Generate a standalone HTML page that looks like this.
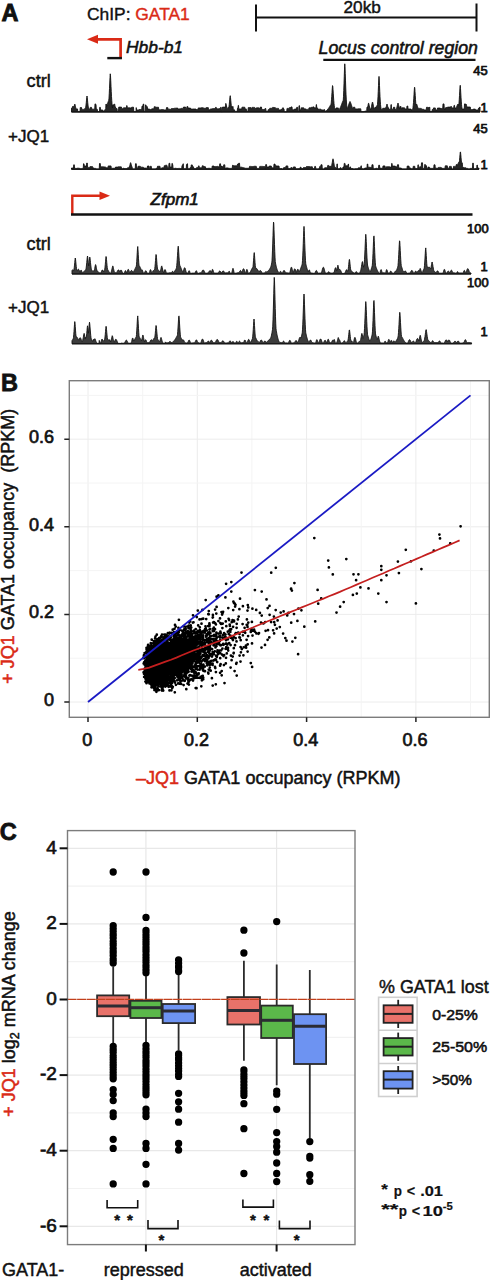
<!DOCTYPE html>
<html><head><meta charset="utf-8"><style>
html,body{margin:0;padding:0;background:#fff;}
svg{display:block;font-family:"Liberation Sans",sans-serif;}
</style></head><body>
<svg width="490" height="1280" viewBox="0 0 490 1280" style='font-family:"Liberation Sans",sans-serif'>
<text x="1.6" y="21.4" font-size="23.5" font-weight="bold" font-style="normal" text-anchor="start" fill="#111" stroke="#111" stroke-width="0.9" >A</text>
<text x="87" y="19.6" font-size="17.4" fill="#111" stroke="#111" stroke-width="0.4">ChIP: <tspan fill="#da2a16" stroke="#da2a16">GATA1</tspan></text>
<path d="M256 17.6H476.5M256 4.5V31.5M476.5 3.5V31.5" stroke="#111" stroke-width="2" fill="none"/>
<text x="362.2" y="13.2" font-size="17.2" font-weight="normal" font-style="normal" text-anchor="middle" fill="#111" stroke="#111" stroke-width="0.45" >20kb</text>
<path d="M95 39.3H120.6V59" stroke="#da2a16" stroke-width="2.7" fill="none"/>
<path d="M87.0 39.3L98.0 34.8L98.0 43.8Z" fill="#da2a16"/>
<path d="M107.3 58.1H121.9" stroke="#111" stroke-width="2.4" fill="none"/>
<text x="126" y="53.4" font-size="17.4" font-weight="normal" font-style="italic" text-anchor="start" fill="#111" stroke="#111" stroke-width="0.55" >Hbb-b1</text>
<text x="318.6" y="53.8" font-size="17.7" font-weight="normal" font-style="italic" text-anchor="start" fill="#111" stroke="#111" stroke-width="0.55" >Locus control region</text>
<path d="M323.3 59.8H475.5" stroke="#111" stroke-width="2.2"/>
<path d="M72.3 214V195.7H101" stroke="#da2a16" stroke-width="2.4" fill="none"/>
<path d="M110 195.7L99.5 191.4L99.5 200Z" fill="#da2a16"/>
<path d="M71 214.5H472.5" stroke="#111" stroke-width="2.4"/>
<text x="150.6" y="205.0" font-size="17" font-weight="normal" font-style="italic" text-anchor="start" fill="#111" stroke="#111" stroke-width="0.65" >Zfpm1</text>
<text x="26.6" y="87.4" font-size="18.2" font-weight="normal" font-style="normal" text-anchor="start" fill="#111" stroke="#111" stroke-width="0.45" >ctrl</text>
<text x="8" y="141.7" font-size="17.0" font-weight="normal" font-style="normal" text-anchor="start" fill="#111" stroke="#111" stroke-width="0.45" >+JQ1</text>
<text x="26.6" y="249.6" font-size="18.2" font-weight="normal" font-style="normal" text-anchor="start" fill="#111" stroke="#111" stroke-width="0.45" >ctrl</text>
<text x="8" y="312.7" font-size="17.0" font-weight="normal" font-style="normal" text-anchor="start" fill="#111" stroke="#111" stroke-width="0.45" >+JQ1</text>
<text x="487.6" y="75" font-size="12.9" font-weight="normal" font-style="normal" text-anchor="end" fill="#111" stroke="#111" stroke-width="0.75" >45</text>
<text x="487.6" y="111.8" font-size="12.9" font-weight="normal" font-style="normal" text-anchor="end" fill="#111" stroke="#111" stroke-width="0.75" >1</text>
<text x="487.6" y="132.5" font-size="12.9" font-weight="normal" font-style="normal" text-anchor="end" fill="#111" stroke="#111" stroke-width="0.75" >45</text>
<text x="487.6" y="169.4" font-size="12.9" font-weight="normal" font-style="normal" text-anchor="end" fill="#111" stroke="#111" stroke-width="0.75" >1</text>
<text x="488.6" y="233.2" font-size="12.9" font-weight="normal" font-style="normal" text-anchor="end" fill="#111" stroke="#111" stroke-width="0.75" >100</text>
<text x="487.6" y="270.8" font-size="12.9" font-weight="normal" font-style="normal" text-anchor="end" fill="#111" stroke="#111" stroke-width="0.75" >1</text>
<text x="488.6" y="287" font-size="12.9" font-weight="normal" font-style="normal" text-anchor="end" fill="#111" stroke="#111" stroke-width="0.75" >100</text>
<text x="487.6" y="336.3" font-size="12.9" font-weight="normal" font-style="normal" text-anchor="end" fill="#111" stroke="#111" stroke-width="0.75" >1</text>
<path d="M71.5,112 L71.50,108.2 L71.75,108.2 L72.00,108.2 L72.25,108.2 L72.50,106.5 L72.75,106.5 L73.00,106.5 L73.25,106.5 L73.50,106.5 L73.75,106.5 L74.00,106.5 L74.25,106.0 L74.50,104.9 L74.75,104.1 L75.00,104.5 L75.25,105.5 L75.50,106.7 L75.75,107.8 L76.00,108.8 L76.25,108.9 L76.50,108.9 L76.75,108.9 L77.00,108.9 L77.25,108.9 L77.50,108.9 L77.75,111.6 L78.00,111.6 L78.25,111.6 L78.50,111.6 L78.75,111.6 L79.00,111.6 L79.25,111.6 L79.50,111.6 L79.75,111.6 L80.00,111.6 L80.25,107.5 L80.50,107.5 L80.75,107.5 L81.00,107.5 L81.25,107.5 L81.50,107.5 L81.75,109.4 L82.00,109.4 L82.25,109.4 L82.50,109.4 L82.75,109.4 L83.00,109.4 L83.25,109.4 L83.50,109.4 L83.75,109.4 L84.00,109.4 L84.25,109.4 L84.50,109.4 L84.75,108.5 L85.00,108.5 L85.25,108.5 L85.50,108.5 L85.75,107.1 L86.00,105.1 L86.25,102.8 L86.50,100.1 L86.75,97.6 L87.00,96.0 L87.25,97.6 L87.50,100.1 L87.75,102.8 L88.00,105.1 L88.25,107.1 L88.50,108.1 L88.75,108.3 L89.00,108.6 L89.25,109.0 L89.50,109.3 L89.75,109.3 L90.00,109.3 L90.25,107.4 L90.50,107.4 L90.75,107.4 L91.00,107.4 L91.25,107.4 L91.50,107.4 L91.75,109.2 L92.00,109.2 L92.25,109.2 L92.50,109.2 L92.75,109.2 L93.00,109.2 L93.25,109.2 L93.50,109.2 L93.75,109.2 L94.00,109.2 L94.25,109.2 L94.50,109.2 L94.75,109.2 L95.00,103.9 L95.25,103.9 L95.50,103.9 L95.75,104.6 L96.00,104.6 L96.25,109.3 L96.50,109.3 L96.75,109.3 L97.00,109.3 L97.25,109.3 L97.50,111.5 L97.75,111.5 L98.00,111.5 L98.25,111.5 L98.50,111.5 L98.75,111.5 L99.00,111.5 L99.25,111.5 L99.50,111.5 L99.75,107.3 L100.00,107.3 L100.25,107.3 L100.50,109.9 L100.75,109.9 L101.00,109.9 L101.25,109.9 L101.50,109.9 L101.75,109.9 L102.00,109.9 L102.25,109.9 L102.50,109.9 L102.75,111.0 L103.00,111.0 L103.25,111.0 L103.50,111.0 L103.75,111.0 L104.00,110.8 L104.25,110.6 L104.50,110.3 L104.75,110.0 L105.00,109.7 L105.25,109.3 L105.50,108.9 L105.75,108.4 L106.00,104.0 L106.25,104.0 L106.50,106.7 L106.75,106.0 L107.00,105.3 L107.25,104.5 L107.50,103.8 L107.75,103.0 L108.00,102.2 L108.25,101.5 L108.50,100.8 L108.75,100.3 L109.00,98.2 L109.25,93.7 L109.50,88.5 L109.75,83.0 L110.00,77.6 L110.25,73.8 L110.50,75.8 L110.75,80.7 L111.00,86.3 L111.25,91.7 L111.50,96.5 L111.75,100.5 L112.00,103.7 L112.25,106.1 L112.50,108.0 L112.75,104.9 L113.00,104.9 L113.25,104.9 L113.50,104.9 L113.75,104.9 L114.00,104.2 L114.25,104.2 L114.50,104.2 L114.75,104.2 L115.00,106.9 L115.25,106.9 L115.50,106.9 L115.75,108.5 L116.00,108.5 L116.25,108.5 L116.50,108.5 L116.75,108.5 L117.00,108.5 L117.25,111.5 L117.50,111.5 L117.75,111.5 L118.00,111.5 L118.25,111.5 L118.50,111.5 L118.75,107.1 L119.00,107.1 L119.25,107.1 L119.50,107.1 L119.75,107.1 L120.00,107.1 L120.25,107.1 L120.50,107.1 L120.75,107.1 L121.00,107.1 L121.25,107.1 L121.50,107.1 L121.75,108.7 L122.00,108.7 L122.25,108.7 L122.50,108.7 L122.75,108.7 L123.00,108.7 L123.25,108.7 L123.50,107.8 L123.75,107.8 L124.00,107.8 L124.25,107.8 L124.50,107.8 L124.75,107.8 L125.00,107.8 L125.25,107.8 L125.50,107.8 L125.75,107.8 L126.00,107.8 L126.25,107.8 L126.50,107.8 L126.75,105.6 L127.00,105.6 L127.25,107.8 L127.50,107.8 L127.75,107.8 L128.00,107.8 L128.25,107.8 L128.50,107.8 L128.75,107.8 L129.00,107.8 L129.25,107.8 L129.50,107.8 L129.75,107.8 L130.00,107.8 L130.25,107.8 L130.50,108.0 L130.75,108.0 L131.00,108.0 L131.25,108.0 L131.50,108.0 L131.75,107.2 L132.00,107.2 L132.25,107.2 L132.50,107.2 L132.75,107.2 L133.00,107.2 L133.25,107.2 L133.50,107.2 L133.75,111.6 L134.00,111.6 L134.25,111.6 L134.50,111.6 L134.75,111.6 L135.00,111.6 L135.25,111.6 L135.50,111.6 L135.75,111.6 L136.00,111.6 L136.25,107.6 L136.50,109.9 L136.75,109.9 L137.00,109.9 L137.25,109.9 L137.50,109.9 L137.75,109.9 L138.00,109.9 L138.25,109.9 L138.50,109.9 L138.75,109.9 L139.00,109.5 L139.25,109.5 L139.50,109.5 L139.75,109.5 L140.00,109.5 L140.25,109.5 L140.50,109.5 L140.75,109.5 L141.00,109.5 L141.25,109.5 L141.50,109.5 L141.75,109.5 L142.00,106.1 L142.25,106.1 L142.50,106.1 L142.75,106.1 L143.00,106.1 L143.25,104.0 L143.50,104.0 L143.75,104.0 L144.00,111.4 L144.25,111.4 L144.50,111.4 L144.75,111.4 L145.00,111.4 L145.25,111.4 L145.50,104.9 L145.75,104.9 L146.00,104.9 L146.25,106.6 L146.50,106.6 L146.75,106.6 L147.00,106.6 L147.25,106.6 L147.50,109.0 L147.75,109.0 L148.00,109.0 L148.25,109.0 L148.50,109.0 L148.75,109.0 L149.00,109.0 L149.25,109.0 L149.50,109.0 L149.75,109.6 L150.00,109.6 L150.25,109.6 L150.50,109.6 L150.75,109.6 L151.00,109.6 L151.25,109.6 L151.50,109.6 L151.75,108.8 L152.00,108.8 L152.25,108.8 L152.50,108.8 L152.75,108.8 L153.00,108.8 L153.25,108.8 L153.50,108.8 L153.75,108.8 L154.00,108.8 L154.25,106.7 L154.50,106.7 L154.75,106.7 L155.00,106.7 L155.25,106.7 L155.50,107.3 L155.75,107.3 L156.00,107.3 L156.25,107.3 L156.50,107.3 L156.75,107.3 L157.00,107.3 L157.25,107.3 L157.50,107.3 L157.75,107.3 L158.00,107.3 L158.25,107.3 L158.50,107.3 L158.75,109.8 L159.00,109.8 L159.25,109.8 L159.50,109.8 L159.75,109.8 L160.00,109.8 L160.25,109.8 L160.50,109.8 L160.75,109.8 L161.00,109.6 L161.25,109.6 L161.50,109.6 L161.75,109.6 L162.00,109.6 L162.25,109.6 L162.50,109.6 L162.75,109.6 L163.00,109.6 L163.25,109.6 L163.50,109.6 L163.75,109.9 L164.00,109.9 L164.25,109.9 L164.50,109.9 L164.75,109.9 L165.00,109.9 L165.25,109.9 L165.50,109.9 L165.75,109.9 L166.00,109.9 L166.25,109.9 L166.50,107.6 L166.75,107.6 L167.00,107.6 L167.25,107.6 L167.50,107.6 L167.75,107.6 L168.00,109.2 L168.25,109.2 L168.50,109.2 L168.75,109.2 L169.00,109.2 L169.25,109.2 L169.50,109.2 L169.75,109.2 L170.00,109.2 L170.25,109.2 L170.50,109.2 L170.75,109.6 L171.00,109.6 L171.25,109.6 L171.50,108.5 L171.75,108.5 L172.00,108.5 L172.25,108.5 L172.50,108.5 L172.75,108.5 L173.00,108.5 L173.25,108.5 L173.50,108.5 L173.75,108.5 L174.00,108.5 L174.25,108.2 L174.50,108.2 L174.75,108.2 L175.00,108.2 L175.25,108.2 L175.50,108.2 L175.75,108.2 L176.00,108.2 L176.25,108.2 L176.50,108.1 L176.75,108.1 L177.00,108.1 L177.25,108.1 L177.50,108.1 L177.75,108.1 L178.00,109.1 L178.25,109.1 L178.50,109.1 L178.75,109.1 L179.00,109.1 L179.25,109.1 L179.50,108.8 L179.75,108.8 L180.00,108.8 L180.25,108.8 L180.50,108.8 L180.75,108.8 L181.00,108.4 L181.25,108.4 L181.50,108.4 L181.75,108.4 L182.00,108.4 L182.25,108.4 L182.50,108.4 L182.75,108.4 L183.00,108.4 L183.25,108.4 L183.50,107.1 L183.75,107.1 L184.00,107.1 L184.25,107.1 L184.50,107.1 L184.75,107.1 L185.00,107.1 L185.25,107.1 L185.50,107.1 L185.75,108.4 L186.00,108.4 L186.25,108.4 L186.50,108.4 L186.75,108.4 L187.00,106.5 L187.25,106.5 L187.50,106.5 L187.75,106.5 L188.00,108.1 L188.25,108.1 L188.50,108.1 L188.75,108.1 L189.00,108.1 L189.25,108.1 L189.50,108.1 L189.75,108.1 L190.00,108.1 L190.25,108.1 L190.50,108.1 L190.75,109.1 L191.00,109.1 L191.25,109.1 L191.50,109.1 L191.75,109.1 L192.00,109.1 L192.25,109.1 L192.50,109.1 L192.75,109.1 L193.00,109.1 L193.25,109.0 L193.50,109.0 L193.75,109.0 L194.00,109.0 L194.25,109.0 L194.50,109.0 L194.75,109.0 L195.00,109.0 L195.25,109.0 L195.50,109.0 L195.75,109.0 L196.00,109.0 L196.25,109.5 L196.50,109.5 L196.75,109.5 L197.00,109.5 L197.25,109.5 L197.50,109.5 L197.75,109.5 L198.00,109.5 L198.25,107.9 L198.50,107.9 L198.75,107.9 L199.00,107.9 L199.25,107.9 L199.50,107.9 L199.75,107.9 L200.00,107.9 L200.25,107.9 L200.50,107.9 L200.75,107.9 L201.00,107.7 L201.25,107.7 L201.50,107.7 L201.75,107.7 L202.00,107.7 L202.25,107.7 L202.50,107.7 L202.75,107.7 L203.00,107.7 L203.25,107.7 L203.50,108.3 L203.75,108.3 L204.00,108.3 L204.25,108.3 L204.50,108.3 L204.75,108.3 L205.00,108.3 L205.25,108.3 L205.50,108.3 L205.75,108.3 L206.00,108.3 L206.25,107.6 L206.50,107.6 L206.75,107.6 L207.00,107.6 L207.25,107.6 L207.50,107.6 L207.75,107.6 L208.00,107.6 L208.25,107.6 L208.50,109.7 L208.75,109.7 L209.00,109.7 L209.25,109.7 L209.50,109.7 L209.75,109.7 L210.00,109.7 L210.25,109.7 L210.50,108.9 L210.75,108.9 L211.00,108.9 L211.25,108.9 L211.50,108.9 L211.75,108.9 L212.00,108.9 L212.25,108.9 L212.50,108.6 L212.75,108.6 L213.00,108.6 L213.25,108.6 L213.50,108.6 L213.75,108.6 L214.00,108.6 L214.25,108.6 L214.50,108.6 L214.75,108.6 L215.00,108.6 L215.25,108.6 L215.50,107.4 L215.75,107.4 L216.00,107.4 L216.25,107.4 L216.50,108.8 L216.75,108.8 L217.00,108.8 L217.25,108.8 L217.50,108.8 L217.75,108.8 L218.00,108.8 L218.25,108.8 L218.50,108.8 L218.75,108.8 L219.00,108.8 L219.25,108.8 L219.50,108.5 L219.75,108.5 L220.00,108.5 L220.25,108.5 L220.50,107.4 L220.75,107.4 L221.00,107.4 L221.25,107.4 L221.50,111.7 L221.75,111.7 L222.00,111.7 L222.25,111.7 L222.50,107.1 L222.75,107.1 L223.00,107.1 L223.25,107.1 L223.50,107.1 L223.75,107.1 L224.00,107.1 L224.25,107.1 L224.50,107.1 L224.75,107.1 L225.00,107.1 L225.25,107.1 L225.50,107.1 L225.75,103.5 L226.00,103.5 L226.25,105.5 L226.50,105.5 L226.75,108.4 L227.00,108.4 L227.25,108.4 L227.50,108.4 L227.75,108.4 L228.00,107.4 L228.25,107.4 L228.50,107.4 L228.75,107.4 L229.00,106.6 L229.25,104.4 L229.50,101.9 L229.75,99.2 L230.00,96.7 L230.25,95.7 L230.50,97.6 L230.75,100.3 L231.00,103.0 L231.25,105.3 L231.50,107.1 L231.75,107.1 L232.00,107.1 L232.25,107.1 L232.50,107.1 L232.75,106.4 L233.00,106.4 L233.25,109.8 L233.50,109.8 L233.75,109.8 L234.00,109.8 L234.25,109.8 L234.50,109.8 L234.75,111.4 L235.00,111.4 L235.25,111.4 L235.50,111.4 L235.75,111.4 L236.00,111.4 L236.25,111.4 L236.50,111.4 L236.75,111.4 L237.00,111.4 L237.25,111.4 L237.50,108.2 L237.75,108.2 L238.00,108.2 L238.25,105.4 L238.50,105.4 L238.75,108.9 L239.00,108.9 L239.25,108.9 L239.50,108.9 L239.75,108.9 L240.00,108.9 L240.25,108.9 L240.50,108.9 L240.75,108.9 L241.00,108.9 L241.25,108.9 L241.50,108.9 L241.75,108.9 L242.00,107.2 L242.25,107.2 L242.50,107.2 L242.75,107.2 L243.00,107.2 L243.25,107.2 L243.50,107.2 L243.75,107.2 L244.00,107.2 L244.25,107.2 L244.50,107.2 L244.75,107.2 L245.00,108.9 L245.25,108.9 L245.50,108.9 L245.75,108.9 L246.00,108.9 L246.25,108.9 L246.50,111.3 L246.75,111.3 L247.00,111.3 L247.25,111.3 L247.50,111.3 L247.75,111.3 L248.00,111.3 L248.25,107.6 L248.50,107.6 L248.75,107.6 L249.00,107.6 L249.25,107.6 L249.50,107.6 L249.75,107.6 L250.00,107.6 L250.25,107.6 L250.50,107.6 L250.75,107.6 L251.00,107.6 L251.25,108.7 L251.50,108.7 L251.75,108.7 L252.00,107.4 L252.25,107.4 L252.50,107.4 L252.75,107.4 L253.00,107.4 L253.25,107.4 L253.50,107.4 L253.75,107.4 L254.00,107.4 L254.25,107.4 L254.50,107.4 L254.75,108.2 L255.00,108.2 L255.25,108.2 L255.50,108.2 L255.75,109.5 L256.00,109.5 L256.25,109.5 L256.50,107.8 L256.75,107.8 L257.00,107.8 L257.25,107.8 L257.50,107.8 L257.75,107.8 L258.00,107.8 L258.25,107.8 L258.50,107.8 L258.75,107.8 L259.00,108.5 L259.25,108.5 L259.50,108.5 L259.75,108.5 L260.00,108.5 L260.25,107.1 L260.50,107.1 L260.75,107.1 L261.00,107.1 L261.25,107.1 L261.50,107.1 L261.75,109.5 L262.00,109.5 L262.25,109.5 L262.50,109.5 L262.75,109.5 L263.00,109.5 L263.25,109.5 L263.50,109.5 L263.75,109.5 L264.00,109.5 L264.25,109.5 L264.50,109.5 L264.75,109.5 L265.00,108.5 L265.25,108.5 L265.50,108.5 L265.75,108.5 L266.00,111.3 L266.25,111.3 L266.50,111.3 L266.75,111.3 L267.00,111.3 L267.25,111.3 L267.50,111.3 L267.75,111.3 L268.00,111.3 L268.25,109.6 L268.50,109.6 L268.75,109.6 L269.00,109.6 L269.25,109.6 L269.50,109.6 L269.75,108.3 L270.00,108.3 L270.25,108.3 L270.50,108.3 L270.75,108.3 L271.00,108.3 L271.25,108.3 L271.50,108.3 L271.75,108.3 L272.00,108.3 L272.25,108.3 L272.50,108.3 L272.75,107.3 L273.00,107.3 L273.25,107.3 L273.50,107.6 L273.75,107.6 L274.00,107.6 L274.25,107.6 L274.50,107.6 L274.75,107.6 L275.00,107.6 L275.25,107.6 L275.50,108.4 L275.75,108.4 L276.00,108.4 L276.25,108.4 L276.50,108.4 L276.75,108.4 L277.00,108.4 L277.25,108.4 L277.50,108.4 L277.75,108.4 L278.00,108.4 L278.25,108.4 L278.50,108.4 L278.75,109.9 L279.00,109.9 L279.25,109.9 L279.50,109.9 L279.75,109.9 L280.00,109.9 L280.25,109.9 L280.50,109.9 L280.75,109.9 L281.00,109.3 L281.25,109.3 L281.50,109.3 L281.75,109.3 L282.00,109.3 L282.25,109.3 L282.50,109.3 L282.75,107.8 L283.00,107.8 L283.25,107.8 L283.50,108.9 L283.75,108.9 L284.00,108.9 L284.25,111.7 L284.50,111.7 L284.75,111.7 L285.00,111.7 L285.25,111.7 L285.50,111.7 L285.75,111.7 L286.00,111.7 L286.25,111.7 L286.50,111.7 L286.75,111.7 L287.00,108.4 L287.25,108.4 L287.50,108.4 L287.75,108.4 L288.00,108.4 L288.25,108.4 L288.50,108.4 L288.75,108.4 L289.00,108.4 L289.25,108.4 L289.50,107.6 L289.75,107.6 L290.00,107.6 L290.25,107.6 L290.50,107.6 L290.75,107.6 L291.00,106.9 L291.25,106.9 L291.50,106.9 L291.75,106.9 L292.00,106.9 L292.25,109.8 L292.50,109.8 L292.75,109.8 L293.00,109.8 L293.25,109.8 L293.50,109.8 L293.75,109.8 L294.00,109.8 L294.25,109.8 L294.50,109.0 L294.75,109.0 L295.00,109.0 L295.25,109.0 L295.50,109.0 L295.75,109.0 L296.00,109.0 L296.25,109.0 L296.50,109.0 L296.75,107.3 L297.00,107.3 L297.25,107.3 L297.50,107.3 L297.75,111.3 L298.00,111.3 L298.25,111.3 L298.50,111.3 L298.75,111.3 L299.00,105.7 L299.25,105.7 L299.50,105.7 L299.75,109.8 L300.00,109.8 L300.25,109.8 L300.50,109.8 L300.75,109.8 L301.00,109.8 L301.25,107.8 L301.50,107.8 L301.75,107.8 L302.00,107.8 L302.25,107.8 L302.50,107.8 L302.75,107.8 L303.00,107.8 L303.25,107.8 L303.50,107.8 L303.75,107.8 L304.00,108.9 L304.25,108.9 L304.50,108.9 L304.75,108.9 L305.00,108.9 L305.25,108.9 L305.50,108.9 L305.75,108.9 L306.00,108.9 L306.25,109.4 L306.50,109.4 L306.75,109.4 L307.00,109.4 L307.25,109.4 L307.50,109.4 L307.75,109.4 L308.00,109.4 L308.25,109.4 L308.50,109.4 L308.75,109.4 L309.00,107.8 L309.25,107.8 L309.50,107.8 L309.75,107.8 L310.00,107.8 L310.25,107.8 L310.50,107.8 L310.75,107.8 L311.00,107.8 L311.25,107.8 L311.50,107.2 L311.75,107.2 L312.00,107.2 L312.25,107.2 L312.50,107.2 L312.75,107.2 L313.00,106.9 L313.25,106.9 L313.50,106.9 L313.75,106.9 L314.00,106.9 L314.25,107.9 L314.50,107.9 L314.75,107.9 L315.00,107.9 L315.25,107.9 L315.50,107.7 L315.75,107.7 L316.00,107.7 L316.25,104.6 L316.50,104.6 L316.75,107.8 L317.00,107.8 L317.25,107.8 L317.50,109.1 L317.75,109.1 L318.00,109.1 L318.25,109.1 L318.50,109.1 L318.75,109.2 L319.00,109.2 L319.25,109.2 L319.50,109.2 L319.75,109.2 L320.00,109.2 L320.25,109.2 L320.50,109.2 L320.75,109.2 L321.00,109.2 L321.25,109.9 L321.50,109.9 L321.75,109.9 L322.00,109.9 L322.25,109.9 L322.50,109.9 L322.75,109.9 L323.00,109.9 L323.25,109.9 L323.50,109.9 L323.75,109.9 L324.00,109.6 L324.25,109.6 L324.50,109.6 L324.75,111.4 L325.00,111.3 L325.25,111.2 L325.50,111.1 L325.75,111.0 L326.00,110.9 L326.25,110.7 L326.50,110.5 L326.75,110.3 L327.00,110.1 L327.25,109.9 L327.50,109.6 L327.75,109.1 L328.00,109.0 L328.25,108.7 L328.50,108.4 L328.75,108.0 L329.00,107.6 L329.25,107.2 L329.50,106.8 L329.75,106.4 L330.00,105.9 L330.25,105.5 L330.50,105.1 L330.75,104.7 L331.00,104.4 L331.25,102.9 L331.50,99.8 L331.75,96.3 L332.00,92.4 L332.25,88.6 L332.50,85.6 L332.75,86.1 L333.00,89.3 L333.25,93.2 L333.50,97.0 L333.75,100.5 L334.00,103.4 L334.25,105.8 L334.50,107.6 L334.75,108.7 L335.00,109.0 L335.25,109.1 L335.50,109.1 L335.75,109.1 L336.00,107.9 L336.25,107.9 L336.50,107.9 L336.75,107.9 L337.00,107.9 L337.25,107.9 L337.50,107.9 L337.75,107.9 L338.00,107.9 L338.25,107.9 L338.50,109.5 L338.75,109.5 L339.00,109.5 L339.25,109.4 L339.50,109.0 L339.75,108.6 L340.00,108.2 L340.25,107.7 L340.50,107.2 L340.75,106.6 L341.00,106.0 L341.25,105.3 L341.50,104.7 L341.75,104.0 L342.00,103.3 L342.25,102.6 L342.50,101.9 L342.75,101.3 L343.00,100.7 L343.25,100.3 L343.50,96.3 L343.75,90.6 L344.00,83.8 L344.25,76.4 L344.50,69.1 L344.75,63.8 L345.00,66.6 L345.25,73.4 L345.50,80.9 L345.75,88.0 L346.00,94.1 L346.25,99.1 L346.50,103.0 L346.75,105.9 L347.00,107.9 L347.25,108.3 L347.50,108.0 L347.75,107.4 L348.00,106.7 L348.25,106.0 L348.50,105.3 L348.75,104.5 L349.00,103.8 L349.25,103.0 L349.50,102.4 L349.75,101.8 L350.00,101.5 L350.25,101.8 L350.50,102.4 L350.75,103.0 L351.00,103.8 L351.25,104.5 L351.50,105.3 L351.75,106.0 L352.00,106.7 L352.25,107.4 L352.50,108.0 L352.75,108.6 L353.00,108.6 L353.25,108.6 L353.50,107.2 L353.75,107.2 L354.00,107.2 L354.25,107.2 L354.50,107.2 L354.75,107.2 L355.00,108.9 L355.25,108.9 L355.50,108.9 L355.75,108.9 L356.00,108.9 L356.25,108.9 L356.50,108.9 L356.75,108.9 L357.00,108.9 L357.25,108.9 L357.50,108.9 L357.75,108.9 L358.00,108.8 L358.25,108.8 L358.50,108.8 L358.75,108.8 L359.00,108.8 L359.25,108.8 L359.50,108.8 L359.75,108.8 L360.00,108.8 L360.25,108.8 L360.50,108.8 L360.75,108.8 L361.00,111.6 L361.25,111.6 L361.50,111.6 L361.75,111.6 L362.00,111.6 L362.25,111.6 L362.50,111.6 L362.75,111.6 L363.00,111.6 L363.25,111.6 L363.50,111.6 L363.75,111.6 L364.00,111.6 L364.25,111.3 L364.50,111.3 L364.75,111.3 L365.00,111.1 L365.25,111.1 L365.50,111.1 L365.75,111.1 L366.00,111.1 L366.25,111.1 L366.50,110.9 L366.75,110.4 L367.00,107.1 L367.25,107.1 L367.50,107.1 L367.75,106.8 L368.00,105.5 L368.25,104.2 L368.50,103.2 L368.75,103.4 L369.00,104.4 L369.25,105.7 L369.50,107.0 L369.75,108.2 L370.00,109.0 L370.25,109.0 L370.50,109.0 L370.75,109.0 L371.00,108.5 L371.25,107.5 L371.50,106.4 L371.75,105.1 L372.00,103.9 L372.25,102.7 L372.50,102.0 L372.75,102.7 L373.00,103.9 L373.25,105.1 L373.50,106.4 L373.75,107.5 L374.00,108.5 L374.25,108.5 L374.50,108.5 L374.75,108.5 L375.00,107.3 L375.25,107.3 L375.50,107.3 L375.75,107.3 L376.00,107.3 L376.25,107.0 L376.50,106.5 L376.75,106.0 L377.00,105.5 L377.25,105.0 L377.50,104.4 L377.75,101.1 L378.00,96.7 L378.25,91.4 L378.50,85.6 L378.75,80.0 L379.00,76.4 L379.25,80.0 L379.50,85.6 L379.75,91.4 L380.00,96.7 L380.25,101.1 L380.50,104.4 L380.75,107.0 L381.00,108.2 L381.25,109.5 L381.50,109.5 L381.75,109.5 L382.00,109.5 L382.25,109.5 L382.50,109.5 L382.75,108.3 L383.00,108.3 L383.25,108.3 L383.50,108.3 L383.75,108.3 L384.00,108.3 L384.25,108.3 L384.50,108.3 L384.75,108.3 L385.00,108.3 L385.25,108.3 L385.50,107.8 L385.75,107.8 L386.00,107.8 L386.25,106.9 L386.50,105.7 L386.75,104.7 L387.00,104.0 L387.25,104.7 L387.50,105.7 L387.75,106.9 L388.00,107.8 L388.25,107.8 L388.50,107.8 L388.75,109.3 L389.00,109.3 L389.25,109.3 L389.50,109.3 L389.75,109.3 L390.00,109.3 L390.25,109.3 L390.50,109.3 L390.75,109.3 L391.00,104.6 L391.25,104.6 L391.50,109.2 L391.75,109.2 L392.00,109.2 L392.25,109.2 L392.50,109.2 L392.75,109.2 L393.00,109.2 L393.25,109.2 L393.50,107.3 L393.75,107.3 L394.00,107.3 L394.25,107.3 L394.50,107.3 L394.75,107.3 L395.00,109.5 L395.25,109.5 L395.50,109.5 L395.75,109.5 L396.00,109.5 L396.25,109.5 L396.50,108.9 L396.75,108.0 L397.00,107.0 L397.25,105.8 L397.50,104.7 L397.75,103.6 L398.00,103.0 L398.25,103.6 L398.50,104.7 L398.75,105.8 L399.00,107.0 L399.25,108.0 L399.50,108.9 L399.75,108.9 L400.00,106.5 L400.25,106.5 L400.50,106.5 L400.75,106.5 L401.00,106.5 L401.25,108.9 L401.50,108.9 L401.75,108.9 L402.00,107.8 L402.25,107.8 L402.50,107.8 L402.75,107.8 L403.00,107.8 L403.25,107.8 L403.50,107.8 L403.75,107.8 L404.00,107.8 L404.25,107.8 L404.50,107.8 L404.75,108.9 L405.00,108.9 L405.25,108.9 L405.50,108.9 L405.75,108.9 L406.00,108.9 L406.25,108.9 L406.50,108.9 L406.75,108.9 L407.00,106.0 L407.25,106.0 L407.50,106.0 L407.75,106.0 L408.00,109.0 L408.25,109.0 L408.50,109.0 L408.75,109.0 L409.00,109.0 L409.25,109.0 L409.50,109.0 L409.75,109.0 L410.00,109.0 L410.25,109.0 L410.50,109.0 L410.75,109.0 L411.00,109.0 L411.25,110.0 L411.50,110.0 L411.75,110.0 L412.00,110.0 L412.25,109.8 L412.50,109.4 L412.75,108.9 L413.00,107.4 L413.25,105.2 L413.50,102.4 L413.75,98.8 L414.00,94.8 L414.25,90.6 L414.50,87.2 L414.75,87.7 L415.00,91.4 L415.25,95.6 L415.50,99.6 L415.75,103.0 L416.00,105.0 L416.25,104.4 L416.50,104.0 L416.75,104.4 L417.00,105.0 L417.25,105.7 L417.50,106.5 L417.75,107.3 L418.00,108.0 L418.25,108.4 L418.50,108.4 L418.75,108.4 L419.00,108.4 L419.25,108.4 L419.50,108.4 L419.75,108.4 L420.00,108.4 L420.25,108.4 L420.50,108.4 L420.75,108.4 L421.00,108.4 L421.25,108.4 L421.50,109.3 L421.75,109.3 L422.00,109.3 L422.25,109.3 L422.50,109.3 L422.75,109.3 L423.00,109.3 L423.25,109.3 L423.50,109.3 L423.75,109.3 L424.00,109.9 L424.25,109.9 L424.50,109.9 L424.75,109.9 L425.00,109.9 L425.25,109.9 L425.50,109.9 L425.75,109.9 L426.00,109.9 L426.25,109.9 L426.50,107.3 L426.75,107.3 L427.00,107.3 L427.25,107.3 L427.50,107.3 L427.75,107.3 L428.00,107.6 L428.25,107.6 L428.50,107.6 L428.75,107.6 L429.00,107.6 L429.25,107.6 L429.50,107.1 L429.75,107.1 L430.00,111.6 L430.25,111.6 L430.50,111.6 L430.75,111.6 L431.00,111.6 L431.25,111.6 L431.50,111.6 L431.75,111.6 L432.00,111.6 L432.25,109.5 L432.50,109.5 L432.75,109.5 L433.00,109.5 L433.25,109.5 L433.50,107.9 L433.75,107.9 L434.00,107.9 L434.25,107.9 L434.50,107.9 L434.75,107.9 L435.00,107.9 L435.25,107.9 L435.50,109.9 L435.75,109.9 L436.00,109.9 L436.25,109.9 L436.50,109.9 L436.75,109.9 L437.00,109.9 L437.25,109.9 L437.50,108.0 L437.75,108.0 L438.00,108.0 L438.25,108.0 L438.50,108.0 L438.75,108.0 L439.00,108.0 L439.25,108.0 L439.50,108.0 L439.75,108.0 L440.00,108.0 L440.25,108.0 L440.50,108.5 L440.75,108.5 L441.00,108.5 L441.25,108.5 L441.50,108.5 L441.75,108.5 L442.00,108.5 L442.25,108.5 L442.50,108.5 L442.75,108.5 L443.00,103.9 L443.25,103.9 L443.50,103.9 L443.75,103.9 L444.00,103.9 L444.25,109.0 L444.50,109.0 L444.75,109.0 L445.00,109.0 L445.25,109.0 L445.50,109.0 L445.75,107.5 L446.00,107.5 L446.25,107.5 L446.50,107.5 L446.75,107.5 L447.00,107.5 L447.25,107.5 L447.50,107.1 L447.75,107.1 L448.00,107.1 L448.25,107.1 L448.50,107.1 L448.75,107.1 L449.00,107.1 L449.25,107.1 L449.50,107.1 L449.75,107.1 L450.00,107.1 L450.25,107.1 L450.50,107.1 L450.75,106.6 L451.00,106.6 L451.25,106.6 L451.50,106.6 L451.75,107.9 L452.00,107.9 L452.25,107.9 L452.50,107.9 L452.75,107.9 L453.00,107.9 L453.25,107.9 L453.50,107.9 L453.75,107.9 L454.00,105.4 L454.25,105.4 L454.50,105.4 L454.75,108.1 L455.00,108.1 L455.25,108.1 L455.50,108.1 L455.75,108.1 L456.00,108.1 L456.25,107.7 L456.50,107.1 L456.75,106.5 L457.00,105.9 L457.25,105.3 L457.50,104.7 L457.75,104.3 L458.00,104.0 L458.25,104.3 L458.50,104.7 L458.75,105.3 L459.00,103.1 L459.25,99.6 L459.50,95.5 L459.75,91.1 L460.00,87.0 L460.25,85.3 L460.50,88.5 L460.75,92.9 L461.00,97.2 L461.25,101.1 L461.50,104.3 L461.75,106.7 L462.00,108.5 L462.25,109.0 L462.50,109.0 L462.75,109.0 L463.00,109.0 L463.25,109.0 L463.50,109.0 L463.75,109.0 L464.00,109.0 L464.25,109.0 L464.50,103.9 L464.75,103.9 L465.00,103.9 L465.25,103.9 L465.50,103.9 L465.75,104.5 L466.00,104.0 L466.25,104.5 L466.50,105.3 L466.75,106.2 L467.00,107.1 L467.25,107.1 L467.50,107.1 L467.75,107.1 L468.00,107.0 L468.25,107.0 L468.50,107.0 L468.75,107.0 L469.00,107.0 L469.25,107.0 L469.50,107.0 L469.75,107.0 L470.00,107.0 L470.25,107.0 L470.50,109.6 L470.75,109.6 L471.00,109.6 L471.25,109.6 L471.50,109.6 L471.75,109.6 L472.00,109.6 L472.25,109.6 L472.50,109.6 L472.75,109.6 L473.00,109.6 L473.25,109.1 L473.50,109.1 L473.75,109.1 L474.00,109.1 L474.25,109.1 L474.50,109.1 L474.75,109.1 L475.00,109.1 L475.25,109.1 L475.50,109.9 L475.75,109.9 L476.00,109.9 L476.25,109.9 L476.50,109.9 L476.75,109.9 L477.00,109.9 L477.25,109.9 L477.50,109.9 L477.75,109.9 L478.00,109.9 L478.25,109.9 L478.50,108.2 L478.75,108.2 L479.00,108.2 L479.25,108.2 L479.50,108.2 L479.75,107.1 L480.00,107.1 L480,112Z" fill="#262626" stroke="#111" stroke-width="0.9" stroke-linejoin="miter"/>
<path d="M71.5 112H480" stroke="#111" stroke-width="1.0"/>
<path d="M71.5,169.3 L71.50,168.0 L71.75,168.0 L72.00,168.0 L72.25,168.0 L72.50,168.0 L72.75,168.0 L73.00,168.0 L73.25,168.0 L73.50,168.0 L73.75,164.8 L74.00,164.8 L74.25,164.8 L74.50,168.2 L74.75,168.2 L75.00,168.2 L75.25,168.2 L75.50,168.2 L75.75,168.5 L76.00,168.5 L76.25,168.5 L76.50,168.5 L76.75,168.2 L77.00,168.2 L77.25,168.2 L77.50,168.2 L77.75,168.2 L78.00,168.2 L78.25,168.2 L78.50,168.2 L78.75,168.2 L79.00,168.2 L79.25,168.2 L79.50,168.2 L79.75,168.7 L80.00,168.7 L80.25,168.7 L80.50,168.7 L80.75,168.7 L81.00,168.7 L81.25,168.7 L81.50,168.7 L81.75,168.7 L82.00,168.7 L82.25,168.4 L82.50,168.4 L82.75,168.4 L83.00,168.4 L83.25,168.4 L83.50,163.8 L83.75,163.8 L84.00,163.8 L84.25,166.0 L84.50,166.0 L84.75,166.0 L85.00,166.0 L85.25,166.0 L85.50,166.0 L85.75,166.0 L86.00,166.0 L86.25,166.0 L86.50,166.0 L86.75,163.0 L87.00,163.0 L87.25,163.0 L87.50,167.4 L87.75,167.4 L88.00,167.4 L88.25,167.4 L88.50,167.4 L88.75,167.4 L89.00,167.4 L89.25,167.4 L89.50,167.4 L89.75,167.4 L90.00,166.6 L90.25,166.6 L90.50,166.6 L90.75,166.6 L91.00,166.6 L91.25,166.6 L91.50,166.6 L91.75,166.6 L92.00,166.6 L92.25,166.6 L92.50,166.6 L92.75,167.9 L93.00,167.9 L93.25,167.9 L93.50,167.9 L93.75,167.9 L94.00,168.4 L94.25,168.4 L94.50,168.4 L94.75,168.4 L95.00,168.4 L95.25,168.4 L95.50,168.4 L95.75,168.4 L96.00,168.9 L96.25,168.9 L96.50,168.9 L96.75,168.9 L97.00,168.9 L97.25,168.9 L97.50,168.9 L97.75,168.9 L98.00,168.9 L98.25,168.9 L98.50,168.9 L98.75,168.9 L99.00,168.9 L99.25,168.8 L99.50,163.5 L99.75,163.5 L100.00,163.5 L100.25,163.5 L100.50,166.8 L100.75,166.8 L101.00,166.8 L101.25,166.8 L101.50,166.8 L101.75,166.8 L102.00,166.8 L102.25,166.8 L102.50,166.8 L102.75,166.8 L103.00,166.8 L103.25,166.8 L103.50,166.8 L103.75,166.9 L104.00,166.9 L104.25,166.9 L104.50,166.9 L104.75,166.9 L105.00,166.9 L105.25,166.9 L105.50,166.9 L105.75,167.7 L106.00,167.7 L106.25,167.7 L106.50,167.7 L106.75,167.7 L107.00,167.7 L107.25,167.7 L107.50,167.7 L107.75,167.7 L108.00,167.7 L108.25,165.9 L108.50,165.9 L108.75,165.9 L109.00,165.9 L109.25,165.9 L109.50,165.9 L109.75,165.9 L110.00,165.9 L110.25,165.9 L110.50,165.9 L110.75,165.9 L111.00,165.9 L111.25,168.4 L111.50,168.4 L111.75,168.4 L112.00,168.4 L112.25,168.4 L112.50,168.3 L112.75,168.3 L113.00,168.3 L113.25,168.3 L113.50,168.3 L113.75,168.3 L114.00,168.3 L114.25,168.3 L114.50,168.3 L114.75,168.3 L115.00,168.3 L115.25,168.3 L115.50,167.1 L115.75,167.1 L116.00,167.1 L116.25,167.1 L116.50,167.1 L116.75,167.1 L117.00,167.1 L117.25,167.1 L117.50,167.1 L117.75,167.1 L118.00,167.1 L118.25,166.8 L118.50,166.8 L118.75,166.8 L119.00,166.8 L119.25,166.8 L119.50,166.8 L119.75,166.8 L120.00,166.8 L120.25,166.8 L120.50,166.8 L120.75,166.8 L121.00,166.8 L121.25,166.8 L121.50,168.8 L121.75,168.8 L122.00,168.8 L122.25,168.8 L122.50,168.8 L122.75,168.8 L123.00,168.8 L123.25,168.2 L123.50,168.2 L123.75,168.2 L124.00,168.2 L124.25,168.5 L124.50,168.5 L124.75,168.5 L125.00,168.5 L125.25,168.5 L125.50,168.5 L125.75,168.5 L126.00,168.5 L126.25,168.5 L126.50,168.5 L126.75,168.5 L127.00,168.5 L127.25,168.5 L127.50,167.8 L127.75,167.8 L128.00,167.8 L128.25,167.8 L128.50,167.8 L128.75,167.8 L129.00,167.8 L129.25,166.6 L129.50,166.6 L129.75,165.8 L130.00,164.7 L130.25,163.6 L130.50,162.7 L130.75,162.8 L131.00,163.8 L131.25,164.9 L131.50,166.0 L131.75,166.6 L132.00,166.6 L132.25,168.2 L132.50,168.6 L132.75,168.8 L133.00,168.9 L133.25,168.9 L133.50,168.9 L133.75,168.9 L134.00,168.9 L134.25,168.9 L134.50,168.9 L134.75,168.9 L135.00,168.9 L135.25,168.9 L135.50,163.7 L135.75,163.7 L136.00,163.7 L136.25,163.7 L136.50,168.3 L136.75,168.3 L137.00,168.3 L137.25,168.3 L137.50,168.3 L137.75,168.3 L138.00,166.3 L138.25,166.3 L138.50,166.3 L138.75,166.3 L139.00,166.3 L139.25,166.3 L139.50,166.3 L139.75,166.3 L140.00,166.3 L140.25,166.3 L140.50,167.2 L140.75,167.2 L141.00,167.2 L141.25,167.2 L141.50,167.2 L141.75,167.2 L142.00,167.2 L142.25,167.2 L142.50,167.2 L142.75,167.2 L143.00,167.2 L143.25,167.2 L143.50,168.1 L143.75,168.1 L144.00,168.1 L144.25,168.1 L144.50,168.1 L144.75,168.1 L145.00,168.1 L145.25,168.1 L145.50,168.1 L145.75,168.1 L146.00,168.1 L146.25,168.2 L146.50,168.2 L146.75,168.2 L147.00,168.2 L147.25,168.2 L147.50,166.0 L147.75,166.0 L148.00,166.0 L148.25,166.0 L148.50,166.0 L148.75,166.0 L149.00,166.0 L149.25,168.4 L149.50,168.4 L149.75,168.4 L150.00,168.4 L150.25,166.3 L150.50,166.3 L150.75,166.3 L151.00,166.3 L151.25,166.3 L151.50,168.9 L151.75,168.9 L152.00,168.9 L152.25,168.9 L152.50,168.9 L152.75,168.9 L153.00,168.9 L153.25,168.9 L153.50,168.9 L153.75,168.9 L154.00,168.9 L154.25,168.9 L154.50,168.9 L154.75,168.9 L155.00,168.9 L155.25,168.9 L155.50,168.9 L155.75,168.9 L156.00,168.9 L156.25,168.3 L156.50,168.3 L156.75,168.3 L157.00,168.3 L157.25,168.3 L157.50,166.3 L157.75,166.3 L158.00,166.3 L158.25,166.3 L158.50,166.3 L158.75,166.3 L159.00,166.3 L159.25,166.3 L159.50,166.3 L159.75,166.3 L160.00,166.3 L160.25,168.7 L160.50,168.7 L160.75,168.7 L161.00,168.7 L161.25,168.7 L161.50,168.7 L161.75,167.8 L162.00,167.8 L162.25,167.8 L162.50,167.8 L162.75,167.8 L163.00,167.8 L163.25,167.8 L163.50,167.8 L163.75,167.8 L164.00,167.8 L164.25,165.7 L164.50,165.7 L164.75,165.7 L165.00,165.7 L165.25,165.7 L165.50,165.2 L165.75,165.2 L166.00,165.2 L166.25,165.2 L166.50,165.2 L166.75,165.4 L167.00,165.4 L167.25,167.4 L167.50,167.4 L167.75,167.4 L168.00,167.4 L168.25,167.4 L168.50,167.4 L168.75,167.4 L169.00,163.3 L169.25,163.3 L169.50,163.3 L169.75,163.3 L170.00,167.1 L170.25,167.1 L170.50,167.1 L170.75,167.1 L171.00,167.1 L171.25,167.1 L171.50,167.1 L171.75,167.1 L172.00,163.4 L172.25,163.4 L172.50,164.6 L172.75,164.6 L173.00,168.4 L173.25,168.4 L173.50,168.4 L173.75,168.4 L174.00,168.4 L174.25,168.4 L174.50,168.4 L174.75,168.4 L175.00,168.3 L175.25,168.3 L175.50,168.3 L175.75,168.3 L176.00,168.3 L176.25,168.4 L176.50,168.4 L176.75,168.4 L177.00,168.4 L177.25,168.4 L177.50,168.5 L177.75,168.5 L178.00,168.5 L178.25,168.5 L178.50,168.4 L178.75,168.4 L179.00,168.4 L179.25,168.4 L179.50,168.4 L179.75,168.4 L180.00,168.4 L180.25,168.6 L180.50,168.6 L180.75,168.6 L181.00,168.6 L181.25,168.6 L181.50,168.6 L181.75,168.6 L182.00,165.5 L182.25,165.5 L182.50,165.5 L182.75,165.5 L183.00,163.8 L183.25,163.8 L183.50,168.7 L183.75,168.7 L184.00,168.7 L184.25,168.7 L184.50,168.7 L184.75,168.7 L185.00,168.7 L185.25,168.7 L185.50,168.7 L185.75,168.7 L186.00,168.7 L186.25,168.7 L186.50,164.6 L186.75,164.6 L187.00,163.8 L187.25,163.8 L187.50,163.8 L187.75,168.8 L188.00,168.8 L188.25,168.8 L188.50,168.8 L188.75,168.8 L189.00,168.8 L189.25,168.8 L189.50,168.8 L189.75,168.8 L190.00,168.8 L190.25,167.5 L190.50,167.5 L190.75,167.5 L191.00,167.5 L191.25,164.9 L191.50,164.9 L191.75,164.9 L192.00,164.9 L192.25,164.9 L192.50,166.8 L192.75,166.8 L193.00,166.8 L193.25,166.8 L193.50,166.8 L193.75,168.6 L194.00,168.6 L194.25,168.6 L194.50,168.6 L194.75,168.6 L195.00,168.6 L195.25,168.6 L195.50,168.6 L195.75,168.6 L196.00,168.6 L196.25,168.6 L196.50,168.6 L196.75,167.4 L197.00,167.4 L197.25,167.4 L197.50,167.4 L197.75,167.4 L198.00,167.4 L198.25,167.4 L198.50,167.4 L198.75,165.8 L199.00,165.8 L199.25,167.8 L199.50,167.8 L199.75,167.8 L200.00,167.8 L200.25,167.8 L200.50,167.8 L200.75,167.8 L201.00,167.8 L201.25,167.8 L201.50,167.8 L201.75,167.8 L202.00,167.8 L202.25,165.8 L202.50,165.8 L202.75,165.8 L203.00,165.8 L203.25,165.8 L203.50,166.6 L203.75,166.6 L204.00,166.6 L204.25,166.6 L204.50,166.6 L204.75,166.6 L205.00,166.6 L205.25,166.6 L205.50,168.0 L205.75,168.0 L206.00,168.0 L206.25,168.0 L206.50,168.9 L206.75,168.9 L207.00,168.9 L207.25,168.9 L207.50,168.3 L207.75,168.3 L208.00,168.3 L208.25,168.3 L208.50,168.3 L208.75,168.3 L209.00,168.3 L209.25,168.3 L209.50,168.3 L209.75,168.3 L210.00,168.3 L210.25,168.4 L210.50,168.4 L210.75,168.4 L211.00,168.4 L211.25,168.4 L211.50,168.4 L211.75,168.4 L212.00,168.4 L212.25,166.0 L212.50,166.0 L212.75,166.0 L213.00,166.0 L213.25,166.0 L213.50,166.0 L213.75,166.0 L214.00,166.0 L214.25,166.6 L214.50,166.6 L214.75,166.6 L215.00,166.6 L215.25,166.6 L215.50,166.6 L215.75,166.6 L216.00,166.6 L216.25,166.6 L216.50,166.6 L216.75,166.6 L217.00,166.6 L217.25,166.3 L217.50,166.3 L217.75,166.3 L218.00,166.7 L218.25,166.7 L218.50,166.7 L218.75,166.7 L219.00,166.7 L219.25,166.7 L219.50,166.7 L219.75,163.8 L220.00,163.8 L220.25,163.8 L220.50,163.8 L220.75,168.8 L221.00,168.8 L221.25,168.8 L221.50,166.0 L221.75,166.0 L222.00,166.0 L222.25,166.8 L222.50,166.8 L222.75,166.8 L223.00,166.8 L223.25,166.8 L223.50,166.8 L223.75,164.8 L224.00,164.8 L224.25,164.8 L224.50,164.8 L224.75,164.8 L225.00,168.7 L225.25,168.7 L225.50,168.7 L225.75,167.9 L226.00,167.9 L226.25,167.9 L226.50,167.9 L226.75,167.9 L227.00,167.9 L227.25,167.9 L227.50,167.9 L227.75,167.9 L228.00,167.9 L228.25,167.9 L228.50,168.3 L228.75,168.3 L229.00,168.3 L229.25,168.3 L229.50,168.4 L229.75,168.4 L230.00,168.4 L230.25,168.4 L230.50,168.4 L230.75,168.4 L231.00,168.4 L231.25,168.4 L231.50,168.4 L231.75,168.4 L232.00,168.4 L232.25,168.4 L232.50,165.3 L232.75,165.3 L233.00,165.3 L233.25,165.6 L233.50,165.6 L233.75,165.6 L234.00,165.6 L234.25,165.8 L234.50,165.8 L234.75,165.8 L235.00,165.8 L235.25,165.8 L235.50,165.8 L235.75,165.8 L236.00,165.8 L236.25,165.8 L236.50,165.8 L236.75,165.8 L237.00,165.8 L237.25,165.8 L237.50,164.1 L237.75,164.1 L238.00,164.1 L238.25,164.1 L238.50,164.1 L238.75,163.2 L239.00,163.2 L239.25,163.2 L239.50,163.2 L239.75,167.2 L240.00,167.2 L240.25,167.2 L240.50,167.2 L240.75,167.2 L241.00,167.2 L241.25,167.2 L241.50,167.2 L241.75,167.2 L242.00,167.2 L242.25,167.2 L242.50,167.7 L242.75,167.7 L243.00,167.7 L243.25,167.7 L243.50,167.7 L243.75,167.7 L244.00,167.7 L244.25,167.7 L244.50,168.3 L244.75,168.3 L245.00,168.3 L245.25,168.3 L245.50,168.3 L245.75,168.3 L246.00,168.3 L246.25,168.3 L246.50,168.3 L246.75,168.3 L247.00,168.3 L247.25,168.3 L247.50,168.3 L247.75,168.3 L248.00,168.3 L248.25,168.3 L248.50,168.3 L248.75,168.3 L249.00,168.3 L249.25,168.3 L249.50,166.4 L249.75,166.4 L250.00,166.4 L250.25,166.4 L250.50,166.4 L250.75,166.4 L251.00,166.4 L251.25,166.4 L251.50,166.6 L251.75,166.6 L252.00,166.6 L252.25,166.6 L252.50,166.6 L252.75,166.6 L253.00,166.6 L253.25,166.6 L253.50,166.6 L253.75,166.3 L254.00,166.3 L254.25,166.3 L254.50,166.3 L254.75,166.3 L255.00,166.3 L255.25,166.3 L255.50,166.3 L255.75,166.3 L256.00,166.3 L256.25,166.3 L256.50,168.4 L256.75,168.4 L257.00,168.4 L257.25,168.4 L257.50,168.4 L257.75,168.4 L258.00,168.4 L258.25,168.4 L258.50,168.4 L258.75,168.4 L259.00,168.4 L259.25,168.4 L259.50,168.4 L259.75,166.4 L260.00,166.4 L260.25,166.4 L260.50,166.4 L260.75,166.4 L261.00,166.4 L261.25,166.4 L261.50,166.4 L261.75,166.4 L262.00,166.4 L262.25,166.4 L262.50,166.4 L262.75,166.5 L263.00,166.5 L263.25,166.5 L263.50,166.5 L263.75,166.5 L264.00,166.5 L264.25,166.5 L264.50,166.5 L264.75,166.5 L265.00,168.8 L265.25,168.8 L265.50,168.8 L265.75,164.6 L266.00,164.6 L266.25,164.6 L266.50,164.6 L266.75,167.0 L267.00,167.0 L267.25,167.0 L267.50,167.0 L267.75,167.0 L268.00,167.0 L268.25,167.0 L268.50,167.0 L268.75,167.0 L269.00,167.0 L269.25,166.0 L269.50,166.0 L269.75,166.0 L270.00,166.0 L270.25,166.0 L270.50,166.0 L270.75,166.0 L271.00,166.0 L271.25,166.0 L271.50,167.8 L271.75,167.8 L272.00,167.8 L272.25,167.8 L272.50,167.8 L272.75,167.8 L273.00,167.8 L273.25,167.8 L273.50,167.8 L273.75,167.8 L274.00,164.1 L274.25,164.1 L274.50,164.1 L274.75,164.1 L275.00,164.1 L275.25,165.4 L275.50,165.4 L275.75,165.4 L276.00,166.0 L276.25,166.0 L276.50,166.0 L276.75,166.0 L277.00,166.0 L277.25,166.0 L277.50,166.0 L277.75,166.0 L278.00,166.0 L278.25,166.0 L278.50,166.0 L278.75,166.0 L279.00,166.0 L279.25,168.6 L279.50,168.6 L279.75,168.6 L280.00,168.6 L280.25,168.6 L280.50,168.6 L280.75,168.6 L281.00,168.6 L281.25,168.6 L281.50,168.6 L281.75,168.6 L282.00,168.6 L282.25,169.0 L282.50,169.0 L282.75,169.0 L283.00,169.0 L283.25,169.0 L283.50,169.0 L283.75,167.5 L284.00,167.5 L284.25,167.5 L284.50,167.5 L284.75,167.5 L285.00,167.5 L285.25,167.5 L285.50,167.5 L285.75,167.5 L286.00,165.9 L286.25,165.9 L286.50,165.9 L286.75,165.9 L287.00,165.9 L287.25,165.9 L287.50,165.9 L287.75,165.9 L288.00,168.6 L288.25,168.6 L288.50,168.6 L288.75,168.6 L289.00,168.6 L289.25,168.6 L289.50,168.6 L289.75,168.6 L290.00,168.6 L290.25,168.3 L290.50,168.3 L290.75,168.3 L291.00,167.5 L291.25,167.5 L291.50,167.5 L291.75,167.5 L292.00,168.2 L292.25,168.2 L292.50,168.2 L292.75,168.2 L293.00,168.2 L293.25,168.2 L293.50,166.9 L293.75,166.9 L294.00,166.9 L294.25,166.9 L294.50,166.9 L294.75,166.9 L295.00,166.9 L295.25,166.9 L295.50,168.7 L295.75,168.7 L296.00,168.7 L296.25,168.7 L296.50,168.7 L296.75,168.7 L297.00,168.7 L297.25,168.7 L297.50,168.7 L297.75,168.7 L298.00,168.7 L298.25,168.7 L298.50,168.6 L298.75,168.6 L299.00,168.6 L299.25,168.6 L299.50,168.6 L299.75,168.6 L300.00,168.6 L300.25,167.2 L300.50,167.2 L300.75,167.2 L301.00,167.2 L301.25,168.5 L301.50,168.5 L301.75,168.5 L302.00,168.5 L302.25,168.5 L302.50,168.5 L302.75,168.5 L303.00,168.5 L303.25,168.5 L303.50,167.5 L303.75,167.5 L304.00,167.5 L304.25,167.5 L304.50,167.5 L304.75,167.5 L305.00,167.5 L305.25,167.5 L305.50,167.5 L305.75,167.5 L306.00,167.5 L306.25,167.5 L306.50,166.5 L306.75,166.5 L307.00,166.5 L307.25,166.5 L307.50,166.5 L307.75,166.5 L308.00,166.5 L308.25,166.5 L308.50,166.5 L308.75,166.5 L309.00,166.5 L309.25,166.5 L309.50,166.5 L309.75,168.4 L310.00,168.4 L310.25,168.4 L310.50,166.7 L310.75,166.7 L311.00,166.7 L311.25,166.7 L311.50,166.7 L311.75,166.7 L312.00,166.7 L312.25,166.7 L312.50,168.5 L312.75,168.5 L313.00,168.5 L313.25,168.5 L313.50,168.5 L313.75,168.7 L314.00,168.7 L314.25,168.7 L314.50,168.7 L314.75,166.4 L315.00,166.4 L315.25,166.4 L315.50,166.4 L315.75,168.1 L316.00,168.9 L316.25,168.9 L316.50,168.9 L316.75,168.9 L317.00,168.9 L317.25,168.9 L317.50,168.9 L317.75,168.9 L318.00,168.9 L318.25,168.9 L318.50,168.9 L318.75,168.9 L319.00,168.9 L319.25,167.8 L319.50,167.8 L319.75,166.4 L320.00,166.4 L320.25,166.4 L320.50,166.4 L320.75,166.4 L321.00,164.7 L321.25,164.7 L321.50,164.7 L321.75,164.7 L322.00,164.7 L322.25,168.9 L322.50,168.9 L322.75,168.9 L323.00,168.9 L323.25,168.9 L323.50,168.9 L323.75,168.9 L324.00,168.9 L324.25,168.9 L324.50,168.9 L324.75,167.7 L325.00,167.7 L325.25,167.7 L325.50,167.7 L325.75,167.7 L326.00,167.7 L326.25,167.7 L326.50,167.7 L326.75,167.7 L327.00,167.7 L327.25,167.7 L327.50,167.7 L327.75,165.4 L328.00,165.4 L328.25,165.4 L328.50,165.4 L328.75,166.3 L329.00,166.3 L329.25,166.3 L329.50,166.3 L329.75,166.3 L330.00,166.3 L330.25,166.3 L330.50,166.3 L330.75,166.3 L331.00,167.0 L331.25,167.0 L331.50,166.3 L331.75,165.3 L332.00,164.0 L332.25,162.6 L332.50,161.1 L332.75,159.7 L333.00,158.8 L333.25,159.7 L333.50,161.1 L333.75,162.6 L334.00,164.0 L334.25,165.3 L334.50,166.3 L334.75,166.7 L335.00,166.9 L335.25,167.2 L335.50,167.5 L335.75,167.7 L336.00,168.0 L336.25,168.2 L336.50,168.5 L336.75,168.7 L337.00,163.9 L337.25,163.9 L337.50,168.8 L337.75,168.8 L338.00,168.8 L338.25,168.8 L338.50,168.8 L338.75,168.8 L339.00,168.8 L339.25,168.8 L339.50,168.8 L339.75,168.8 L340.00,168.8 L340.25,167.7 L340.50,167.7 L340.75,167.7 L341.00,167.7 L341.25,168.9 L341.50,168.9 L341.75,168.9 L342.00,168.9 L342.25,168.9 L342.50,168.9 L342.75,168.9 L343.00,167.0 L343.25,167.0 L343.50,167.0 L343.75,167.0 L344.00,167.0 L344.25,163.4 L344.50,163.4 L344.75,163.4 L345.00,163.4 L345.25,165.7 L345.50,165.7 L345.75,165.7 L346.00,165.7 L346.25,165.7 L346.50,165.7 L346.75,165.7 L347.00,165.7 L347.25,165.7 L347.50,165.7 L347.75,165.7 L348.00,165.7 L348.25,164.0 L348.50,164.0 L348.75,168.1 L349.00,168.1 L349.25,168.1 L349.50,168.1 L349.75,168.1 L350.00,166.9 L350.25,166.9 L350.50,166.9 L350.75,168.5 L351.00,168.5 L351.25,168.5 L351.50,168.5 L351.75,168.5 L352.00,168.5 L352.25,168.5 L352.50,168.5 L352.75,168.5 L353.00,168.9 L353.25,168.9 L353.50,168.9 L353.75,168.9 L354.00,168.9 L354.25,168.9 L354.50,168.9 L354.75,168.9 L355.00,168.7 L355.25,168.7 L355.50,168.7 L355.75,168.7 L356.00,168.7 L356.25,168.7 L356.50,168.7 L356.75,168.7 L357.00,168.7 L357.25,168.7 L357.50,168.7 L357.75,168.7 L358.00,168.7 L358.25,167.8 L358.50,167.8 L358.75,167.8 L359.00,167.8 L359.25,167.8 L359.50,167.8 L359.75,167.8 L360.00,167.8 L360.25,167.8 L360.50,167.8 L360.75,167.8 L361.00,165.8 L361.25,165.8 L361.50,168.7 L361.75,168.7 L362.00,168.7 L362.25,168.7 L362.50,168.7 L362.75,168.7 L363.00,168.7 L363.25,168.7 L363.50,168.9 L363.75,168.9 L364.00,168.9 L364.25,168.9 L364.50,168.9 L364.75,168.0 L365.00,168.0 L365.25,168.0 L365.50,168.0 L365.75,168.0 L366.00,168.0 L366.25,168.0 L366.50,168.0 L366.75,168.0 L367.00,168.0 L367.25,164.0 L367.50,164.0 L367.75,164.0 L368.00,167.3 L368.25,167.3 L368.50,167.3 L368.75,167.3 L369.00,167.3 L369.25,167.3 L369.50,167.3 L369.75,167.3 L370.00,167.3 L370.25,167.3 L370.50,167.3 L370.75,167.6 L371.00,167.6 L371.25,167.6 L371.50,167.6 L371.75,167.6 L372.00,164.7 L372.25,164.7 L372.50,164.7 L372.75,164.7 L373.00,164.7 L373.25,168.8 L373.50,168.8 L373.75,168.8 L374.00,168.8 L374.25,168.8 L374.50,168.8 L374.75,168.8 L375.00,168.8 L375.25,168.8 L375.50,168.8 L375.75,168.3 L376.00,168.3 L376.25,168.3 L376.50,168.3 L376.75,168.3 L377.00,168.3 L377.25,168.4 L377.50,168.4 L377.75,168.4 L378.00,168.7 L378.25,168.7 L378.50,168.7 L378.75,165.2 L379.00,165.2 L379.25,165.2 L379.50,165.2 L379.75,167.9 L380.00,167.9 L380.25,167.9 L380.50,168.3 L380.75,168.3 L381.00,168.3 L381.25,168.3 L381.50,168.3 L381.75,168.3 L382.00,168.3 L382.25,168.3 L382.50,168.3 L382.75,168.3 L383.00,165.9 L383.25,165.9 L383.50,165.9 L383.75,165.9 L384.00,165.9 L384.25,165.9 L384.50,165.9 L384.75,165.9 L385.00,165.9 L385.25,168.0 L385.50,168.0 L385.75,168.0 L386.00,168.0 L386.25,168.0 L386.50,166.7 L386.75,166.7 L387.00,166.7 L387.25,166.7 L387.50,166.7 L387.75,166.7 L388.00,166.7 L388.25,166.7 L388.50,166.7 L388.75,166.7 L389.00,166.7 L389.25,166.7 L389.50,166.7 L389.75,167.1 L390.00,167.1 L390.25,167.1 L390.50,167.1 L390.75,167.1 L391.00,167.1 L391.25,167.1 L391.50,167.1 L391.75,163.4 L392.00,163.4 L392.25,166.1 L392.50,166.1 L392.75,166.1 L393.00,166.1 L393.25,166.1 L393.50,166.1 L393.75,166.1 L394.00,166.1 L394.25,166.1 L394.50,166.1 L394.75,166.1 L395.00,166.1 L395.25,166.1 L395.50,166.8 L395.75,166.8 L396.00,166.8 L396.25,166.8 L396.50,166.8 L396.75,166.8 L397.00,166.8 L397.25,166.8 L397.50,164.7 L397.75,164.7 L398.00,164.7 L398.25,164.7 L398.50,164.7 L398.75,168.0 L399.00,168.0 L399.25,168.0 L399.50,168.0 L399.75,168.0 L400.00,168.0 L400.25,168.0 L400.50,168.0 L400.75,168.0 L401.00,168.0 L401.25,168.0 L401.50,168.9 L401.75,168.9 L402.00,168.9 L402.25,168.9 L402.50,168.9 L402.75,168.9 L403.00,168.9 L403.25,168.9 L403.50,168.9 L403.75,168.9 L404.00,168.9 L404.25,168.9 L404.50,168.9 L404.75,168.9 L405.00,168.9 L405.25,168.9 L405.50,168.9 L405.75,168.9 L406.00,168.9 L406.25,168.9 L406.50,168.9 L406.75,168.9 L407.00,168.9 L407.25,166.0 L407.50,166.0 L407.75,166.1 L408.00,166.1 L408.25,166.1 L408.50,166.1 L408.75,166.1 L409.00,166.1 L409.25,167.9 L409.50,167.9 L409.75,167.9 L410.00,167.9 L410.25,167.9 L410.50,167.9 L410.75,168.8 L411.00,168.8 L411.25,168.8 L411.50,168.8 L411.75,168.8 L412.00,168.8 L412.25,168.8 L412.50,168.8 L412.75,168.8 L413.00,168.8 L413.25,166.3 L413.50,166.3 L413.75,166.3 L414.00,166.3 L414.25,166.3 L414.50,166.3 L414.75,166.3 L415.00,168.5 L415.25,168.5 L415.50,168.5 L415.75,168.5 L416.00,168.5 L416.25,168.5 L416.50,168.5 L416.75,168.5 L417.00,168.5 L417.25,168.5 L417.50,168.5 L417.75,168.5 L418.00,164.8 L418.25,164.8 L418.50,168.9 L418.75,168.9 L419.00,168.9 L419.25,168.9 L419.50,168.9 L419.75,166.7 L420.00,166.7 L420.25,166.7 L420.50,166.7 L420.75,166.7 L421.00,166.7 L421.25,166.7 L421.50,162.8 L421.75,162.8 L422.00,162.8 L422.25,162.8 L422.50,162.8 L422.75,168.4 L423.00,168.4 L423.25,168.4 L423.50,168.4 L423.75,168.4 L424.00,168.4 L424.25,168.4 L424.50,168.4 L424.75,164.5 L425.00,164.5 L425.25,164.5 L425.50,165.7 L425.75,165.7 L426.00,165.7 L426.25,165.7 L426.50,165.7 L426.75,169.0 L427.00,169.0 L427.25,169.0 L427.50,169.0 L427.75,169.0 L428.00,167.1 L428.25,167.1 L428.50,167.1 L428.75,167.1 L429.00,167.1 L429.25,167.1 L429.50,168.3 L429.75,168.3 L430.00,168.3 L430.25,168.3 L430.50,168.3 L430.75,168.4 L431.00,168.4 L431.25,168.4 L431.50,168.4 L431.75,168.4 L432.00,168.4 L432.25,168.4 L432.50,168.4 L432.75,168.4 L433.00,168.4 L433.25,168.4 L433.50,168.4 L433.75,168.4 L434.00,164.8 L434.25,164.8 L434.50,164.8 L434.75,164.8 L435.00,164.8 L435.25,168.2 L435.50,168.2 L435.75,168.2 L436.00,168.2 L436.25,168.2 L436.50,168.2 L436.75,168.2 L437.00,168.2 L437.25,168.2 L437.50,168.2 L437.75,168.2 L438.00,168.2 L438.25,168.2 L438.50,167.4 L438.75,167.4 L439.00,167.4 L439.25,167.4 L439.50,167.4 L439.75,167.4 L440.00,167.4 L440.25,167.4 L440.50,167.4 L440.75,167.4 L441.00,167.4 L441.25,167.8 L441.50,167.8 L441.75,167.8 L442.00,168.4 L442.25,168.4 L442.50,168.4 L442.75,168.4 L443.00,168.4 L443.25,168.4 L443.50,168.4 L443.75,168.4 L444.00,168.4 L444.25,168.4 L444.50,168.4 L444.75,168.4 L445.00,168.4 L445.25,165.8 L445.50,165.8 L445.75,165.8 L446.00,165.8 L446.25,165.8 L446.50,165.8 L446.75,165.8 L447.00,165.8 L447.25,165.8 L447.50,168.2 L447.75,168.2 L448.00,168.2 L448.25,168.2 L448.50,168.2 L448.75,168.2 L449.00,168.2 L449.25,168.2 L449.50,166.4 L449.75,166.4 L450.00,166.4 L450.25,166.4 L450.50,166.4 L450.75,166.4 L451.00,166.4 L451.25,166.4 L451.50,169.0 L451.75,169.0 L452.00,169.0 L452.25,169.0 L452.50,169.0 L452.75,169.0 L453.00,169.0 L453.25,169.0 L453.50,166.4 L453.75,166.4 L454.00,166.4 L454.25,166.4 L454.50,166.4 L454.75,166.4 L455.00,166.4 L455.25,166.4 L455.50,166.4 L455.75,166.4 L456.00,166.4 L456.25,164.6 L456.50,164.6 L456.75,164.6 L457.00,164.6 L457.25,165.4 L457.50,164.8 L457.75,164.3 L458.00,163.7 L458.25,163.2 L458.50,162.7 L458.75,162.2 L459.00,162.0 L459.25,162.2 L459.50,160.6 L459.75,157.8 L460.00,154.8 L460.25,152.3 L460.50,151.9 L460.75,154.3 L461.00,157.2 L461.25,160.1 L461.50,162.5 L461.75,162.8 L462.00,162.8 L462.25,162.8 L462.50,166.7 L462.75,167.0 L463.00,167.3 L463.25,167.4 L463.50,167.4 L463.75,167.4 L464.00,167.4 L464.25,167.7 L464.50,167.7 L464.75,167.7 L465.00,167.7 L465.25,167.7 L465.50,167.7 L465.75,167.7 L466.00,168.4 L466.25,168.4 L466.50,168.4 L466.75,168.4 L467.00,168.4 L467.25,168.4 L467.50,168.4 L467.75,168.4 L468.00,168.9 L468.25,168.9 L468.50,168.9 L468.75,168.9 L469.00,168.9 L469.25,168.9 L469.50,168.9 L469.75,168.9 L470.00,168.9 L470.25,168.4 L470.50,168.4 L470.75,168.4 L471.00,168.4 L471.25,168.4 L471.50,168.4 L471.75,168.4 L472.00,168.4 L472.25,168.4 L472.50,168.4 L472.75,163.1 L473.00,163.1 L473.25,163.1 L473.50,168.7 L473.75,168.7 L474.00,168.7 L474.25,168.7 L474.50,168.7 L474.75,168.7 L475.00,168.7 L475.25,168.6 L475.50,168.6 L475.75,168.6 L476.00,168.6 L476.25,168.6 L476.50,168.6 L476.75,168.6 L477.00,165.0 L477.25,165.0 L477.50,168.1 L477.75,168.1 L478.00,168.1 L478.25,168.1 L478.50,168.1 L478.75,168.1 L479.00,168.1 L479,169.3Z" fill="#262626" stroke="#111" stroke-width="0.9" stroke-linejoin="miter"/>
<path d="M71.5 169.3H479" stroke="#111" stroke-width="1.0"/>
<path d="M72,274 L72.00,270.7 L72.25,270.2 L72.50,269.9 L72.75,269.7 L73.00,269.7 L73.25,269.9 L73.50,270.3 L73.75,270.5 L74.00,269.4 L74.25,267.5 L74.50,265.1 L74.75,262.5 L75.00,259.9 L75.25,258.0 L75.50,259.0 L75.75,261.4 L76.00,264.1 L76.25,266.6 L76.50,268.7 L76.75,270.3 L77.00,270.7 L77.25,270.8 L77.50,270.2 L77.75,269.7 L78.00,269.4 L78.25,269.2 L78.50,269.3 L78.75,269.5 L79.00,269.8 L79.25,270.4 L79.50,271.0 L79.75,271.7 L80.00,272.3 L80.25,271.6 L80.50,270.9 L80.75,270.4 L81.00,270.1 L81.25,270.2 L81.50,270.6 L81.75,271.3 L82.00,272.0 L82.25,272.7 L82.50,272.7 L82.75,272.6 L83.00,272.4 L83.25,272.2 L83.50,272.0 L83.75,271.8 L84.00,271.6 L84.25,271.3 L84.50,271.1 L84.75,270.8 L85.00,270.5 L85.25,270.2 L85.50,269.8 L85.75,269.5 L86.00,268.9 L86.25,267.1 L86.50,265.0 L86.75,262.5 L87.00,259.9 L87.25,257.5 L87.50,256.0 L87.75,257.5 L88.00,259.9 L88.25,262.5 L88.50,265.0 L88.75,265.9 L89.00,263.6 L89.25,261.2 L89.50,258.8 L89.75,257.1 L90.00,258.0 L90.25,260.2 L90.50,262.7 L90.75,265.0 L91.00,267.1 L91.25,268.9 L91.50,269.8 L91.75,270.1 L92.00,270.4 L92.25,270.7 L92.50,271.0 L92.75,271.2 L93.00,271.5 L93.25,271.4 L93.50,270.9 L93.75,270.6 L94.00,270.5 L94.25,270.6 L94.50,269.7 L94.75,268.4 L95.00,267.0 L95.25,265.7 L95.50,264.6 L95.75,264.8 L96.00,265.9 L96.25,267.3 L96.50,268.7 L96.75,269.9 L97.00,270.9 L97.25,271.2 L97.50,271.2 L97.75,271.3 L98.00,271.5 L98.25,271.7 L98.50,272.0 L98.75,272.3 L99.00,272.7 L99.25,272.9 L99.50,272.8 L99.75,272.8 L100.00,272.8 L100.25,272.8 L100.50,272.9 L100.75,272.9 L101.00,272.6 L101.25,272.0 L101.50,271.4 L101.75,270.7 L102.00,270.3 L102.25,270.0 L102.50,270.0 L102.75,270.1 L103.00,270.5 L103.25,271.1 L103.50,271.8 L103.75,271.5 L104.00,271.1 L104.25,270.7 L104.50,270.2 L104.75,269.2 L105.00,267.2 L105.25,264.7 L105.50,261.8 L105.75,258.9 L106.00,256.5 L106.25,256.9 L106.50,259.5 L106.75,262.4 L107.00,265.2 L107.25,267.6 L107.50,269.2 L107.75,269.6 L108.00,270.1 L108.25,270.5 L108.50,271.0 L108.75,271.4 L109.00,271.8 L109.25,272.2 L109.50,272.5 L109.75,272.8 L110.00,273.0 L110.25,273.1 L110.50,273.1 L110.75,272.9 L111.00,272.5 L111.25,271.8 L111.50,271.1 L111.75,270.1 L112.00,269.0 L112.25,267.8 L112.50,266.7 L112.75,265.9 L113.00,266.3 L113.25,267.3 L113.50,268.5 L113.75,269.7 L114.00,270.7 L114.25,271.5 L114.50,272.2 L114.75,272.7 L115.00,272.7 L115.25,272.7 L115.50,272.7 L115.75,272.6 L116.00,272.6 L116.25,272.7 L116.50,272.7 L116.75,272.4 L117.00,271.9 L117.25,271.4 L117.50,270.8 L117.75,270.4 L118.00,270.1 L118.25,269.9 L118.50,269.9 L118.75,270.0 L119.00,270.3 L119.25,270.7 L119.50,271.3 L119.75,271.8 L120.00,271.6 L120.25,271.0 L120.50,270.4 L120.75,270.1 L121.00,270.0 L121.25,270.1 L121.50,270.4 L121.75,270.9 L122.00,271.6 L122.25,272.2 L122.50,272.8 L122.75,272.9 L123.00,273.0 L123.25,273.1 L123.50,273.3 L123.75,273.4 L124.00,273.5 L124.25,273.3 L124.50,272.7 L124.75,272.0 L125.00,271.2 L125.25,270.7 L125.50,270.6 L125.75,270.8 L126.00,271.4 L126.25,272.2 L126.50,272.9 L126.75,272.8 L127.00,272.1 L127.25,271.3 L127.50,270.5 L127.75,269.8 L128.00,269.5 L128.25,269.4 L128.50,269.5 L128.75,270.0 L129.00,270.7 L129.25,271.5 L129.50,272.3 L129.75,272.7 L130.00,272.3 L130.25,271.8 L130.50,271.4 L130.75,271.0 L131.00,270.7 L131.25,270.5 L131.50,270.5 L131.75,270.6 L132.00,270.7 L132.25,271.1 L132.50,271.5 L132.75,271.9 L133.00,272.3 L133.25,272.0 L133.50,271.7 L133.75,271.3 L134.00,270.9 L134.25,270.4 L134.50,269.9 L134.75,269.4 L135.00,268.9 L135.25,268.4 L135.50,267.8 L135.75,267.3 L136.00,266.8 L136.25,266.3 L136.50,264.8 L136.75,261.3 L137.00,257.0 L137.25,252.5 L137.50,248.2 L137.75,246.5 L138.00,249.8 L138.25,254.3 L138.50,258.8 L138.75,262.8 L139.00,265.3 L139.25,265.7 L139.50,266.1 L139.75,266.5 L140.00,267.0 L140.25,267.6 L140.50,268.1 L140.75,268.6 L141.00,269.2 L141.25,269.7 L141.50,270.2 L141.75,269.9 L142.00,269.7 L142.25,269.9 L142.50,270.5 L142.75,271.3 L143.00,272.2 L143.25,272.7 L143.50,273.0 L143.75,272.9 L144.00,272.8 L144.25,272.9 L144.50,272.9 L144.75,272.3 L145.00,271.8 L145.25,271.3 L145.50,270.9 L145.75,270.8 L146.00,270.8 L146.25,271.1 L146.50,271.5 L146.75,272.0 L147.00,272.6 L147.25,273.1 L147.50,273.4 L147.75,273.4 L148.00,273.4 L148.25,273.3 L148.50,273.2 L148.75,273.1 L149.00,273.0 L149.25,272.9 L149.50,272.4 L149.75,271.4 L150.00,270.4 L150.25,269.8 L150.50,269.6 L150.75,269.8 L151.00,270.5 L151.25,271.5 L151.50,272.4 L151.75,272.8 L152.00,272.6 L152.25,272.4 L152.50,272.0 L152.75,271.4 L153.00,270.8 L153.25,270.5 L153.50,270.5 L153.75,270.6 L154.00,270.4 L154.25,270.2 L154.50,269.8 L154.75,268.7 L155.00,266.4 L155.25,263.7 L155.50,260.5 L155.75,257.2 L156.00,254.5 L156.25,255.0 L156.50,257.8 L156.75,261.1 L157.00,264.3 L157.25,266.9 L157.50,269.1 L157.75,269.4 L158.00,269.6 L158.25,269.9 L158.50,270.2 L158.75,270.4 L159.00,270.7 L159.25,271.0 L159.50,271.3 L159.75,271.6 L160.00,271.9 L160.25,271.5 L160.50,270.7 L160.75,269.7 L161.00,268.5 L161.25,267.3 L161.50,266.3 L161.75,265.9 L162.00,266.7 L162.25,267.8 L162.50,269.0 L162.75,270.1 L163.00,271.1 L163.25,271.8 L163.50,272.5 L163.75,272.6 L164.00,271.8 L164.25,271.0 L164.50,270.2 L164.75,269.7 L165.00,269.5 L165.25,269.7 L165.50,270.2 L165.75,271.0 L166.00,271.8 L166.25,272.6 L166.50,272.9 L166.75,272.9 L167.00,272.9 L167.25,272.9 L167.50,273.0 L167.75,273.0 L168.00,273.0 L168.25,273.0 L168.50,272.9 L168.75,272.9 L169.00,272.8 L169.25,272.8 L169.50,272.7 L169.75,272.7 L170.00,272.7 L170.25,272.7 L170.50,272.7 L170.75,272.7 L171.00,272.7 L171.25,272.7 L171.50,272.4 L171.75,272.0 L172.00,271.7 L172.25,271.5 L172.50,271.5 L172.75,271.5 L173.00,271.7 L173.25,272.0 L173.50,272.3 L173.75,272.1 L174.00,271.8 L174.25,271.6 L174.50,271.3 L174.75,271.0 L175.00,270.6 L175.25,270.3 L175.50,269.9 L175.75,269.5 L176.00,269.0 L176.25,268.4 L176.50,267.7 L176.75,265.6 L177.00,262.7 L177.25,259.2 L177.50,255.3 L177.75,251.3 L178.00,247.7 L178.25,246.2 L178.50,249.0 L178.75,252.9 L179.00,256.9 L179.25,260.7 L179.50,263.9 L179.75,265.2 L180.00,265.7 L180.25,266.2 L180.50,266.8 L180.75,267.4 L181.00,268.0 L181.25,268.7 L181.50,269.3 L181.75,269.9 L182.00,270.5 L182.25,271.0 L182.50,271.5 L182.75,271.9 L183.00,272.3 L183.25,271.9 L183.50,270.9 L183.75,269.9 L184.00,269.0 L184.25,268.2 L184.50,267.8 L184.75,267.8 L185.00,268.0 L185.25,268.6 L185.50,269.5 L185.75,270.5 L186.00,271.5 L186.25,272.3 L186.50,273.0 L186.75,273.0 L187.00,273.1 L187.25,273.1 L187.50,273.1 L187.75,273.1 L188.00,273.1 L188.25,272.4 L188.50,271.6 L188.75,271.0 L189.00,270.7 L189.25,270.8 L189.50,271.1 L189.75,271.8 L190.00,272.5 L190.25,273.2 L190.50,273.4 L190.75,273.4 L191.00,273.3 L191.25,273.3 L191.50,273.2 L191.75,273.2 L192.00,273.1 L192.25,273.1 L192.50,273.1 L192.75,273.1 L193.00,273.1 L193.25,273.1 L193.50,273.1 L193.75,273.1 L194.00,273.1 L194.25,273.1 L194.50,273.0 L194.75,272.9 L195.00,272.9 L195.25,272.8 L195.50,272.0 L195.75,271.3 L196.00,270.8 L196.25,270.7 L196.50,270.9 L196.75,271.4 L197.00,272.1 L197.25,272.8 L197.50,273.2 L197.75,273.3 L198.00,273.5 L198.25,273.4 L198.50,273.3 L198.75,273.2 L199.00,273.1 L199.25,273.0 L199.50,272.9 L199.75,272.8 L200.00,272.7 L200.25,272.7 L200.50,272.7 L200.75,272.7 L201.00,272.7 L201.25,272.7 L201.50,272.4 L201.75,271.9 L202.00,271.3 L202.25,270.8 L202.50,270.4 L202.75,270.1 L203.00,270.0 L203.25,270.0 L203.50,270.1 L203.75,270.4 L204.00,270.8 L204.25,271.3 L204.50,271.8 L204.75,272.3 L205.00,272.8 L205.25,273.2 L205.50,273.2 L205.75,273.3 L206.00,273.3 L206.25,273.3 L206.50,273.2 L206.75,273.1 L207.00,273.1 L207.25,273.0 L207.50,272.9 L207.75,272.9 L208.00,272.8 L208.25,272.9 L208.50,272.5 L208.75,272.1 L209.00,271.6 L209.25,271.2 L209.50,270.9 L209.75,270.7 L210.00,270.6 L210.25,270.6 L210.50,270.8 L210.75,271.1 L211.00,271.5 L211.25,272.0 L211.50,272.5 L211.75,271.5 L212.00,270.5 L212.25,269.7 L212.50,269.3 L212.75,269.5 L213.00,270.1 L213.25,271.1 L213.50,272.2 L213.75,272.9 L214.00,272.9 L214.25,272.9 L214.50,273.0 L214.75,273.0 L215.00,273.0 L215.25,273.0 L215.50,273.1 L215.75,273.1 L216.00,273.1 L216.25,273.1 L216.50,273.1 L216.75,273.1 L217.00,273.1 L217.25,273.1 L217.50,273.1 L217.75,273.1 L218.00,273.0 L218.25,272.7 L218.50,272.3 L218.75,271.9 L219.00,271.5 L219.25,271.3 L219.50,271.1 L219.75,271.1 L220.00,271.1 L220.25,271.3 L220.50,271.5 L220.75,271.9 L221.00,272.2 L221.25,272.6 L221.50,272.9 L221.75,272.5 L222.00,272.1 L222.25,271.7 L222.50,271.3 L222.75,271.1 L223.00,270.9 L223.25,270.9 L223.50,271.0 L223.75,271.2 L224.00,271.6 L224.25,272.0 L224.50,272.4 L224.75,272.9 L225.00,273.0 L225.25,272.9 L225.50,272.9 L225.75,272.8 L226.00,272.8 L226.25,272.8 L226.50,272.8 L226.75,272.8 L227.00,272.8 L227.25,272.8 L227.50,272.8 L227.75,272.8 L228.00,272.8 L228.25,272.8 L228.50,272.2 L228.75,271.6 L229.00,271.2 L229.25,271.2 L229.50,271.5 L229.75,272.0 L230.00,272.7 L230.25,273.3 L230.50,273.3 L230.75,273.3 L231.00,273.2 L231.25,273.2 L231.50,273.1 L231.75,273.1 L232.00,272.2 L232.25,270.9 L232.50,269.5 L232.75,268.6 L233.00,268.3 L233.25,268.7 L233.50,269.7 L233.75,271.1 L234.00,272.3 L234.25,273.2 L234.50,273.2 L234.75,273.2 L235.00,273.2 L235.25,273.2 L235.50,273.2 L235.75,273.1 L236.00,273.1 L236.25,273.1 L236.50,273.0 L236.75,272.9 L237.00,272.9 L237.25,272.8 L237.50,272.7 L237.75,272.7 L238.00,272.6 L238.25,272.6 L238.50,272.7 L238.75,272.7 L239.00,272.7 L239.25,272.2 L239.50,271.7 L239.75,271.1 L240.00,270.8 L240.25,270.6 L240.50,270.5 L240.75,270.7 L241.00,271.0 L241.25,271.5 L241.50,272.1 L241.75,272.7 L242.00,272.2 L242.25,271.5 L242.50,270.6 L242.75,269.9 L243.00,269.3 L243.25,268.9 L243.50,268.8 L243.75,268.8 L244.00,269.2 L244.25,269.8 L244.50,270.5 L244.75,271.3 L245.00,272.1 L245.25,272.7 L245.50,272.8 L245.75,272.7 L246.00,272.3 L246.25,271.2 L246.50,270.2 L246.75,269.5 L247.00,269.4 L247.25,269.9 L247.50,270.8 L247.75,271.9 L248.00,272.9 L248.25,273.1 L248.50,273.1 L248.75,273.0 L249.00,273.0 L249.25,272.9 L249.50,272.9 L249.75,272.6 L250.00,272.3 L250.25,272.0 L250.50,271.6 L250.75,271.1 L251.00,270.6 L251.25,269.8 L251.50,269.5 L251.75,269.1 L252.00,268.6 L252.25,268.1 L252.50,267.7 L252.75,267.3 L253.00,266.9 L253.25,264.1 L253.50,260.8 L253.75,257.3 L254.00,254.0 L254.25,252.6 L254.50,255.2 L254.75,258.7 L255.00,262.2 L255.25,265.3 L255.50,267.8 L255.75,268.1 L256.00,268.0 L256.25,268.1 L256.50,268.4 L256.75,268.6 L257.00,269.0 L257.25,269.3 L257.50,269.6 L257.75,270.0 L258.00,270.3 L258.25,270.7 L258.50,271.0 L258.75,271.3 L259.00,271.6 L259.25,271.4 L259.50,271.0 L259.75,270.8 L260.00,270.6 L260.25,270.5 L260.50,270.6 L260.75,270.7 L261.00,271.0 L261.25,271.3 L261.50,271.7 L261.75,272.2 L262.00,272.6 L262.25,273.0 L262.50,273.1 L262.75,273.1 L263.00,273.0 L263.25,273.0 L263.50,272.9 L263.75,272.9 L264.00,272.8 L264.25,272.8 L264.50,272.9 L264.75,272.9 L265.00,272.7 L265.25,272.3 L265.50,271.9 L265.75,271.6 L266.00,271.6 L266.25,271.7 L266.50,272.0 L266.75,272.2 L267.00,272.0 L267.25,271.7 L267.50,271.5 L267.75,271.2 L268.00,270.9 L268.25,270.7 L268.50,270.4 L268.75,270.1 L269.00,269.8 L269.25,269.5 L269.50,269.3 L269.75,269.1 L270.00,268.5 L270.25,268.0 L270.50,267.4 L270.75,266.8 L271.00,266.2 L271.25,265.2 L271.50,264.1 L271.75,262.9 L272.00,260.9 L272.25,256.1 L272.50,250.1 L272.75,243.1 L273.00,235.5 L273.25,228.1 L273.50,222.1 L273.75,223.1 L274.00,229.5 L274.25,237.1 L274.50,244.6 L274.75,251.4 L275.00,257.1 L275.25,261.7 L275.50,263.1 L275.75,264.3 L276.00,265.4 L276.25,266.5 L276.50,267.5 L276.75,268.4 L277.00,269.2 L277.25,269.9 L277.50,270.6 L277.75,271.0 L278.00,271.6 L278.25,272.0 L278.50,272.3 L278.75,272.5 L279.00,272.7 L279.25,272.9 L279.50,272.7 L279.75,272.2 L280.00,271.7 L280.25,271.4 L280.50,271.3 L280.75,271.4 L281.00,271.8 L281.25,272.3 L281.50,272.9 L281.75,273.1 L282.00,273.1 L282.25,273.1 L282.50,272.8 L282.75,272.3 L283.00,271.8 L283.25,271.3 L283.50,270.8 L283.75,270.5 L284.00,270.4 L284.25,270.5 L284.50,270.7 L284.75,271.1 L285.00,271.6 L285.25,272.2 L285.50,272.7 L285.75,272.7 L286.00,272.6 L286.25,272.7 L286.50,272.7 L286.75,272.7 L287.00,272.8 L287.25,272.8 L287.50,272.8 L287.75,272.9 L288.00,272.9 L288.25,272.9 L288.50,272.9 L288.75,273.0 L289.00,273.0 L289.25,273.0 L289.50,273.0 L289.75,272.9 L290.00,272.1 L290.25,271.0 L290.50,269.8 L290.75,268.6 L291.00,267.7 L291.25,267.2 L291.50,267.2 L291.75,267.6 L292.00,268.4 L292.25,269.5 L292.50,270.8 L292.75,271.9 L293.00,272.8 L293.25,272.7 L293.50,272.0 L293.75,271.1 L294.00,270.2 L294.25,269.5 L294.50,269.0 L294.75,268.8 L295.00,268.9 L295.25,269.3 L295.50,270.0 L295.75,270.9 L296.00,271.7 L296.25,272.5 L296.50,272.1 L296.75,271.3 L297.00,270.5 L297.25,269.9 L297.50,269.5 L297.75,269.3 L298.00,269.3 L298.25,269.6 L298.50,270.2 L298.75,270.9 L299.00,271.7 L299.25,271.6 L299.50,271.2 L299.75,270.7 L300.00,270.1 L300.25,269.5 L300.50,268.9 L300.75,268.2 L301.00,267.5 L301.25,266.8 L301.50,266.2 L301.75,265.5 L302.00,264.7 L302.25,263.6 L302.50,260.6 L302.75,255.9 L303.00,250.1 L303.25,243.6 L303.50,236.7 L303.75,230.3 L304.00,226.4 L304.25,230.3 L304.50,236.7 L304.75,243.6 L305.00,250.1 L305.25,255.9 L305.50,260.6 L305.75,263.6 L306.00,264.7 L306.25,265.7 L306.50,266.7 L306.75,267.6 L307.00,268.5 L307.25,269.3 L307.50,270.0 L307.75,270.6 L308.00,271.1 L308.25,271.6 L308.50,271.5 L308.75,270.6 L309.00,270.1 L309.25,269.9 L309.50,270.1 L309.75,270.8 L310.00,271.7 L310.25,272.6 L310.50,272.8 L310.75,272.8 L311.00,272.9 L311.25,272.9 L311.50,273.0 L311.75,273.0 L312.00,273.1 L312.25,273.1 L312.50,273.1 L312.75,273.2 L313.00,273.2 L313.25,273.2 L313.50,273.3 L313.75,273.3 L314.00,273.3 L314.25,273.3 L314.50,273.3 L314.75,273.2 L315.00,272.8 L315.25,272.2 L315.50,271.6 L315.75,271.0 L316.00,270.7 L316.25,270.5 L316.50,270.6 L316.75,270.9 L317.00,271.4 L317.25,272.0 L317.50,272.6 L317.75,273.1 L318.00,273.3 L318.25,273.2 L318.50,273.2 L318.75,273.1 L319.00,273.1 L319.25,273.1 L319.50,273.0 L319.75,273.0 L320.00,272.9 L320.25,273.0 L320.50,273.0 L320.75,273.0 L321.00,273.1 L321.25,273.1 L321.50,272.5 L321.75,271.7 L322.00,270.8 L322.25,269.8 L322.50,268.8 L322.75,268.0 L323.00,267.5 L323.25,267.3 L323.50,267.3 L323.75,267.7 L324.00,268.3 L324.25,269.2 L324.50,270.2 L324.75,271.2 L325.00,272.1 L325.25,272.8 L325.50,273.0 L325.75,273.0 L326.00,273.1 L326.25,273.1 L326.50,273.1 L326.75,273.1 L327.00,273.0 L327.25,273.0 L327.50,272.9 L327.75,272.5 L328.00,272.2 L328.25,272.0 L328.50,271.8 L328.75,271.8 L329.00,271.8 L329.25,272.0 L329.50,272.3 L329.75,272.6 L330.00,272.9 L330.25,273.0 L330.50,273.0 L330.75,273.0 L331.00,273.1 L331.25,273.1 L331.50,273.1 L331.75,273.1 L332.00,273.1 L332.25,273.1 L332.50,273.0 L332.75,272.9 L333.00,272.9 L333.25,272.8 L333.50,272.7 L333.75,272.7 L334.00,272.6 L334.25,272.0 L334.50,270.9 L334.75,269.7 L335.00,268.7 L335.25,268.0 L335.50,267.7 L335.75,267.8 L336.00,268.3 L336.25,269.2 L336.50,270.4 L336.75,270.8 L337.00,269.6 L337.25,268.2 L337.50,266.7 L337.75,265.4 L338.00,265.2 L338.25,266.4 L338.50,267.9 L338.75,269.4 L339.00,270.0 L339.25,269.6 L339.50,269.5 L339.75,269.4 L340.00,269.5 L340.25,269.8 L340.50,270.2 L340.75,270.7 L341.00,271.2 L341.25,271.8 L341.50,272.4 L341.75,272.8 L342.00,273.2 L342.25,273.4 L342.50,273.4 L342.75,273.4 L343.00,273.4 L343.25,273.4 L343.50,273.4 L343.75,273.4 L344.00,273.3 L344.25,273.3 L344.50,273.2 L344.75,273.1 L345.00,273.1 L345.25,272.6 L345.50,271.8 L345.75,271.1 L346.00,270.4 L346.25,269.9 L346.50,269.7 L346.75,269.8 L347.00,270.1 L347.25,270.8 L347.50,271.4 L347.75,271.2 L348.00,270.3 L348.25,268.7 L348.50,266.7 L348.75,264.4 L349.00,261.9 L349.25,259.7 L349.50,259.4 L349.75,261.4 L350.00,263.9 L350.25,266.3 L350.50,268.3 L350.75,270.0 L351.00,270.6 L351.25,270.8 L351.50,271.0 L351.75,271.2 L352.00,271.4 L352.25,271.6 L352.50,271.8 L352.75,272.0 L353.00,272.3 L353.25,272.5 L353.50,272.7 L353.75,272.8 L354.00,273.0 L354.25,273.1 L354.50,273.1 L354.75,273.2 L355.00,273.0 L355.25,272.6 L355.50,272.2 L355.75,271.9 L356.00,271.7 L356.25,271.6 L356.50,271.7 L356.75,272.0 L357.00,272.3 L357.25,272.7 L357.50,273.1 L357.75,273.2 L358.00,273.1 L358.25,273.1 L358.50,273.2 L358.75,273.2 L359.00,273.2 L359.25,273.2 L359.50,273.1 L359.75,272.7 L360.00,272.1 L360.25,271.5 L360.50,271.2 L360.75,270.3 L361.00,269.2 L361.25,267.8 L361.50,266.3 L361.75,264.7 L362.00,263.1 L362.25,261.8 L362.50,261.6 L362.75,262.8 L363.00,264.4 L363.25,266.0 L363.50,267.2 L363.75,266.3 L364.00,265.4 L364.25,263.4 L364.50,259.6 L364.75,255.0 L365.00,249.6 L365.25,243.8 L365.50,238.3 L365.75,234.3 L366.00,236.4 L366.25,241.5 L366.50,247.3 L366.75,252.9 L367.00,257.9 L367.25,262.0 L367.50,265.0 L367.75,266.0 L368.00,266.9 L368.25,267.7 L368.50,268.5 L368.75,269.2 L369.00,269.9 L369.25,270.4 L369.50,270.8 L369.75,271.2 L370.00,271.5 L370.25,271.5 L370.50,271.0 L370.75,270.4 L371.00,269.7 L371.25,269.0 L371.50,268.2 L371.75,267.4 L372.00,266.4 L372.25,265.5 L372.50,262.9 L372.75,258.7 L373.00,253.6 L373.25,247.8 L373.50,241.8 L373.75,236.7 L374.00,235.9 L374.25,240.7 L374.50,246.6 L374.75,252.5 L375.00,257.8 L375.25,262.2 L375.50,265.3 L375.75,266.3 L376.00,267.2 L376.25,267.8 L376.50,268.4 L376.75,269.0 L377.00,269.7 L377.25,270.2 L377.50,270.8 L377.75,271.2 L378.00,271.7 L378.25,272.1 L378.50,272.5 L378.75,272.8 L379.00,273.0 L379.25,273.3 L379.50,273.4 L379.75,273.3 L380.00,272.6 L380.25,271.7 L380.50,270.7 L380.75,269.9 L381.00,269.6 L381.25,269.7 L381.50,270.3 L381.75,271.2 L382.00,272.2 L382.25,272.8 L382.50,272.8 L382.75,272.8 L383.00,272.7 L383.25,272.7 L383.50,272.7 L383.75,272.7 L384.00,272.7 L384.25,272.8 L384.50,272.8 L384.75,272.9 L385.00,273.0 L385.25,273.1 L385.50,273.2 L385.75,272.4 L386.00,271.4 L386.25,270.4 L386.50,269.7 L386.75,269.6 L387.00,269.9 L387.25,270.8 L387.50,271.9 L387.75,272.8 L388.00,272.9 L388.25,272.9 L388.50,272.9 L388.75,272.9 L389.00,272.9 L389.25,272.9 L389.50,272.9 L389.75,272.7 L390.00,272.1 L390.25,271.6 L390.50,271.2 L390.75,271.1 L391.00,271.2 L391.25,271.5 L391.50,271.9 L391.75,272.5 L392.00,273.0 L392.25,273.1 L392.50,273.1 L392.75,273.2 L393.00,273.3 L393.25,273.3 L393.50,273.2 L393.75,273.1 L394.00,272.9 L394.25,272.8 L394.50,272.3 L394.75,271.8 L395.00,271.4 L395.25,271.3 L395.50,271.2 L395.75,271.4 L396.00,271.2 L396.25,270.8 L396.50,270.3 L396.75,269.7 L397.00,269.1 L397.25,268.4 L397.50,267.7 L397.75,266.9 L398.00,265.6 L398.25,262.5 L398.50,258.7 L398.75,254.3 L399.00,249.4 L399.25,244.6 L399.50,240.8 L399.75,241.4 L400.00,245.5 L400.25,250.4 L400.50,255.2 L400.75,259.5 L401.00,263.2 L401.25,265.6 L401.50,266.4 L401.75,267.2 L402.00,268.0 L402.25,268.8 L402.50,269.6 L402.75,270.4 L403.00,270.9 L403.25,271.2 L403.50,271.5 L403.75,271.8 L404.00,272.0 L404.25,271.8 L404.50,271.4 L404.75,271.2 L405.00,271.0 L405.25,271.0 L405.50,271.1 L405.75,271.3 L406.00,271.7 L406.25,272.1 L406.50,272.5 L406.75,272.9 L407.00,273.3 L407.25,273.3 L407.50,273.3 L407.75,273.2 L408.00,273.2 L408.25,273.2 L408.50,273.1 L408.75,273.1 L409.00,273.1 L409.25,273.0 L409.50,273.0 L409.75,273.0 L410.00,272.9 L410.25,272.8 L410.50,272.3 L410.75,271.7 L411.00,271.2 L411.25,270.8 L411.50,270.5 L411.75,270.4 L412.00,270.4 L412.25,270.6 L412.50,270.9 L412.75,271.4 L413.00,271.9 L413.25,272.5 L413.50,272.9 L413.75,273.1 L414.00,273.1 L414.25,273.1 L414.50,273.0 L414.75,272.5 L415.00,272.0 L415.25,271.5 L415.50,271.2 L415.75,271.1 L416.00,271.2 L416.25,271.6 L416.50,272.0 L416.75,272.6 L417.00,272.9 L417.25,272.4 L417.50,271.8 L417.75,271.2 L418.00,270.8 L418.25,270.6 L418.50,270.6 L418.75,270.8 L419.00,271.2 L419.25,271.0 L419.50,270.3 L419.75,269.5 L420.00,268.7 L420.25,268.4 L420.50,269.0 L420.75,269.8 L421.00,270.6 L421.25,271.3 L421.50,272.0 L421.75,272.5 L422.00,272.6 L422.25,272.3 L422.50,272.0 L422.75,271.6 L423.00,270.9 L423.25,270.1 L423.50,269.6 L423.75,269.4 L424.00,268.7 L424.25,268.0 L424.50,265.3 L424.75,262.0 L425.00,258.0 L425.25,253.6 L425.50,249.6 L425.75,247.9 L426.00,251.1 L426.25,255.4 L426.50,259.6 L426.75,263.4 L427.00,266.0 L427.25,266.5 L427.50,267.1 L427.75,267.8 L428.00,267.8 L428.25,267.5 L428.50,267.3 L428.75,267.1 L429.00,267.0 L429.25,267.1 L429.50,267.3 L429.75,267.5 L430.00,267.8 L430.25,268.1 L430.50,268.4 L430.75,268.8 L431.00,267.7 L431.25,266.2 L431.50,264.7 L431.75,263.2 L432.00,262.0 L432.25,262.2 L432.50,263.5 L432.75,265.0 L433.00,266.6 L433.25,268.0 L433.50,269.3 L433.75,270.4 L434.00,271.1 L434.25,271.3 L434.50,271.5 L434.75,271.7 L435.00,272.0 L435.25,272.2 L435.50,272.4 L435.75,272.6 L436.00,272.8 L436.25,272.4 L436.50,271.9 L436.75,271.5 L437.00,271.1 L437.25,270.9 L437.50,270.9 L437.75,270.9 L438.00,271.2 L438.25,271.5 L438.50,272.0 L438.75,272.5 L439.00,272.9 L439.25,273.3 L439.50,273.3 L439.75,273.3 L440.00,273.3 L440.25,273.2 L440.50,273.2 L440.75,273.2 L441.00,273.2 L441.25,273.2 L441.50,273.2 L441.75,273.1 L442.00,273.1 L442.25,273.1 L442.50,273.2 L442.75,273.2 L443.00,273.1 L443.25,272.4 L443.50,271.4 L443.75,270.5 L444.00,269.7 L444.25,269.4 L444.50,269.4 L444.75,269.8 L445.00,270.6 L445.25,271.5 L445.50,272.4 L445.75,273.1 L446.00,273.2 L446.25,273.2 L446.50,273.1 L446.75,273.0 L447.00,272.6 L447.25,272.1 L447.50,271.7 L447.75,271.4 L448.00,271.2 L448.25,271.1 L448.50,271.2 L448.75,271.4 L449.00,271.7 L449.25,272.1 L449.50,272.6 L449.75,272.8 L450.00,272.6 L450.25,272.0 L450.50,271.3 L450.75,270.8 L451.00,270.4 L451.25,270.2 L451.50,270.2 L451.75,270.4 L452.00,270.9 L452.25,271.5 L452.50,272.1 L452.75,272.7 L453.00,272.8 L453.25,272.8 L453.50,272.8 L453.75,272.8 L454.00,272.8 L454.25,272.8 L454.50,272.9 L454.75,272.9 L455.00,273.0 L455.25,273.0 L455.50,273.1 L455.75,273.2 L456.00,273.2 L456.25,273.2 L456.50,273.2 L456.75,272.7 L457.00,272.2 L457.25,271.8 L457.50,271.6 L457.75,271.7 L458.00,272.1 L458.25,272.6 L458.50,273.0 L458.75,273.0 L459.00,272.9 L459.25,272.9 L459.50,272.9 L459.75,272.9 L460.00,272.8 L460.25,272.9 L460.50,272.9 L460.75,272.9 L461.00,272.9 L461.25,272.9 L461.50,272.9 L461.75,272.9 L462.00,272.9 L462.25,273.0 L462.50,273.0 L462.75,273.0 L463.00,273.0 L463.25,272.7 L463.50,272.0 L463.75,271.2 L464.00,270.6 L464.25,270.4 L464.50,270.5 L464.75,270.9 L465.00,271.6 L465.25,272.4 L465.50,272.8 L465.75,272.8 L466.00,272.5 L466.25,271.9 L466.50,271.2 L466.75,270.4 L467.00,269.7 L467.25,269.2 L467.50,268.8 L467.75,268.7 L468.00,268.7 L468.25,269.0 L468.50,269.5 L468.75,270.1 L469.00,270.9 L469.25,271.6 L469.50,272.3 L469.75,272.7 L470.00,272.7 L470.25,272.8 L470.50,272.8 L470.75,272.9 L471.00,273.0 L471,274Z" fill="#3c3c3c" stroke="#111" stroke-width="0.9" stroke-linejoin="miter"/>
<path d="M72 274H471" stroke="#111" stroke-width="1.0"/>
<path d="M72,343.8 L72.00,340.7 L72.25,340.3 L72.50,339.9 L72.75,339.4 L73.00,339.0 L73.25,338.5 L73.50,337.4 L73.75,334.8 L74.00,331.6 L74.25,327.9 L74.50,324.3 L74.75,321.6 L75.00,323.0 L75.25,326.4 L75.50,330.1 L75.75,333.5 L76.00,336.2 L76.25,336.4 L76.50,336.6 L76.75,336.9 L77.00,337.2 L77.25,337.6 L77.50,338.0 L77.75,338.4 L78.00,338.9 L78.25,339.3 L78.50,339.8 L78.75,340.2 L79.00,339.9 L79.25,339.1 L79.50,338.4 L79.75,337.9 L80.00,337.7 L80.25,337.7 L80.50,337.9 L80.75,338.4 L81.00,339.0 L81.25,339.9 L81.50,340.7 L81.75,341.5 L82.00,342.0 L82.25,341.8 L82.50,341.2 L82.75,340.2 L83.00,339.0 L83.25,337.6 L83.50,336.1 L83.75,334.6 L84.00,333.4 L84.25,333.6 L84.50,334.9 L84.75,336.4 L85.00,337.9 L85.25,338.8 L85.50,337.8 L85.75,337.1 L86.00,337.0 L86.25,337.2 L86.50,336.1 L86.75,333.4 L87.00,330.4 L87.25,327.6 L87.50,325.8 L87.75,327.6 L88.00,330.4 L88.25,333.4 L88.50,333.0 L88.75,330.0 L89.00,326.9 L89.25,324.0 L89.50,322.2 L89.75,324.0 L90.00,326.9 L90.25,330.0 L90.50,333.0 L90.75,335.6 L91.00,337.7 L91.25,339.1 L91.50,339.6 L91.75,340.0 L92.00,340.5 L92.25,340.9 L92.50,341.3 L92.75,341.3 L93.00,340.2 L93.25,339.5 L93.50,339.2 L93.75,339.5 L94.00,340.3 L94.25,340.2 L94.50,339.4 L94.75,338.8 L95.00,338.7 L95.25,339.3 L95.50,340.0 L95.75,340.8 L96.00,341.5 L96.25,342.0 L96.50,342.5 L96.75,342.7 L97.00,343.4 L97.25,343.4 L97.50,343.4 L97.75,343.4 L98.00,343.4 L98.25,343.4 L98.50,343.4 L98.75,343.4 L99.00,343.4 L99.25,340.4 L99.50,341.0 L99.75,341.6 L100.00,342.2 L100.25,342.7 L100.50,342.9 L100.75,342.9 L101.00,342.4 L101.25,341.4 L101.50,340.2 L101.75,339.4 L102.00,339.0 L102.25,339.2 L102.50,339.9 L102.75,341.0 L103.00,341.4 L103.25,341.2 L103.50,340.9 L103.75,340.6 L104.00,340.3 L104.25,339.9 L104.50,339.6 L104.75,339.0 L105.00,337.0 L105.25,334.5 L105.50,331.6 L105.75,328.7 L106.00,326.3 L106.25,326.7 L106.50,329.3 L106.75,332.2 L107.00,335.0 L107.25,337.4 L107.50,338.9 L107.75,339.1 L108.00,339.3 L108.25,339.6 L108.50,339.8 L108.75,340.1 L109.00,340.4 L109.25,340.0 L109.50,339.7 L109.75,339.8 L110.00,340.3 L110.25,341.1 L110.50,342.0 L110.75,341.6 L111.00,340.9 L111.25,339.9 L111.50,338.8 L111.75,337.6 L112.00,336.5 L112.25,335.7 L112.50,336.1 L112.75,337.1 L113.00,338.3 L113.25,339.5 L113.50,340.5 L113.75,341.3 L114.00,342.0 L114.25,342.2 L114.50,341.6 L114.75,340.9 L115.00,340.3 L115.25,339.8 L115.50,339.4 L115.75,339.3 L116.00,339.3 L116.25,339.5 L116.50,339.8 L116.75,340.4 L117.00,341.0 L117.25,341.6 L117.50,342.2 L117.75,343.4 L118.00,343.4 L118.25,343.4 L118.50,343.4 L118.75,343.4 L119.00,343.4 L119.25,343.4 L119.50,343.4 L119.75,343.4 L120.00,343.4 L120.25,343.4 L120.50,343.4 L120.75,343.4 L121.00,343.0 L121.25,343.1 L121.50,343.1 L121.75,343.2 L122.00,343.3 L122.25,343.3 L122.50,343.2 L122.75,343.2 L123.00,343.2 L123.25,343.2 L123.50,343.2 L123.75,343.2 L124.00,343.2 L124.25,343.1 L124.50,343.0 L124.75,342.6 L125.00,342.1 L125.25,341.6 L125.50,341.0 L125.75,340.6 L126.00,340.3 L126.25,340.1 L126.50,340.2 L126.75,340.4 L127.00,340.8 L127.25,341.3 L127.50,341.9 L127.75,342.4 L128.00,342.9 L128.25,343.2 L128.50,343.2 L128.75,343.2 L129.00,343.2 L129.25,343.2 L129.50,343.2 L129.75,343.3 L130.00,343.3 L130.25,343.2 L130.50,343.1 L130.75,343.0 L131.00,342.9 L131.25,342.8 L131.50,342.4 L131.75,341.3 L132.00,340.0 L132.25,338.8 L132.50,338.1 L132.75,338.0 L133.00,338.5 L133.25,339.5 L133.50,340.8 L133.75,341.0 L134.00,340.6 L134.25,340.1 L134.50,339.7 L134.75,339.3 L135.00,338.8 L135.25,338.4 L135.50,337.9 L135.75,337.5 L136.00,337.1 L136.25,336.7 L136.50,334.5 L136.75,330.9 L137.00,326.6 L137.25,321.9 L137.50,317.6 L137.75,315.9 L138.00,319.3 L138.25,323.8 L138.50,328.4 L138.75,332.4 L139.00,335.7 L139.25,336.9 L139.50,337.2 L139.75,337.7 L140.00,338.1 L140.25,338.5 L140.50,339.0 L140.75,339.4 L141.00,339.9 L141.25,340.3 L141.50,340.7 L141.75,340.0 L142.00,338.9 L142.25,337.6 L142.50,336.3 L142.75,335.2 L143.00,335.1 L143.25,336.1 L143.50,337.3 L143.75,338.6 L144.00,339.8 L144.25,340.8 L144.50,341.6 L144.75,341.6 L145.00,340.8 L145.25,340.2 L145.50,339.8 L145.75,339.8 L146.00,340.0 L146.25,340.6 L146.50,341.4 L146.75,342.2 L147.00,342.9 L147.25,342.8 L147.50,342.7 L147.75,342.6 L148.00,342.6 L148.25,342.6 L148.50,342.6 L148.75,342.6 L149.00,342.6 L149.25,342.6 L149.50,342.5 L149.75,342.1 L150.00,341.5 L150.25,341.0 L150.50,340.5 L150.75,340.1 L151.00,339.9 L151.25,339.8 L151.50,339.8 L151.75,340.0 L152.00,340.2 L152.25,340.7 L152.50,340.8 L152.75,340.4 L153.00,339.9 L153.25,339.5 L153.50,339.1 L153.75,338.7 L154.00,338.3 L154.25,338.0 L154.50,337.7 L154.75,337.5 L155.00,336.0 L155.25,333.5 L155.50,330.7 L155.75,327.8 L156.00,325.5 L156.25,325.9 L156.50,328.4 L156.75,331.2 L157.00,334.0 L157.25,336.5 L157.50,338.5 L157.75,339.3 L158.00,339.7 L158.25,340.0 L158.50,340.4 L158.75,340.7 L159.00,341.1 L159.25,341.4 L159.50,341.6 L159.75,341.4 L160.00,340.6 L160.25,339.7 L160.50,338.8 L160.75,337.9 L161.00,337.4 L161.25,337.9 L161.50,338.8 L161.75,339.7 L162.00,340.6 L162.25,341.4 L162.50,341.8 L162.75,342.2 L163.00,343.4 L163.25,343.4 L163.50,343.4 L163.75,343.4 L164.00,343.4 L164.25,343.4 L164.50,343.4 L164.75,343.4 L165.00,343.4 L165.25,341.9 L165.50,342.3 L165.75,342.6 L166.00,342.7 L166.25,342.7 L166.50,342.7 L166.75,342.7 L167.00,342.7 L167.25,342.7 L167.50,342.7 L167.75,342.7 L168.00,342.7 L168.25,342.6 L168.50,342.6 L168.75,342.6 L169.00,342.3 L169.25,341.9 L169.50,341.6 L169.75,341.5 L170.00,341.4 L170.25,341.5 L170.50,341.7 L170.75,342.0 L171.00,342.4 L171.25,342.5 L171.50,342.5 L171.75,342.5 L172.00,342.5 L172.25,342.4 L172.50,342.2 L172.75,342.1 L173.00,341.8 L173.25,341.6 L173.50,341.4 L173.75,341.1 L174.00,340.8 L174.25,340.5 L174.50,340.2 L174.75,339.8 L175.00,339.5 L175.25,339.1 L175.50,338.7 L175.75,338.3 L176.00,337.8 L176.25,337.4 L176.50,336.9 L176.75,336.5 L177.00,336.0 L177.25,335.6 L177.50,334.7 L177.75,331.6 L178.00,328.0 L178.25,324.0 L178.50,319.9 L178.75,316.4 L179.00,315.9 L179.25,319.1 L179.50,323.1 L179.75,327.2 L180.00,331.0 L180.25,334.2 L180.50,336.8 L180.75,337.4 L181.00,337.8 L181.25,338.3 L181.50,338.7 L181.75,339.1 L182.00,339.5 L182.25,339.8 L182.50,340.0 L182.75,339.8 L183.00,339.7 L183.25,339.8 L183.50,340.0 L183.75,340.4 L184.00,340.8 L184.25,341.4 L184.50,341.9 L184.75,342.4 L185.00,342.6 L185.25,342.7 L185.50,342.8 L185.75,342.9 L186.00,343.0 L186.25,343.0 L186.50,342.9 L186.75,342.9 L187.00,342.8 L187.25,342.7 L187.50,342.6 L187.75,342.5 L188.00,342.2 L188.25,341.5 L188.50,340.8 L188.75,340.3 L189.00,340.1 L189.25,340.1 L189.50,340.3 L189.75,340.8 L190.00,341.4 L190.25,342.1 L190.50,342.7 L190.75,343.0 L191.00,342.9 L191.25,342.9 L191.50,342.9 L191.75,342.9 L192.00,342.9 L192.25,342.9 L192.50,342.9 L192.75,342.8 L193.00,342.8 L193.25,342.8 L193.50,342.8 L193.75,342.8 L194.00,342.8 L194.25,342.7 L194.50,342.7 L194.75,342.6 L195.00,342.4 L195.25,341.7 L195.50,341.1 L195.75,340.5 L196.00,340.1 L196.25,339.9 L196.50,339.9 L196.75,340.2 L197.00,340.6 L197.25,341.3 L197.50,341.9 L197.75,342.5 L198.00,342.5 L198.25,342.6 L198.50,342.7 L198.75,342.7 L199.00,342.8 L199.25,342.9 L199.50,343.0 L199.75,343.1 L200.00,343.2 L200.25,343.1 L200.50,343.0 L200.75,342.9 L201.00,342.4 L201.25,341.7 L201.50,340.9 L201.75,340.1 L202.00,339.5 L202.25,339.2 L202.50,339.1 L202.75,339.2 L203.00,339.6 L203.25,340.2 L203.50,341.0 L203.75,341.7 L204.00,342.4 L204.25,343.0 L204.50,343.0 L204.75,342.9 L205.00,342.8 L205.25,342.8 L205.50,342.7 L205.75,342.6 L206.00,342.6 L206.25,342.6 L206.50,342.6 L206.75,342.6 L207.00,342.6 L207.25,342.7 L207.50,342.1 L207.75,341.5 L208.00,341.1 L208.25,341.0 L208.50,341.1 L208.75,341.5 L209.00,342.0 L209.25,342.6 L209.50,342.9 L209.75,342.4 L210.00,342.0 L210.25,341.5 L210.50,341.0 L210.75,340.6 L211.00,340.3 L211.25,340.2 L211.50,340.3 L211.75,340.4 L212.00,340.7 L212.25,341.1 L212.50,341.6 L212.75,342.1 L213.00,342.6 L213.25,342.8 L213.50,342.7 L213.75,342.6 L214.00,342.5 L214.25,342.6 L214.50,342.7 L214.75,342.8 L215.00,342.9 L215.25,342.5 L215.50,342.1 L215.75,341.5 L216.00,341.0 L216.25,340.5 L216.50,340.1 L216.75,339.7 L217.00,339.6 L217.25,339.5 L217.50,339.6 L217.75,339.8 L218.00,340.2 L218.25,340.6 L218.50,341.2 L218.75,341.7 L219.00,342.2 L219.25,342.7 L219.50,342.6 L219.75,342.5 L220.00,342.4 L220.25,342.5 L220.50,342.5 L220.75,342.5 L221.00,342.5 L221.25,342.6 L221.50,342.4 L221.75,341.9 L222.00,341.5 L222.25,341.1 L222.50,340.9 L222.75,340.8 L223.00,340.8 L223.25,340.9 L223.50,341.2 L223.75,341.6 L224.00,342.0 L224.25,342.5 L224.50,342.8 L224.75,342.8 L225.00,342.8 L225.25,342.9 L225.50,342.9 L225.75,342.9 L226.00,342.9 L226.25,342.9 L226.50,342.9 L226.75,342.9 L227.00,342.8 L227.25,342.8 L227.50,342.8 L227.75,342.8 L228.00,342.8 L228.25,342.8 L228.50,342.8 L228.75,342.7 L229.00,342.2 L229.25,341.7 L229.50,341.2 L229.75,340.9 L230.00,340.8 L230.25,340.9 L230.50,341.1 L230.75,341.6 L231.00,342.1 L231.25,342.6 L231.50,343.0 L231.75,342.7 L232.00,342.3 L232.25,342.0 L232.50,341.7 L232.75,341.6 L233.00,341.5 L233.25,341.6 L233.50,341.8 L233.75,342.1 L234.00,342.4 L234.25,342.8 L234.50,343.1 L234.75,343.1 L235.00,343.1 L235.25,343.0 L235.50,343.0 L235.75,342.7 L236.00,342.2 L236.25,341.7 L236.50,341.4 L236.75,341.3 L237.00,341.4 L237.25,341.7 L237.50,342.2 L237.75,342.7 L238.00,342.9 L238.25,342.8 L238.50,342.4 L238.75,341.9 L239.00,341.5 L239.25,341.3 L239.50,341.2 L239.75,341.3 L240.00,341.5 L240.25,341.9 L240.50,342.4 L240.75,342.8 L241.00,342.8 L241.25,342.8 L241.50,342.7 L241.75,342.7 L242.00,342.7 L242.25,342.6 L242.50,342.6 L242.75,342.6 L243.00,342.6 L243.25,342.6 L243.50,342.6 L243.75,342.2 L244.00,341.5 L244.25,340.8 L244.50,340.3 L244.75,340.0 L245.00,340.0 L245.25,340.3 L245.50,340.8 L245.75,341.5 L246.00,342.2 L246.25,342.6 L246.50,342.7 L246.75,342.7 L247.00,342.7 L247.25,342.6 L247.50,341.9 L247.75,341.1 L248.00,340.4 L248.25,339.8 L248.50,339.5 L248.75,339.4 L249.00,339.6 L249.25,340.0 L249.50,340.7 L249.75,341.4 L250.00,342.2 L250.25,342.6 L250.50,342.3 L250.75,342.0 L251.00,341.6 L251.25,341.1 L251.50,340.6 L251.75,340.1 L252.00,339.5 L252.25,338.9 L252.50,338.3 L252.75,336.2 L253.00,333.1 L253.25,329.5 L253.50,325.4 L253.75,321.5 L254.00,319.0 L254.25,321.5 L254.50,325.4 L254.75,329.5 L255.00,333.1 L255.25,336.2 L255.50,337.3 L255.75,337.8 L256.00,338.3 L256.25,338.9 L256.50,339.4 L256.75,339.9 L257.00,340.3 L257.25,340.6 L257.50,340.9 L257.75,341.2 L258.00,341.5 L258.25,341.7 L258.50,342.0 L258.75,342.2 L259.00,342.4 L259.25,342.5 L259.50,342.6 L259.75,342.1 L260.00,341.6 L260.25,341.1 L260.50,340.6 L260.75,340.3 L261.00,340.1 L261.25,340.0 L261.50,340.1 L261.75,340.4 L262.00,340.8 L262.25,341.3 L262.50,341.8 L262.75,342.3 L263.00,342.8 L263.25,342.9 L263.50,342.7 L263.75,342.3 L264.00,341.8 L264.25,341.4 L264.50,341.1 L264.75,341.0 L265.00,341.0 L265.25,341.1 L265.50,341.4 L265.75,341.8 L266.00,342.3 L266.25,342.5 L266.50,342.3 L266.75,342.1 L267.00,341.9 L267.25,341.6 L267.50,341.4 L267.75,341.1 L268.00,340.9 L268.25,340.6 L268.50,340.3 L268.75,340.0 L269.00,339.8 L269.25,339.5 L269.50,339.3 L269.75,339.1 L270.00,339.0 L270.25,338.9 L270.50,338.4 L270.75,337.7 L271.00,337.0 L271.25,336.2 L271.50,335.1 L271.75,333.8 L272.00,332.4 L272.25,331.0 L272.50,329.4 L272.75,326.2 L273.00,319.8 L273.25,312.0 L273.50,303.0 L273.75,293.3 L274.00,284.1 L274.25,277.4 L274.50,280.9 L274.75,289.5 L275.00,299.2 L275.25,308.5 L275.50,316.8 L275.75,323.8 L276.00,328.8 L276.25,330.4 L276.50,331.9 L276.75,333.3 L277.00,334.6 L277.25,335.8 L277.50,336.9 L277.75,337.9 L278.00,338.8 L278.25,339.6 L278.50,340.3 L278.75,340.9 L279.00,341.4 L279.25,341.8 L279.50,342.2 L279.75,342.5 L280.00,342.4 L280.25,342.4 L280.50,342.5 L280.75,342.5 L281.00,342.6 L281.25,342.6 L281.50,342.6 L281.75,342.7 L282.00,342.7 L282.25,342.8 L282.50,342.3 L282.75,341.9 L283.00,341.5 L283.25,341.3 L283.50,341.2 L283.75,341.3 L284.00,341.4 L284.25,341.8 L284.50,342.2 L284.75,342.6 L285.00,343.0 L285.25,343.0 L285.50,342.9 L285.75,342.9 L286.00,342.8 L286.25,342.8 L286.50,342.9 L286.75,342.9 L287.00,342.9 L287.25,342.9 L287.50,342.9 L287.75,342.9 L288.00,342.9 L288.25,343.0 L288.50,342.7 L288.75,342.1 L289.00,341.5 L289.25,340.9 L289.50,340.5 L289.75,340.3 L290.00,340.3 L290.25,340.6 L290.50,341.0 L290.75,341.7 L291.00,342.3 L291.25,342.9 L291.50,343.0 L291.75,343.0 L292.00,342.9 L292.25,342.9 L292.50,342.9 L292.75,342.9 L293.00,342.9 L293.25,342.8 L293.50,342.8 L293.75,342.8 L294.00,342.8 L294.25,342.8 L294.50,342.7 L294.75,342.2 L295.00,341.7 L295.25,341.3 L295.50,340.9 L295.75,340.6 L296.00,340.5 L296.25,340.6 L296.50,340.8 L296.75,341.1 L297.00,341.6 L297.25,342.1 L297.50,342.6 L297.75,342.5 L298.00,342.4 L298.25,341.9 L298.50,341.1 L298.75,340.2 L299.00,339.3 L299.25,338.5 L299.50,337.8 L299.75,337.4 L300.00,337.2 L300.25,337.3 L300.50,337.6 L300.75,338.1 L301.00,338.0 L301.25,337.1 L301.50,336.2 L301.75,335.1 L302.00,334.0 L302.25,332.9 L302.50,329.8 L302.75,324.8 L303.00,318.8 L303.25,312.0 L303.50,304.8 L303.75,298.1 L304.00,294.0 L304.25,298.1 L304.50,304.8 L304.75,312.0 L305.00,318.8 L305.25,324.8 L305.50,329.8 L305.75,332.9 L306.00,334.0 L306.25,335.1 L306.50,336.2 L306.75,337.1 L307.00,338.0 L307.25,338.8 L307.50,339.6 L307.75,340.2 L308.00,340.8 L308.25,341.3 L308.50,341.7 L308.75,342.1 L309.00,342.4 L309.25,342.1 L309.50,341.4 L309.75,340.8 L310.00,340.4 L310.25,340.1 L310.50,340.0 L310.75,340.1 L311.00,340.4 L311.25,340.9 L311.50,341.5 L311.75,342.2 L312.00,342.5 L312.25,342.6 L312.50,342.6 L312.75,342.7 L313.00,342.7 L313.25,342.8 L313.50,342.8 L313.75,342.9 L314.00,342.9 L314.25,342.9 L314.50,343.0 L314.75,343.0 L315.00,343.1 L315.25,343.1 L315.50,343.1 L315.75,342.5 L316.00,341.7 L316.25,340.8 L316.50,340.0 L316.75,339.7 L317.00,339.7 L317.25,340.1 L317.50,340.9 L317.75,341.8 L318.00,342.6 L318.25,342.7 L318.50,342.7 L318.75,342.8 L319.00,342.3 L319.25,341.6 L319.50,340.9 L319.75,340.2 L320.00,339.5 L320.25,339.1 L320.50,339.0 L320.75,339.0 L321.00,339.3 L321.25,339.7 L321.50,340.4 L321.75,341.2 L322.00,341.9 L322.25,342.5 L322.50,342.9 L322.75,342.9 L323.00,342.8 L323.25,342.8 L323.50,342.7 L323.75,342.4 L324.00,341.8 L324.25,341.2 L324.50,340.7 L324.75,340.4 L325.00,340.3 L325.25,340.3 L325.50,340.6 L325.75,341.0 L326.00,341.6 L326.25,342.2 L326.50,342.8 L326.75,343.0 L327.00,342.3 L327.25,341.5 L327.50,340.5 L327.75,339.7 L328.00,339.3 L328.25,339.2 L328.50,339.5 L328.75,340.1 L329.00,341.0 L329.25,342.0 L329.50,342.6 L329.75,342.6 L330.00,342.5 L330.25,342.6 L330.50,342.7 L330.75,342.7 L331.00,342.8 L331.25,342.8 L331.50,342.3 L331.75,341.8 L332.00,341.2 L332.25,340.7 L332.50,340.3 L332.75,340.2 L333.00,340.2 L333.25,340.3 L333.50,340.7 L333.75,340.5 L334.00,339.7 L334.25,339.4 L334.50,340.0 L334.75,340.9 L335.00,341.7 L335.25,342.4 L335.50,342.9 L335.75,343.2 L336.00,343.2 L336.25,343.2 L336.50,343.0 L336.75,342.5 L337.00,342.0 L337.25,341.2 L337.50,340.3 L337.75,339.3 L338.00,338.2 L338.25,337.5 L338.50,337.9 L338.75,338.8 L339.00,339.9 L339.25,339.8 L339.50,339.9 L339.75,340.3 L340.00,340.9 L340.25,341.7 L340.50,342.5 L340.75,342.9 L341.00,342.9 L341.25,342.9 L341.50,342.9 L341.75,342.9 L342.00,342.8 L342.25,342.8 L342.50,342.7 L342.75,342.7 L343.00,342.7 L343.25,342.3 L343.50,341.7 L343.75,341.2 L344.00,340.8 L344.25,340.7 L344.50,340.8 L344.75,341.1 L345.00,341.6 L345.25,342.2 L345.50,342.7 L345.75,342.8 L346.00,342.6 L346.25,342.4 L346.50,342.2 L346.75,342.0 L347.00,341.7 L347.25,341.5 L347.50,341.2 L347.75,341.0 L348.00,340.3 L348.25,338.7 L348.50,336.8 L348.75,334.6 L349.00,332.2 L349.25,330.2 L349.50,329.9 L349.75,331.8 L350.00,334.1 L350.25,336.4 L350.50,338.4 L350.75,340.0 L351.00,340.7 L351.25,340.9 L351.50,340.9 L351.75,341.0 L352.00,341.3 L352.25,341.7 L352.50,342.2 L352.75,342.4 L353.00,342.6 L353.25,342.8 L353.50,342.4 L353.75,341.4 L354.00,340.2 L354.25,339.0 L354.50,338.1 L354.75,337.5 L355.00,337.4 L355.25,337.7 L355.50,338.5 L355.75,339.6 L356.00,340.8 L356.25,341.9 L356.50,342.7 L356.75,343.2 L357.00,343.2 L357.25,343.1 L357.50,342.9 L357.75,342.8 L358.00,342.6 L358.25,342.4 L358.50,342.2 L358.75,342.0 L359.00,341.8 L359.25,341.6 L359.50,341.3 L359.75,341.1 L360.00,340.9 L360.25,340.7 L360.50,340.4 L360.75,339.3 L361.00,337.9 L361.25,336.4 L361.50,334.9 L361.75,333.6 L362.00,333.4 L362.25,334.6 L362.50,336.1 L362.75,337.6 L363.00,338.3 L363.25,337.5 L363.50,336.6 L363.75,335.7 L364.00,334.7 L364.25,332.6 L364.50,328.5 L364.75,323.6 L365.00,317.9 L365.25,311.7 L365.50,305.9 L365.75,301.6 L366.00,303.8 L366.25,309.3 L366.50,315.4 L366.75,321.4 L367.00,326.7 L367.25,331.1 L367.50,334.3 L367.75,335.3 L368.00,336.2 L368.25,337.1 L368.50,338.0 L368.75,338.7 L369.00,339.4 L369.25,340.1 L369.50,340.6 L369.75,341.1 L370.00,340.7 L370.25,340.3 L370.50,339.8 L370.75,339.4 L371.00,338.9 L371.25,338.1 L371.50,337.2 L371.75,336.2 L372.00,335.2 L372.25,334.1 L372.50,331.2 L372.75,326.4 L373.00,320.6 L373.25,314.0 L373.50,307.2 L373.75,301.3 L374.00,300.5 L374.25,305.9 L374.50,312.6 L374.75,319.3 L375.00,325.3 L375.25,330.3 L375.50,333.9 L375.75,335.0 L376.00,336.0 L376.25,337.0 L376.50,337.9 L376.75,338.6 L377.00,339.0 L377.25,339.5 L377.50,339.0 L377.75,337.9 L378.00,336.8 L378.25,336.1 L378.50,336.5 L378.75,337.5 L379.00,338.6 L379.25,339.7 L379.50,340.7 L379.75,341.5 L380.00,342.1 L380.25,342.6 L380.50,343.0 L380.75,343.0 L381.00,343.0 L381.25,342.9 L381.50,342.9 L381.75,342.9 L382.00,342.8 L382.25,342.9 L382.50,342.9 L382.75,343.0 L383.00,343.0 L383.25,343.1 L383.50,343.1 L383.75,343.1 L384.00,343.0 L384.25,342.5 L384.50,341.9 L384.75,341.4 L385.00,341.2 L385.25,341.2 L385.50,341.5 L385.75,342.0 L386.00,342.5 L386.25,342.9 L386.50,342.8 L386.75,342.8 L387.00,342.7 L387.25,342.6 L387.50,342.6 L387.75,342.3 L388.00,341.4 L388.25,340.4 L388.50,339.7 L388.75,339.4 L389.00,339.4 L389.25,339.9 L389.50,340.7 L389.75,341.7 L390.00,342.5 L390.25,342.5 L390.50,341.8 L390.75,341.1 L391.00,340.6 L391.25,340.3 L391.50,340.4 L391.75,340.7 L392.00,341.3 L392.25,342.0 L392.50,342.7 L392.75,343.2 L393.00,342.7 L393.25,342.0 L393.50,341.4 L393.75,340.9 L394.00,340.8 L394.25,341.1 L394.50,341.6 L394.75,342.4 L395.00,342.2 L395.25,342.0 L395.50,341.7 L395.75,341.4 L396.00,341.0 L396.25,340.6 L396.50,340.2 L396.75,339.8 L397.00,339.3 L397.25,338.9 L397.50,338.4 L397.75,337.7 L398.00,337.0 L398.25,335.4 L398.50,332.4 L398.75,328.7 L399.00,324.5 L399.25,319.9 L399.50,315.5 L399.75,312.3 L400.00,314.0 L400.25,318.1 L400.50,322.6 L400.75,327.1 L401.00,331.0 L401.25,334.3 L401.50,336.3 L401.75,336.7 L402.00,337.1 L402.25,337.5 L402.50,338.0 L402.75,338.4 L403.00,338.9 L403.25,339.4 L403.50,339.8 L403.75,340.2 L404.00,340.7 L404.25,341.0 L404.50,341.4 L404.75,341.7 L405.00,342.0 L405.25,342.3 L405.50,342.5 L405.75,342.8 L406.00,342.9 L406.25,343.0 L406.50,343.0 L406.75,343.0 L407.00,343.1 L407.25,343.1 L407.50,343.1 L407.75,342.8 L408.00,342.4 L408.25,341.8 L408.50,341.2 L408.75,340.6 L409.00,340.1 L409.25,339.8 L409.50,339.7 L409.75,339.7 L410.00,339.9 L410.25,340.3 L410.50,340.8 L410.75,341.4 L411.00,342.0 L411.25,342.6 L411.50,342.6 L411.75,342.6 L412.00,342.4 L412.25,342.0 L412.50,341.7 L412.75,341.4 L413.00,341.3 L413.25,341.2 L413.50,341.2 L413.75,341.3 L414.00,341.5 L414.25,341.8 L414.50,342.1 L414.75,342.5 L415.00,342.7 L415.25,342.7 L415.50,342.6 L415.75,342.2 L416.00,341.5 L416.25,340.8 L416.50,340.0 L416.75,339.3 L417.00,338.8 L417.25,338.6 L417.50,338.5 L417.75,338.6 L418.00,339.0 L418.25,339.5 L418.50,340.2 L418.75,341.0 L419.00,340.3 L419.25,339.3 L419.50,338.1 L419.75,336.8 L420.00,335.7 L420.25,335.3 L420.50,336.1 L420.75,337.3 L421.00,338.6 L421.25,339.7 L421.50,340.7 L421.75,341.5 L422.00,342.1 L422.25,342.4 L422.50,342.4 L422.75,342.2 L423.00,342.0 L423.25,341.7 L423.50,341.5 L423.75,341.2 L424.00,341.0 L424.25,340.4 L424.50,339.3 L424.75,338.0 L425.00,336.4 L425.25,334.6 L425.50,332.7 L425.75,330.9 L426.00,329.6 L426.25,329.8 L426.50,331.3 L426.75,333.1 L427.00,335.0 L427.25,336.7 L427.50,338.2 L427.75,339.5 L428.00,340.0 L428.25,340.2 L428.50,340.4 L428.75,340.7 L429.00,340.9 L429.25,341.2 L429.50,341.4 L429.75,341.7 L430.00,341.9 L430.25,342.1 L430.50,342.4 L430.75,342.6 L431.00,342.7 L431.25,342.8 L431.50,342.7 L431.75,342.1 L432.00,341.5 L432.25,341.0 L432.50,340.7 L432.75,340.7 L433.00,340.9 L433.25,341.3 L433.50,341.9 L433.75,342.5 L434.00,342.6 L434.25,342.6 L434.50,342.6 L434.75,342.5 L435.00,342.5 L435.25,342.5 L435.50,342.5 L435.75,342.5 L436.00,342.4 L436.25,342.5 L436.50,342.5 L436.75,342.5 L437.00,342.5 L437.25,342.6 L437.50,342.6 L437.75,342.6 L438.00,342.6 L438.25,342.6 L438.50,342.1 L438.75,341.6 L439.00,341.2 L439.25,341.0 L439.50,340.9 L439.75,341.0 L440.00,341.3 L440.25,341.8 L440.50,342.3 L440.75,342.8 L441.00,343.0 L441.25,343.0 L441.50,342.9 L441.75,342.9 L442.00,342.9 L442.25,342.9 L442.50,343.0 L442.75,343.0 L443.00,343.1 L443.25,343.1 L443.50,343.1 L443.75,343.2 L444.00,343.2 L444.25,343.0 L444.50,342.6 L444.75,342.0 L445.00,341.5 L445.25,340.9 L445.50,340.4 L445.75,340.0 L446.00,339.8 L446.25,339.8 L446.50,340.0 L446.75,340.3 L447.00,340.7 L447.25,341.3 L447.50,341.9 L447.75,341.4 L448.00,340.9 L448.25,340.4 L448.50,340.1 L448.75,339.9 L449.00,339.9 L449.25,340.0 L449.50,340.3 L449.75,340.8 L450.00,341.3 L450.25,341.9 L450.50,342.4 L450.75,342.9 L451.00,343.1 L451.25,343.1 L451.50,343.1 L451.75,343.1 L452.00,343.1 L452.25,343.1 L452.50,343.1 L452.75,343.1 L453.00,343.1 L453.25,342.9 L453.50,342.6 L453.75,342.3 L454.00,341.9 L454.25,341.7 L454.50,341.5 L454.75,341.3 L455.00,341.3 L455.25,341.3 L455.50,341.5 L455.75,341.6 L456.00,341.9 L456.25,342.2 L456.50,342.5 L456.75,342.8 L457.00,342.4 L457.25,341.9 L457.50,341.4 L457.75,341.1 L458.00,340.9 L458.25,341.0 L458.50,341.2 L458.75,341.5 L459.00,342.0 L459.25,342.5 L459.50,343.0 L459.75,343.2 L460.00,343.1 L460.25,343.1 L460.50,343.1 L460.75,343.1 L461.00,343.1 L461.25,343.1 L461.50,343.1 L461.75,343.1 L462.00,343.1 L462.25,343.0 L462.50,342.9 L462.75,342.9 L463.00,342.8 L463.25,342.7 L463.50,342.7 L463.75,342.6 L464.00,342.6 L464.25,341.9 L464.50,341.1 L464.75,340.4 L465.00,339.9 L465.25,339.7 L465.50,339.7 L465.75,340.0 L466.00,340.5 L466.25,341.3 L466.50,342.0 L466.75,342.7 L467.00,342.8 L467.25,342.7 L467.50,342.6 L467.75,342.5 L468.00,342.4 L468.25,342.4 L468.50,342.5 L468.75,342.5 L469.00,342.5 L469.25,342.5 L469.50,342.5 L469.75,342.6 L470.00,342.6 L470.25,342.6 L470.50,342.7 L470.75,342.7 L471.00,342.8 L471.25,342.8 L471.50,342.8 L471.6,343.8Z" fill="#3c3c3c" stroke="#111" stroke-width="0.9" stroke-linejoin="miter"/>
<path d="M72 343.8H471.6" stroke="#111" stroke-width="1.0"/>
<text x="1.0" y="391.3" font-size="23.5" font-weight="bold" font-style="normal" text-anchor="start" fill="#111" stroke="#111" stroke-width="0.8" >B</text>
<rect x="69.3" y="380.7" width="420.0" height="336.59999999999997" fill="#fff"/>
<path d="M88.0 380.7V717.3M69.3 702.0H489.3" stroke="#ececec" stroke-width="1"/>
<path d="M142.7 380.7V717.3M69.3 658.2H489.3" stroke="#f4f4f4" stroke-width="1"/>
<path d="M197.3 380.7V717.3M69.3 614.4H489.3" stroke="#ececec" stroke-width="1"/>
<path d="M251.9 380.7V717.3M69.3 570.6H489.3" stroke="#f4f4f4" stroke-width="1"/>
<path d="M306.6 380.7V717.3M69.3 526.8H489.3" stroke="#ececec" stroke-width="1"/>
<path d="M361.2 380.7V717.3M69.3 483.0H489.3" stroke="#f4f4f4" stroke-width="1"/>
<path d="M415.9 380.7V717.3M69.3 439.2H489.3" stroke="#ececec" stroke-width="1"/>
<path d="M470.5 380.7V717.3M69.3 395.4H489.3" stroke="#f4f4f4" stroke-width="1"/>
<path d="M155.7 648.3h0M165.9 674.4h0M153.6 650.5h0M192.5 642.0h0M151.1 666.9h0M165.9 638.9h0M151.6 661.7h0M181.8 659.6h0M217.2 662.1h0M164.0 656.0h0M190.2 653.5h0M149.0 661.3h0M179.0 644.9h0M171.7 654.1h0M149.3 663.9h0M172.6 644.3h0M154.3 663.2h0M167.8 650.1h0M149.6 665.3h0M188.4 681.9h0M154.3 659.5h0M154.8 646.5h0M160.7 657.7h0M148.9 675.2h0M186.9 642.6h0M153.9 681.7h0M191.5 671.6h0M156.7 658.1h0M162.2 663.3h0M175.6 659.0h0M156.6 656.3h0M153.1 675.5h0M158.6 643.9h0M148.9 668.7h0M177.9 660.3h0M161.8 671.6h0M154.3 660.0h0M183.5 640.4h0M151.3 671.0h0M170.5 660.0h0M193.6 677.5h0M175.8 651.9h0M158.4 659.7h0M152.0 666.4h0M157.5 666.9h0M295.3 637.8h0M167.0 653.9h0M183.2 647.4h0M145.7 674.2h0M159.7 671.0h0M205.5 626.3h0M172.9 675.1h0M162.8 658.4h0M159.6 675.6h0M171.5 664.2h0M159.1 673.8h0M165.2 643.3h0M195.7 688.0h0M177.4 665.4h0M157.9 649.2h0M181.2 671.0h0M161.5 663.1h0M145.0 656.2h0M196.8 617.1h0M196.5 641.6h0M149.6 676.0h0M166.8 665.5h0M208.4 673.5h0M146.4 673.1h0M174.7 665.9h0M160.8 656.7h0M220.3 640.1h0M194.9 676.4h0M175.4 662.5h0M166.4 648.1h0M181.7 660.0h0M147.0 657.5h0M161.7 664.4h0M177.2 653.6h0M159.0 660.5h0M184.1 655.8h0M150.4 653.1h0M147.9 672.2h0M171.5 663.8h0M248.1 636.1h0M202.4 643.4h0M190.3 643.7h0M165.4 673.3h0M168.1 668.8h0M189.5 632.2h0M198.7 673.3h0M182.6 644.8h0M173.7 664.3h0M154.7 670.7h0M144.0 655.2h0M158.0 680.0h0M155.1 667.2h0M162.0 640.0h0M182.1 664.3h0M146.7 677.2h0M169.2 667.7h0M157.1 641.1h0M162.7 649.3h0M247.8 605.1h0M161.9 669.2h0M248.3 622.6h0M155.4 662.9h0M157.7 663.5h0M165.0 669.6h0M164.5 673.9h0M176.9 651.7h0M242.6 624.1h0M166.2 671.3h0M154.0 670.7h0M158.5 656.8h0M150.9 654.3h0M202.9 670.0h0M178.4 673.7h0M152.4 664.9h0M190.9 668.9h0M201.8 656.8h0M165.6 665.5h0M182.7 651.8h0M156.4 691.8h0M165.0 676.5h0M172.6 642.4h0M162.2 655.1h0M159.7 660.2h0M159.0 666.5h0M179.4 654.0h0M148.4 660.6h0M206.9 662.3h0M208.7 633.4h0M150.7 668.3h0M175.1 658.3h0M151.5 651.1h0M189.3 653.9h0M146.2 663.9h0M156.3 674.8h0M155.7 685.7h0M197.3 643.9h0M188.9 653.5h0M165.7 643.1h0M159.8 663.9h0M153.2 667.0h0M168.1 652.8h0M197.1 633.0h0M199.8 627.3h0M168.0 663.2h0M172.9 668.2h0M246.6 639.8h0M153.4 652.8h0M155.8 677.7h0M148.7 678.0h0M163.7 661.4h0M196.6 661.8h0M155.5 663.5h0M171.9 660.0h0M208.7 669.6h0M161.6 668.2h0M148.3 657.2h0M211.3 660.8h0M156.2 648.2h0M157.6 672.5h0M156.2 677.9h0M177.7 650.8h0M158.5 660.7h0M229.6 630.1h0M161.3 679.4h0M143.7 663.6h0M158.6 672.0h0M165.3 680.2h0M150.2 665.6h0M167.0 647.8h0M191.3 642.5h0M202.9 631.3h0M147.9 675.4h0M155.4 664.4h0M162.5 669.4h0M204.7 661.0h0M171.7 656.7h0M171.4 661.9h0M153.5 682.2h0M168.5 647.5h0M154.0 641.0h0M166.2 665.3h0M195.5 650.6h0M154.0 653.0h0M148.8 665.6h0M162.1 658.5h0M172.8 680.4h0M171.7 680.4h0M154.8 680.7h0M182.8 653.5h0M158.5 650.2h0M147.7 671.2h0M188.7 650.5h0M165.5 647.6h0M159.4 658.9h0M161.8 662.5h0M169.7 661.0h0M164.4 650.3h0M163.5 660.0h0M177.7 642.5h0M162.9 670.1h0M183.1 664.7h0M170.4 650.7h0M155.5 659.0h0M171.4 659.9h0M179.2 658.5h0M147.3 665.6h0M185.7 655.6h0M189.9 634.0h0M152.3 649.2h0M170.5 649.3h0M155.4 665.6h0M165.7 661.9h0M149.6 657.7h0M146.0 668.5h0M157.7 646.4h0M159.8 661.6h0M174.9 654.4h0M162.2 668.5h0M170.4 681.8h0M168.0 646.3h0M154.1 679.0h0M166.9 654.9h0M163.6 639.0h0M153.0 662.2h0M149.7 669.8h0M180.1 669.1h0M155.9 663.0h0M156.9 677.2h0M171.9 656.8h0M156.3 669.9h0M162.6 666.2h0M155.9 653.4h0M165.3 662.5h0M152.8 669.9h0M147.2 672.8h0M147.6 671.6h0M209.0 634.2h0M149.7 673.6h0M182.3 665.1h0M148.5 652.4h0M178.3 638.8h0M244.6 631.7h0M159.1 657.8h0M150.9 660.7h0M210.4 644.1h0M146.6 664.9h0M154.2 668.0h0M156.6 674.2h0M205.7 647.6h0M193.8 650.9h0M160.4 658.9h0M193.3 650.5h0M147.0 669.6h0M158.0 664.0h0M156.7 676.9h0M154.9 656.2h0M176.9 659.1h0M190.1 649.1h0M153.8 675.7h0M193.5 622.3h0M189.4 675.5h0M153.6 659.5h0M172.0 667.6h0M166.7 661.1h0M182.8 665.3h0M222.3 637.5h0M153.0 683.2h0M157.9 664.2h0M164.0 657.3h0M147.5 660.4h0M166.4 654.6h0M162.9 665.9h0M165.5 664.9h0M283.6 611.4h0M168.5 676.0h0M162.7 646.0h0M154.5 666.9h0M188.6 671.6h0M155.8 644.0h0M160.6 658.5h0M183.2 643.4h0M156.0 665.5h0M291.0 589.1h0M167.0 661.5h0M155.5 662.5h0M158.0 657.9h0M171.6 668.5h0M192.1 659.4h0M201.5 623.7h0M166.0 653.4h0M169.8 662.4h0M158.1 666.0h0M182.9 632.6h0M185.9 669.6h0M188.6 640.5h0M147.3 661.3h0M158.2 665.2h0M190.6 662.3h0M328.2 560.5h0M174.2 651.2h0M153.7 663.2h0M144.0 673.8h0M174.3 661.7h0M159.2 663.9h0M161.5 661.9h0M171.8 653.7h0M200.1 659.3h0M161.0 676.7h0M162.8 651.9h0M184.9 638.5h0M150.8 672.2h0M167.7 646.9h0M171.5 658.0h0M172.1 668.2h0M147.8 646.6h0M185.4 626.8h0M182.2 647.3h0M223.8 638.2h0M181.8 656.7h0M164.3 652.8h0M185.7 660.9h0M149.2 672.7h0M170.6 674.6h0M169.1 663.1h0M170.4 646.1h0M155.9 666.9h0M243.7 647.3h0M170.1 659.8h0M162.4 651.8h0M199.1 662.5h0M163.3 653.2h0M151.7 678.9h0M172.0 672.1h0M147.7 667.1h0M155.8 643.2h0M161.3 666.5h0M148.0 680.3h0M154.6 665.3h0M154.8 647.1h0M149.7 657.5h0M177.3 664.3h0M153.1 674.5h0M190.6 648.4h0M169.3 664.2h0M148.1 663.1h0M151.0 671.9h0M157.3 658.3h0M146.8 672.4h0M155.2 678.3h0M147.5 666.0h0M150.0 655.7h0M154.3 664.8h0M201.3 665.4h0M193.6 656.3h0M166.6 641.5h0M286.5 640.7h0M153.3 663.1h0M168.4 683.0h0M167.2 672.0h0M149.2 659.7h0M152.9 661.2h0M161.3 662.4h0M158.9 665.7h0M216.5 646.1h0M175.2 669.1h0M182.3 655.5h0M189.1 647.7h0M151.4 664.4h0M166.5 674.7h0M147.8 657.0h0M193.1 669.8h0M177.4 647.1h0M154.0 670.0h0M148.9 671.8h0M158.4 686.3h0M158.1 664.0h0M191.1 637.3h0M176.3 657.1h0M167.8 666.8h0M187.3 660.2h0M156.8 668.6h0M164.9 674.9h0M165.7 654.5h0M164.2 658.1h0M154.3 645.6h0M198.6 635.3h0M178.4 667.6h0M184.6 673.9h0M146.6 651.9h0M167.1 657.8h0M189.0 658.4h0M149.7 680.0h0M185.4 640.7h0M174.9 638.8h0M163.5 655.9h0M150.3 682.2h0M167.4 649.5h0M151.0 666.0h0M159.9 678.1h0M160.8 666.5h0M170.0 657.1h0M184.3 659.7h0M155.5 670.9h0M148.6 677.1h0M215.0 629.2h0M175.2 662.0h0M162.6 689.2h0M157.7 673.2h0M161.1 652.5h0M154.8 659.7h0M151.9 681.0h0M160.0 675.0h0M177.2 665.9h0M152.1 651.2h0M182.0 650.3h0M239.6 655.6h0M185.1 657.1h0M162.0 676.0h0M196.9 647.8h0M161.7 667.1h0M194.3 660.7h0M153.0 657.1h0M154.3 668.8h0M154.0 685.9h0M161.0 655.2h0M168.9 671.1h0M148.4 676.4h0M216.0 640.5h0M153.3 678.6h0M146.4 667.6h0M191.6 664.4h0M153.5 642.7h0M146.7 665.2h0M161.4 657.4h0M191.4 653.7h0M151.9 667.4h0M158.1 674.8h0M151.5 668.7h0M169.5 653.2h0M150.2 671.6h0M170.5 653.6h0M217.3 641.3h0M225.6 648.8h0M144.8 670.2h0M207.3 665.3h0M154.5 657.4h0M164.7 654.8h0M174.5 656.6h0M154.1 680.6h0M155.2 653.9h0M156.2 674.1h0M160.3 667.3h0M214.8 651.3h0M163.4 661.0h0M150.5 664.6h0M158.6 672.3h0M187.7 633.2h0M158.2 677.3h0M171.4 650.3h0M178.6 663.2h0M154.8 672.6h0M190.6 647.4h0M184.9 647.1h0M149.3 659.0h0M176.1 670.0h0M182.4 659.0h0M147.4 663.6h0M145.9 671.2h0M176.4 661.8h0M167.1 652.6h0M183.0 644.6h0M167.5 659.1h0M184.7 672.3h0M240.5 661.6h0M245.9 645.7h0M156.0 660.5h0M162.6 656.4h0M145.3 656.3h0M155.1 665.8h0M151.0 672.0h0M155.3 669.7h0M156.4 656.8h0M154.1 668.4h0M159.0 666.6h0M180.4 657.6h0M148.2 659.8h0M151.6 670.4h0M165.8 683.6h0M151.2 647.5h0M184.3 675.0h0M148.1 661.5h0M148.3 658.6h0M156.2 652.6h0M154.3 667.5h0M166.5 662.3h0M191.4 649.2h0M152.4 666.8h0M171.5 663.6h0M169.4 668.0h0M208.8 614.3h0M216.8 657.0h0M194.2 678.2h0M167.8 662.0h0M191.4 659.1h0M203.2 679.3h0M158.1 678.4h0M181.2 666.2h0M151.7 682.1h0M156.8 671.2h0M153.7 659.9h0M212.7 617.5h0M147.0 676.7h0M185.2 656.6h0M187.4 661.0h0M215.5 647.4h0M154.4 644.8h0M184.6 668.9h0M153.8 646.9h0M157.2 664.3h0M165.5 664.4h0M171.9 651.5h0M189.4 646.6h0M145.4 681.6h0M190.1 650.4h0M153.2 671.4h0M168.7 636.4h0M146.5 679.7h0M169.3 663.3h0M185.9 639.8h0M150.6 655.8h0M153.4 647.7h0M161.7 659.9h0M155.1 661.8h0M161.4 648.9h0M171.0 651.1h0M200.8 667.0h0M197.0 657.3h0M172.9 673.6h0M161.0 665.4h0M210.2 629.2h0M165.9 658.7h0M189.6 642.4h0M259.0 633.1h0M166.3 655.6h0M164.1 670.8h0M269.5 605.9h0M155.5 674.4h0M150.7 664.0h0M185.2 637.3h0M153.1 680.7h0M191.9 653.8h0M246.7 624.8h0M156.5 672.7h0M160.9 669.3h0M170.1 667.3h0M187.6 665.3h0M164.4 666.9h0M195.7 677.7h0M194.9 641.5h0M161.1 672.2h0M151.9 662.0h0M183.5 645.4h0M146.3 678.3h0M171.1 671.7h0M163.6 655.2h0M149.0 672.3h0M172.1 656.6h0M161.9 660.6h0M208.3 614.2h0M152.3 675.9h0M157.8 663.0h0M149.4 671.9h0M193.6 630.9h0M190.0 675.2h0M150.0 668.8h0M159.7 669.8h0M151.2 656.7h0M174.7 633.8h0M214.2 642.5h0M154.6 662.0h0M165.6 672.6h0M159.6 682.2h0M174.3 653.3h0M170.5 662.8h0M156.2 690.4h0M291.1 588.5h0M156.5 665.3h0M157.8 689.0h0M147.6 664.0h0M163.6 652.4h0M177.1 642.7h0M155.0 685.5h0M162.8 684.0h0M167.2 658.7h0M181.2 666.6h0M188.4 643.5h0M168.6 653.7h0M187.1 663.6h0M179.6 644.0h0M196.1 632.6h0M161.0 660.4h0M160.1 669.3h0M157.5 678.9h0M160.5 658.7h0M162.0 663.6h0M169.2 651.3h0M158.8 663.0h0M203.1 668.3h0M158.9 656.2h0M193.9 650.8h0M152.8 673.1h0M194.5 637.2h0M152.6 661.3h0M159.0 670.5h0M191.2 644.4h0M155.3 669.8h0M176.1 648.9h0M195.3 667.6h0M147.0 654.1h0M166.2 678.6h0M198.4 648.1h0M153.0 680.4h0M196.4 649.5h0M186.2 665.2h0M164.0 668.4h0M158.6 674.1h0M174.6 656.0h0M174.0 664.0h0M184.0 666.4h0M153.3 681.1h0M156.2 647.1h0M174.3 649.5h0M174.0 645.0h0M161.6 653.4h0M197.7 659.5h0M181.3 636.9h0M189.0 657.2h0M213.7 638.8h0M154.1 666.5h0M154.0 679.2h0M162.3 657.6h0M155.8 660.6h0M178.2 683.4h0M208.2 626.1h0M169.0 669.1h0M149.8 675.8h0M156.4 652.9h0M178.2 663.9h0M161.8 672.8h0M175.2 637.9h0M183.4 644.3h0M209.4 626.2h0M155.9 676.2h0M159.5 656.5h0M226.0 657.8h0M192.8 622.5h0M168.1 670.9h0M163.7 672.3h0M191.9 653.8h0M182.7 664.7h0M168.3 655.6h0M186.3 689.2h0M199.6 669.7h0M148.6 673.4h0M165.8 654.3h0M221.7 671.0h0M160.4 641.5h0M176.5 670.4h0M145.9 657.6h0M162.8 649.5h0M169.3 647.5h0M169.0 682.6h0M179.7 657.4h0M167.6 651.4h0M162.9 678.6h0M151.9 673.6h0M236.6 627.8h0M163.8 661.9h0M158.5 667.6h0M149.1 664.2h0M153.3 660.4h0M156.4 662.0h0M220.1 665.7h0M233.2 610.0h0M178.2 650.6h0M216.0 634.8h0M230.6 645.0h0M151.3 652.7h0M159.7 659.4h0M332.8 574.4h0M181.3 639.4h0M167.5 675.9h0M156.0 664.2h0M159.6 652.2h0M157.6 647.2h0M166.0 648.5h0M152.8 664.0h0M158.8 661.0h0M181.3 641.1h0M188.3 658.0h0M158.4 647.2h0M146.5 668.4h0M149.4 680.2h0M176.7 666.3h0M177.8 640.0h0M155.8 666.0h0M207.9 639.0h0M172.6 676.4h0M179.7 660.0h0M155.5 666.9h0M178.8 661.3h0M177.6 659.3h0M155.4 665.8h0M194.8 644.8h0M186.2 660.1h0M158.1 678.3h0M153.7 671.0h0M176.9 673.5h0M176.3 648.9h0M179.5 672.8h0M171.2 663.1h0M155.8 670.3h0M162.9 675.9h0M150.4 657.1h0M149.4 664.4h0M150.9 673.1h0M163.8 652.3h0M170.4 656.4h0M149.0 669.9h0M170.5 658.5h0M178.7 668.1h0M169.4 651.2h0M201.4 649.6h0M196.1 666.5h0M147.1 650.7h0M194.4 657.5h0M165.3 679.5h0M169.4 668.4h0M190.0 654.3h0M154.9 645.3h0M186.7 656.2h0M152.9 668.4h0M174.6 673.3h0M169.5 668.1h0M148.0 673.2h0M217.5 650.4h0M162.5 655.1h0M153.2 661.6h0M160.6 652.8h0M153.5 665.4h0M202.4 609.9h0M173.4 651.7h0M157.5 650.5h0M164.4 661.6h0M194.5 673.5h0M158.0 671.3h0M154.5 656.6h0M156.2 672.8h0M169.2 646.2h0M154.3 654.8h0M148.1 671.3h0M145.4 669.7h0M164.4 649.0h0M177.5 665.0h0M242.9 635.3h0M155.7 646.6h0M167.4 665.2h0M189.8 653.7h0M180.6 663.0h0M153.3 680.4h0M154.5 664.8h0M183.1 662.9h0M233.7 652.8h0M189.6 639.1h0M213.1 653.3h0M167.9 647.7h0M227.9 639.3h0M153.2 659.3h0M168.0 656.7h0M151.6 671.4h0M147.8 667.3h0M155.1 658.1h0M176.5 673.0h0M160.5 655.9h0M202.7 665.7h0M194.3 650.4h0M240.9 652.3h0M169.6 648.1h0M165.1 659.3h0M183.7 650.8h0M163.4 641.8h0M150.7 681.2h0M157.1 665.3h0M146.4 651.8h0M181.4 675.8h0M178.7 643.9h0M234.0 620.6h0M153.8 654.1h0M176.3 668.3h0M180.9 656.7h0M164.4 662.0h0M161.8 681.2h0M183.8 663.9h0M178.9 649.2h0M166.3 666.2h0M177.5 657.4h0M161.3 636.2h0M178.8 652.1h0M146.5 660.5h0M151.6 671.1h0M145.4 660.3h0M171.5 654.5h0M247.3 624.8h0M207.2 641.7h0M182.9 655.3h0M205.0 649.9h0M215.4 642.2h0M147.2 678.7h0M200.9 644.1h0M161.2 661.8h0M179.3 635.9h0M165.2 671.8h0M216.6 606.9h0M150.5 668.5h0M173.4 657.6h0M166.5 675.6h0M193.0 646.1h0M150.5 666.5h0M179.0 655.4h0M156.6 681.5h0M151.6 664.0h0M171.7 672.3h0M155.0 678.9h0M157.2 680.4h0M185.0 658.1h0M148.0 665.8h0M160.2 659.0h0M191.6 633.3h0M153.2 673.1h0M157.2 650.3h0M174.5 661.0h0M170.8 652.7h0M148.2 649.1h0M155.3 669.5h0M166.8 643.0h0M209.8 646.7h0M191.2 652.6h0M154.6 673.7h0M183.2 679.6h0M158.6 666.4h0M162.9 664.7h0M169.5 632.9h0M173.8 677.6h0M184.5 661.4h0M148.8 664.5h0M157.4 667.1h0M203.4 664.6h0M172.6 675.8h0M150.9 653.3h0M155.3 680.1h0M185.4 655.1h0M151.9 672.7h0M153.6 663.7h0M206.4 646.3h0M153.6 659.0h0M181.7 652.8h0M154.5 672.2h0M151.2 674.0h0M149.3 654.4h0M170.3 640.2h0M148.2 659.1h0M217.1 655.6h0M175.0 624.9h0M164.2 667.1h0M186.4 669.2h0M181.1 646.5h0M157.1 664.9h0M164.8 655.5h0M162.0 677.3h0M157.0 655.2h0M146.5 666.9h0M153.7 680.2h0M156.9 673.8h0M165.8 660.6h0M177.7 663.9h0M178.5 654.8h0M162.8 665.2h0M171.3 677.0h0M163.6 674.9h0M156.2 669.0h0M213.8 641.4h0M172.6 677.3h0M159.2 667.4h0M154.6 681.8h0M283.1 633.5h0M160.5 670.7h0M176.1 654.0h0M198.7 632.4h0M185.1 633.4h0M168.3 683.5h0M149.7 667.6h0M151.5 658.9h0M147.9 650.8h0M236.2 663.8h0M196.5 657.1h0M205.8 653.3h0M188.6 639.3h0M147.3 673.3h0M177.9 661.1h0M183.1 647.2h0M147.4 672.7h0M186.4 641.3h0M203.8 659.2h0M205.1 629.2h0M173.5 658.1h0M199.4 653.3h0M163.4 657.6h0M165.6 657.4h0M182.1 652.7h0M197.2 638.0h0M155.4 666.9h0M220.4 631.7h0M164.2 655.9h0M173.7 676.8h0M150.8 680.4h0M161.2 663.5h0M152.2 665.6h0M160.3 654.4h0M148.3 647.3h0M171.4 632.8h0M252.5 635.6h0M167.9 664.5h0M146.8 672.2h0M165.4 658.4h0M183.7 626.4h0M208.0 646.4h0M185.4 664.0h0M154.0 669.1h0M156.9 666.8h0M235.0 645.2h0M179.4 669.8h0M148.3 678.1h0M172.4 648.9h0M152.6 684.2h0M167.2 643.7h0M165.3 636.2h0M171.5 668.9h0M170.9 663.7h0M189.7 653.2h0M154.5 650.0h0M153.4 658.0h0M146.8 656.5h0M171.3 674.9h0M206.4 657.4h0M160.8 655.8h0M170.0 648.3h0M155.9 673.2h0M165.0 653.6h0M146.8 669.6h0M151.4 672.0h0M176.8 655.6h0M146.5 670.9h0M180.0 658.9h0M208.6 652.4h0M152.3 676.2h0M189.2 658.3h0M183.0 676.3h0M186.1 657.0h0M148.9 677.8h0M204.4 642.3h0M146.4 660.4h0M164.8 665.7h0M197.1 638.7h0M167.7 674.6h0M159.9 641.7h0M161.0 658.3h0M215.1 609.6h0M185.3 630.7h0M161.6 670.1h0M214.6 635.3h0M171.8 657.9h0M153.3 673.5h0M206.8 663.3h0M165.3 646.5h0M292.4 641.6h0M175.3 659.0h0M166.9 659.8h0M154.0 663.0h0M168.7 660.3h0M174.5 665.3h0M146.4 680.4h0M203.0 655.2h0M161.8 671.2h0M168.8 646.4h0M169.2 651.2h0M161.1 670.2h0M162.7 671.5h0M172.4 668.7h0M169.5 661.5h0M159.3 673.1h0M161.0 676.2h0M152.5 653.5h0M215.8 646.2h0M150.0 659.6h0M193.0 680.6h0M168.8 636.8h0M146.5 647.9h0M160.9 660.1h0M201.3 686.3h0M181.1 644.9h0M179.4 664.4h0M181.4 648.1h0M171.9 656.6h0M182.2 659.0h0M176.5 675.5h0M161.1 656.7h0M193.3 659.5h0M179.6 655.4h0M158.4 672.6h0M182.1 655.0h0M151.9 680.5h0M168.2 638.0h0M153.2 667.1h0M215.8 636.3h0M151.2 660.2h0M219.4 651.1h0M178.6 668.5h0M149.1 673.9h0M176.2 674.2h0M186.8 659.9h0M147.2 669.7h0M169.2 648.0h0M178.4 638.1h0M166.5 678.4h0M165.5 657.0h0M151.6 660.3h0M160.9 658.3h0M154.4 656.0h0M162.0 646.9h0M170.3 652.7h0M178.1 664.7h0M149.9 670.0h0M149.9 670.8h0M173.6 636.4h0M153.5 671.6h0M167.2 670.8h0M175.1 651.5h0M151.6 653.5h0M155.6 648.0h0M158.1 667.4h0M210.6 663.6h0M147.0 666.0h0M158.8 654.7h0M175.7 651.2h0M153.5 646.8h0M194.0 643.0h0M174.2 645.5h0M158.1 654.6h0M194.9 649.9h0M150.9 673.8h0M188.7 665.6h0M193.9 672.4h0M148.7 673.9h0M191.0 661.9h0M158.5 682.4h0M228.7 634.1h0M149.1 665.6h0M148.8 673.0h0M164.6 672.8h0M148.4 664.8h0M175.6 661.0h0M160.7 676.3h0M154.5 672.8h0M163.5 652.9h0M162.9 657.3h0M158.9 671.6h0M148.2 658.8h0M155.7 659.1h0M173.5 658.7h0M150.4 676.7h0M173.7 654.8h0M181.5 651.4h0M164.1 673.5h0M247.5 610.6h0M157.1 656.6h0M156.1 667.3h0M168.4 638.7h0M149.1 676.1h0M152.1 666.9h0M157.3 672.7h0M226.3 626.2h0M176.3 669.1h0M231.6 660.2h0M170.2 670.2h0M185.9 660.3h0M165.0 637.7h0M182.0 663.0h0M180.2 660.6h0M168.1 669.5h0M162.9 640.6h0M164.9 652.1h0M170.3 653.4h0M156.8 667.7h0M163.3 678.0h0M150.9 646.9h0M177.8 670.2h0M169.0 654.0h0M178.6 659.5h0M175.9 639.1h0M158.1 664.5h0M157.5 668.0h0M148.5 674.5h0M201.6 661.4h0M159.5 652.1h0M153.7 672.0h0M149.4 656.0h0M162.2 657.6h0M194.5 651.9h0M169.5 665.9h0M155.9 668.6h0M170.3 659.5h0M178.2 658.1h0M160.7 677.2h0M181.0 635.4h0M294.0 614.1h0M207.0 635.6h0M178.3 645.1h0M164.3 647.6h0M158.1 658.6h0M157.4 675.1h0M175.8 665.4h0M153.5 674.0h0M202.8 667.9h0M166.5 655.7h0M188.6 655.7h0M159.5 639.7h0M186.3 652.3h0M151.4 657.5h0M215.8 684.3h0M204.5 671.2h0M192.4 661.2h0M200.7 634.2h0M154.2 665.3h0M185.4 670.6h0M228.2 650.6h0M177.9 652.4h0M167.9 674.5h0M176.0 650.1h0M168.3 644.9h0M161.2 654.5h0M163.0 675.2h0M161.6 671.4h0M165.9 650.5h0M146.7 677.6h0M166.8 655.4h0M166.1 673.6h0M154.6 663.7h0M188.9 684.6h0M185.1 644.9h0M147.7 666.8h0M167.9 671.2h0M152.3 662.2h0M193.3 659.3h0M147.9 675.0h0M184.8 680.8h0M150.4 659.2h0M155.7 679.6h0M157.0 645.2h0M154.3 668.3h0M155.7 672.7h0M193.6 649.4h0M186.6 653.7h0M152.6 672.5h0M188.3 667.3h0M162.3 655.0h0M178.9 651.5h0M171.1 675.0h0M183.6 685.1h0M161.4 651.9h0M164.5 662.3h0M213.9 627.6h0M188.7 681.8h0M160.3 644.7h0M197.4 648.3h0M152.9 674.3h0M151.9 653.6h0M181.2 652.7h0M179.9 673.5h0M173.6 661.4h0M168.7 647.1h0M155.3 650.7h0M195.0 643.9h0M154.1 682.3h0M153.7 653.9h0M177.2 653.4h0M172.2 652.6h0M168.6 679.5h0M160.1 646.6h0M152.0 657.9h0M154.8 673.0h0M171.5 663.3h0M182.8 680.4h0M176.0 654.2h0M149.5 663.4h0M155.0 654.6h0M153.1 676.3h0M164.0 666.0h0M151.7 654.3h0M190.6 656.1h0M167.5 657.9h0M171.6 669.4h0M162.2 675.4h0M194.6 666.7h0M190.4 641.1h0M160.4 659.3h0M147.7 654.9h0M179.5 642.6h0M198.2 658.8h0M240.6 647.1h0M185.7 637.1h0M147.1 650.6h0M153.5 652.0h0M152.1 667.5h0M180.7 664.3h0M178.6 641.5h0M149.8 649.1h0M213.8 654.0h0M177.8 655.8h0M178.0 648.0h0M162.5 663.1h0M150.9 669.6h0M151.8 667.2h0M213.7 622.3h0M236.5 641.4h0M190.1 631.8h0M158.7 658.6h0M165.0 668.8h0M164.2 666.4h0M170.7 660.1h0M208.5 658.2h0M167.0 655.1h0M200.8 643.4h0M150.6 659.6h0M235.6 638.2h0M172.7 645.5h0M154.6 667.3h0M162.6 649.7h0M190.1 662.6h0M167.3 669.7h0M170.2 667.3h0M184.8 629.6h0M185.1 655.2h0M163.7 655.6h0M163.9 638.5h0M147.4 658.7h0M164.6 656.5h0M165.0 677.0h0M194.0 636.8h0M157.0 676.8h0M159.6 672.1h0M155.3 662.9h0M160.0 670.6h0M156.4 644.7h0M173.8 672.7h0M155.6 662.6h0M172.7 655.4h0M147.5 647.7h0M151.0 655.8h0M152.2 653.5h0M189.4 646.5h0M152.5 654.8h0M155.0 648.0h0M209.9 661.5h0M161.3 673.9h0M182.7 655.9h0M183.9 640.6h0M187.5 651.0h0M162.5 660.8h0M149.5 683.4h0M159.7 663.1h0M164.2 664.6h0M175.4 646.1h0M148.8 663.8h0M200.9 658.0h0M146.9 650.3h0M156.3 671.2h0M149.7 668.3h0M150.1 660.2h0M148.1 673.8h0M159.0 660.5h0M166.1 636.8h0M181.0 661.8h0M171.9 667.6h0M161.6 655.7h0M196.2 665.6h0M145.2 671.0h0M186.2 676.6h0M162.1 652.6h0M176.5 665.2h0M232.9 640.1h0M188.3 671.9h0M157.6 690.1h0M209.8 648.0h0M173.3 654.9h0M201.7 667.9h0M156.3 666.7h0M153.3 670.1h0M194.2 631.8h0M186.2 671.2h0M154.9 671.0h0M167.0 637.4h0M155.2 664.7h0M165.3 668.1h0M224.1 633.2h0M297.4 620.9h0M159.0 690.0h0M187.0 647.0h0M187.1 633.5h0M144.7 668.9h0M176.7 674.9h0M159.4 674.0h0M212.6 652.1h0M187.3 657.4h0M152.6 669.6h0M199.2 656.5h0M168.3 660.3h0M167.7 657.5h0M172.1 656.1h0M158.4 639.2h0M158.1 666.7h0M266.5 599.4h0M194.7 665.3h0M167.9 654.1h0M218.2 653.8h0M198.1 639.7h0M161.4 656.8h0M151.3 673.0h0M160.5 678.1h0M161.3 644.7h0M147.8 673.7h0M165.3 667.8h0M181.1 655.1h0M206.9 655.8h0M182.5 662.8h0M235.5 604.8h0M220.4 645.3h0M143.6 672.3h0M147.6 670.7h0M227.7 649.1h0M189.9 658.9h0M158.7 675.1h0M144.8 673.1h0M216.0 641.7h0M159.1 647.8h0M155.7 655.8h0M147.8 674.0h0M179.0 653.9h0M181.0 651.3h0M167.6 659.9h0M172.0 663.7h0M168.8 648.2h0M150.3 652.5h0M149.4 665.6h0M251.9 630.8h0M174.2 655.0h0M157.3 650.3h0M174.9 635.0h0M178.1 657.2h0M162.2 661.7h0M197.5 669.6h0M148.8 677.2h0M205.1 631.2h0M155.9 670.5h0M193.3 659.0h0M194.3 670.6h0M241.8 649.1h0M165.4 639.9h0M171.8 665.6h0M160.4 682.5h0M154.5 655.9h0M185.3 650.7h0M287.2 615.4h0M167.7 647.2h0M147.7 660.8h0M152.7 672.1h0M148.0 667.9h0M155.1 638.4h0M151.4 661.2h0M155.4 670.2h0M239.4 609.2h0M149.4 659.8h0M147.4 670.9h0M156.0 653.4h0M160.8 680.6h0M182.4 657.0h0M152.3 657.7h0M181.1 683.9h0M158.4 670.6h0M256.4 633.4h0M173.2 656.2h0M173.9 647.8h0M157.4 669.3h0M168.0 674.9h0M155.1 684.4h0M149.1 660.5h0M164.6 654.5h0M234.0 621.4h0M169.6 659.9h0M155.0 661.2h0M158.4 671.6h0M175.3 660.4h0M179.5 635.4h0M222.4 628.1h0M151.6 655.4h0M166.1 671.6h0M162.6 652.6h0M148.9 659.5h0M258.6 633.8h0M170.2 639.5h0M163.3 637.3h0M162.0 666.3h0M164.7 672.1h0M154.3 672.3h0M162.4 658.5h0M161.5 681.0h0M162.2 686.7h0M167.7 647.0h0M196.6 668.0h0M159.9 669.5h0M192.8 644.2h0M159.7 666.6h0M151.7 639.7h0M163.2 658.4h0M152.2 660.6h0M170.4 672.4h0M191.8 656.0h0M163.3 649.9h0M182.4 639.1h0M173.5 657.4h0M210.8 643.2h0M160.8 672.9h0M168.9 658.1h0M183.4 650.8h0M200.2 668.7h0M178.0 649.9h0M157.7 654.7h0M187.8 631.1h0M154.7 666.8h0M179.2 650.2h0M164.0 664.2h0M151.4 678.7h0M234.8 603.7h0M160.8 676.7h0M161.5 650.0h0M186.8 639.4h0M176.9 649.8h0M167.6 676.2h0M155.1 674.2h0M173.8 658.7h0M151.5 646.2h0M177.5 666.0h0M188.3 643.7h0M157.9 685.7h0M150.5 661.6h0M183.4 644.9h0M168.2 672.0h0M165.8 659.6h0M235.1 606.6h0M147.7 676.7h0M173.7 645.8h0M155.2 657.7h0M162.1 680.6h0M180.8 652.2h0M153.2 675.0h0M162.5 663.3h0M154.7 668.7h0M158.5 667.7h0M184.7 651.8h0M161.1 673.8h0M147.9 679.3h0M156.0 672.8h0M177.3 640.3h0M182.3 651.5h0M167.9 673.3h0M198.5 654.2h0M218.5 633.5h0M155.2 669.3h0M153.0 667.8h0M163.1 645.0h0M163.9 660.2h0M159.5 673.4h0M192.5 667.5h0M153.1 663.4h0M180.9 659.5h0M164.3 668.7h0M147.8 678.9h0M216.6 596.7h0M162.3 668.4h0M212.7 685.6h0M144.4 662.2h0M175.9 663.6h0M180.0 662.8h0M187.5 683.5h0M151.6 668.3h0M178.5 656.4h0M150.1 663.6h0M168.3 662.6h0M158.8 662.5h0M166.8 655.3h0M194.3 654.7h0M189.6 666.5h0M170.5 664.6h0M151.3 646.0h0M186.9 668.1h0M190.9 663.2h0M148.9 651.7h0M204.9 666.6h0M151.0 663.7h0M186.9 662.7h0M174.0 662.0h0M153.9 664.2h0M175.1 650.8h0M148.1 674.1h0M167.7 680.3h0M152.7 649.8h0M185.5 664.5h0M159.0 664.2h0M166.0 670.9h0M170.3 653.8h0M155.3 674.6h0M155.6 675.9h0M213.8 644.1h0M163.6 653.9h0M159.5 659.5h0M189.5 657.5h0M166.3 659.1h0M176.2 643.2h0M153.7 656.0h0M220.2 658.2h0M186.8 636.8h0M181.2 644.2h0M167.8 656.6h0M151.2 664.1h0M231.1 637.7h0M152.1 661.8h0M164.0 666.0h0M179.2 678.9h0M154.7 664.4h0M149.6 668.4h0M216.0 660.1h0M157.6 665.0h0M174.4 662.9h0M157.9 666.7h0M156.3 676.1h0M186.8 641.1h0M157.5 659.0h0M190.5 639.9h0M180.6 662.8h0M162.5 656.0h0M180.6 643.7h0M186.0 651.4h0M147.3 662.3h0M203.4 631.1h0M200.8 651.7h0M158.1 666.7h0M149.8 678.7h0M167.0 658.1h0M161.8 646.7h0M159.7 669.0h0M152.1 647.3h0M150.7 662.1h0M216.3 613.5h0M162.2 644.8h0M144.5 669.8h0M156.0 660.2h0M150.5 678.0h0M181.3 661.6h0M159.6 659.8h0M185.1 648.4h0M167.9 663.3h0M222.0 654.5h0M157.1 639.3h0M176.6 640.2h0M147.0 662.3h0M154.3 668.6h0M171.0 669.0h0M228.6 618.8h0M158.4 658.5h0M175.5 644.5h0M172.8 656.6h0M184.6 644.6h0M152.7 646.4h0M158.5 667.7h0M147.8 680.8h0M197.0 635.4h0M180.9 648.6h0M166.7 638.0h0M152.3 653.1h0M148.1 647.6h0M180.6 653.7h0M162.0 653.5h0M153.2 674.9h0M172.1 687.1h0M192.8 653.0h0M152.7 668.8h0M150.5 665.0h0M148.9 674.2h0M167.3 654.4h0M155.1 662.3h0M213.4 635.7h0M168.3 633.3h0M159.0 673.8h0M154.8 655.5h0M208.6 643.4h0M176.5 656.1h0M198.6 652.9h0M170.1 654.0h0M161.2 682.3h0M153.3 657.7h0M166.0 682.2h0M157.3 666.3h0M166.6 644.5h0M144.6 653.1h0M152.6 651.8h0M160.3 668.2h0M158.2 679.4h0M159.4 657.7h0M145.7 675.7h0M168.7 643.6h0M154.2 664.7h0M150.4 652.5h0M175.5 662.6h0M175.0 673.9h0M252.4 608.7h0M153.4 646.7h0M167.5 660.8h0M167.7 674.7h0M158.9 654.3h0M173.9 672.3h0M176.2 661.1h0M157.1 641.7h0M150.9 647.9h0M165.0 660.0h0M153.3 662.6h0M178.1 657.1h0M160.8 653.7h0M149.0 656.4h0M157.7 669.1h0M216.4 632.7h0M185.1 635.4h0M156.8 659.6h0M159.1 670.0h0M202.2 631.6h0M153.6 650.3h0M170.8 658.4h0M197.8 630.9h0M167.1 668.9h0M237.9 619.4h0M199.4 637.4h0M153.4 685.6h0M164.0 668.2h0M182.1 647.4h0M165.4 660.4h0M318.2 603.7h0M173.7 680.0h0M180.1 643.4h0M209.5 632.0h0M163.5 682.7h0M170.3 686.0h0M164.8 663.6h0M233.7 637.2h0M179.1 662.4h0M149.0 665.5h0M169.3 678.8h0M167.2 658.9h0M166.5 669.6h0M225.1 637.3h0M167.9 660.7h0M157.9 651.7h0M147.9 670.5h0M168.5 655.7h0M163.4 641.6h0M151.6 650.7h0M247.5 626.9h0M166.6 666.9h0M169.9 678.6h0M149.2 664.9h0M175.3 670.1h0M147.8 678.8h0M197.1 662.7h0M146.1 674.1h0M291.2 622.7h0M248.3 607.4h0M147.2 674.2h0M157.3 659.4h0M166.6 662.5h0M174.4 657.1h0M150.0 670.4h0M159.0 678.3h0M169.1 667.8h0M148.4 658.9h0M166.9 671.0h0M180.1 641.0h0M152.2 675.5h0M192.4 667.5h0M229.1 620.1h0M152.6 650.6h0M147.1 668.1h0M152.0 651.4h0M161.8 655.9h0M154.2 647.5h0M191.4 675.6h0M160.9 685.2h0M150.6 664.3h0M148.4 656.5h0M161.8 690.3h0M168.8 657.3h0M162.2 651.8h0M156.5 676.6h0M179.3 658.5h0M177.8 658.0h0M161.4 669.1h0M151.8 662.3h0M149.6 664.0h0M163.7 673.9h0M277.6 620.4h0M174.8 665.7h0M213.1 622.5h0M166.2 650.7h0M162.0 675.0h0M205.7 600.0h0M158.0 675.5h0M151.7 657.5h0M156.5 677.6h0M192.1 657.6h0M144.2 662.3h0M152.2 663.4h0M169.1 685.9h0M191.2 647.2h0M172.9 633.9h0M155.6 656.7h0M201.1 634.1h0M147.7 675.3h0M175.4 657.5h0M166.0 680.9h0M162.4 656.9h0M170.5 678.4h0M175.8 638.9h0M169.9 665.1h0M234.0 602.9h0M180.6 672.2h0M196.2 654.9h0M156.0 665.5h0M188.0 669.5h0M233.4 601.7h0M148.8 671.8h0M157.0 651.2h0M162.6 675.3h0M193.8 638.2h0M234.6 671.1h0M156.2 684.0h0M171.0 663.3h0M150.7 656.8h0M172.7 659.9h0M157.1 688.4h0M150.0 666.0h0M165.5 640.3h0M216.2 639.1h0M162.3 669.0h0M154.5 661.3h0M173.6 671.6h0M226.1 583.8h0M174.7 678.0h0M159.6 656.1h0M210.7 670.7h0M152.3 664.9h0M199.4 656.2h0M159.9 653.4h0M172.3 663.0h0M147.7 651.7h0M161.7 682.4h0M233.6 653.3h0M171.6 656.0h0M223.1 611.8h0M152.3 663.1h0M162.4 657.8h0M173.3 676.9h0M171.0 658.8h0M171.6 685.6h0M155.2 676.9h0M201.8 650.6h0M153.7 661.4h0M162.3 656.1h0M167.3 664.6h0M203.0 637.4h0M155.2 676.8h0M180.9 667.4h0M158.0 682.6h0M146.1 660.6h0M162.0 634.6h0M178.0 658.2h0M170.1 656.2h0M159.3 662.4h0M150.4 669.8h0M156.8 667.6h0M161.7 663.1h0M157.1 670.4h0M187.6 655.6h0M175.5 653.4h0M163.8 646.7h0M232.5 639.0h0M154.2 663.6h0M152.9 659.3h0M164.1 685.8h0M161.0 667.8h0M170.4 674.3h0M166.9 670.3h0M148.2 668.7h0M150.4 653.9h0M170.3 659.9h0M172.2 652.7h0M190.6 641.1h0M151.8 658.3h0M194.8 643.1h0M163.5 657.8h0M187.8 648.8h0M162.2 651.6h0M161.6 661.3h0M178.2 638.9h0M164.9 659.2h0M151.2 682.4h0M184.3 654.2h0M149.7 677.3h0M162.5 657.2h0M182.8 663.7h0M182.9 654.7h0M179.5 683.7h0M179.7 654.7h0M149.6 666.3h0M192.0 643.4h0M157.0 676.1h0M164.9 645.2h0M261.7 615.5h0M161.4 653.1h0M168.0 662.1h0M166.6 662.8h0M204.9 649.5h0M201.3 636.3h0M196.9 657.3h0M182.9 641.4h0M182.3 660.3h0M193.2 656.1h0M168.6 655.0h0M153.0 652.2h0M151.5 678.0h0M162.9 654.0h0M167.4 650.5h0M180.7 638.4h0M153.4 672.5h0M159.6 637.9h0M191.2 655.0h0M175.1 660.5h0M153.2 657.0h0M187.9 640.7h0M147.3 670.9h0M158.4 665.7h0M201.8 648.9h0M178.6 650.9h0M151.7 675.4h0M180.4 677.7h0M159.2 664.8h0M161.9 657.2h0M165.1 656.3h0M192.5 666.9h0M155.5 659.1h0M151.5 666.4h0M162.1 649.2h0M167.3 667.8h0M164.0 672.9h0M201.3 633.3h0M170.8 642.9h0M181.6 660.0h0M165.9 675.5h0M177.0 662.7h0M176.6 642.0h0M169.9 656.8h0M155.2 666.4h0M154.4 674.1h0M157.6 690.2h0M172.2 657.4h0M185.8 668.1h0M151.3 673.2h0M166.3 660.8h0M181.1 645.3h0M146.3 673.8h0M148.5 656.5h0M157.8 642.7h0M158.2 656.3h0M158.3 651.4h0M155.0 674.9h0M174.0 659.0h0M168.5 665.7h0M155.6 665.2h0M168.8 660.5h0M180.5 658.1h0M221.7 675.3h0M152.9 670.2h0M150.9 648.9h0M147.9 680.6h0M155.2 677.9h0M198.1 637.7h0M173.8 661.5h0M198.2 625.4h0M225.7 637.5h0M162.4 645.0h0M161.3 661.7h0M147.6 667.9h0M168.5 683.2h0M149.1 667.2h0M158.3 672.1h0M176.7 653.4h0M169.6 665.5h0M152.7 671.8h0M163.3 670.9h0M174.4 648.5h0M172.0 652.6h0M165.0 674.6h0M154.8 676.5h0M187.8 656.4h0M159.7 675.6h0M153.4 660.7h0M147.9 673.9h0M206.3 640.0h0M192.7 649.2h0M156.3 658.8h0M172.5 674.7h0M154.9 675.2h0M147.1 654.4h0M184.3 660.9h0M168.0 644.7h0M173.5 648.5h0M158.7 656.0h0M154.4 641.5h0M191.5 635.4h0M145.8 681.6h0M153.9 651.7h0M177.6 677.4h0M263.4 623.4h0M164.3 661.8h0M169.1 669.4h0M167.0 673.5h0M184.0 644.4h0M203.5 651.8h0M188.6 648.6h0M153.3 683.4h0M185.1 659.5h0M176.6 666.1h0M164.1 656.0h0M184.4 637.5h0M160.1 661.7h0M190.7 629.9h0M170.7 677.2h0M167.7 660.3h0M148.8 680.1h0M188.1 641.8h0M203.5 631.0h0M186.6 643.1h0M157.9 645.0h0M152.3 667.8h0M163.2 651.1h0M228.3 608.1h0M159.4 668.5h0M153.6 653.9h0M194.8 644.7h0M155.0 659.8h0M210.3 636.3h0M151.6 654.6h0M174.6 645.0h0M155.0 683.6h0M185.7 628.9h0M173.8 672.3h0M193.8 656.0h0M151.7 665.6h0M191.8 631.3h0M179.3 650.0h0M205.0 644.5h0M179.3 658.8h0M173.2 667.3h0M169.1 652.3h0M159.0 661.8h0M163.1 655.7h0M159.0 665.4h0M182.3 665.3h0M168.1 655.6h0M193.1 656.9h0M202.9 637.4h0M182.0 653.5h0M153.7 654.1h0M173.3 663.3h0M225.4 597.4h0M157.0 654.4h0M152.9 684.6h0M150.2 670.4h0M162.5 687.7h0M166.1 655.8h0M175.5 651.6h0M160.8 668.6h0M261.5 647.5h0M163.3 644.7h0M160.0 664.6h0M168.4 666.8h0M220.6 664.2h0M146.4 669.3h0M173.4 659.9h0M157.9 664.3h0M151.5 650.2h0M153.8 674.4h0M159.0 641.6h0M168.1 653.2h0M183.4 668.6h0M148.3 678.5h0M172.1 663.7h0M173.1 657.3h0M169.5 679.8h0M191.6 653.9h0M170.5 664.0h0M171.2 654.4h0M194.4 632.7h0M153.6 666.7h0M185.0 649.0h0M200.9 663.8h0M165.3 677.7h0M179.0 657.3h0M167.1 658.8h0M160.9 675.7h0M175.8 656.5h0M147.8 656.4h0M159.0 672.4h0M174.4 638.0h0M173.1 658.9h0M152.2 656.0h0M179.7 667.8h0M182.5 659.7h0M178.9 662.3h0M159.1 657.7h0M182.6 646.8h0M169.6 662.7h0M146.1 662.7h0M173.3 654.2h0M157.9 666.5h0M150.3 676.6h0M152.5 655.8h0M170.4 686.4h0M153.6 679.3h0M156.1 664.9h0M165.7 655.2h0M173.3 659.5h0M145.1 670.0h0M178.1 667.9h0M192.5 651.6h0M157.2 666.2h0M184.8 669.8h0M156.5 673.4h0M148.4 663.8h0M247.7 644.3h0M176.8 653.2h0M245.2 632.8h0M152.7 666.1h0M152.3 663.4h0M167.1 644.2h0M160.6 654.9h0M151.5 671.3h0M148.0 664.3h0M170.8 637.4h0M148.8 668.3h0M165.6 649.8h0M158.2 663.6h0M161.4 676.8h0M167.2 642.4h0M159.7 656.0h0M179.0 661.3h0M157.8 651.7h0M222.5 613.6h0M188.0 662.5h0M155.9 656.6h0M200.1 635.4h0M170.0 664.9h0M150.3 668.7h0M174.2 664.1h0M149.5 650.0h0M168.0 651.9h0M159.9 658.5h0M146.8 673.5h0M163.6 652.6h0M145.7 665.2h0M147.3 659.5h0M182.2 672.1h0M173.0 671.5h0M156.3 657.7h0M197.9 651.4h0M156.6 660.7h0M178.5 664.6h0M209.9 655.5h0M192.5 639.2h0M185.9 660.8h0M178.2 676.9h0M205.2 653.0h0M315.2 621.4h0M196.2 659.1h0M201.7 641.7h0M172.2 667.1h0M163.6 668.6h0M174.8 639.7h0M182.4 652.6h0M150.8 668.6h0M162.2 655.2h0M148.8 651.5h0M166.6 645.4h0M167.3 650.4h0M180.5 638.4h0M168.0 652.3h0M146.8 656.5h0M149.5 648.6h0M209.9 664.8h0M155.0 665.3h0M190.7 664.7h0M157.0 661.1h0M162.1 652.3h0M220.4 623.1h0M158.5 654.6h0M200.4 632.8h0M169.9 649.5h0M171.4 657.3h0M163.6 683.8h0M191.2 627.6h0M166.0 674.1h0M200.6 660.7h0M154.8 676.6h0M157.4 664.5h0M160.3 677.6h0M167.2 661.4h0M147.2 679.4h0M202.2 645.4h0M165.6 645.7h0M152.7 682.3h0M170.3 639.9h0M160.9 660.7h0M164.0 655.4h0M153.6 672.1h0M161.0 670.5h0M170.1 653.9h0M157.5 672.5h0M197.6 661.4h0M163.6 665.4h0M218.6 643.7h0M156.7 669.5h0M145.5 663.0h0M165.3 657.4h0M202.2 641.4h0M194.9 653.5h0M150.1 681.5h0M173.6 639.0h0M172.7 629.7h0M164.6 673.4h0M157.4 657.2h0M154.5 681.0h0M151.5 675.2h0M203.2 677.7h0M189.2 639.4h0M147.3 672.5h0M160.7 657.0h0M150.4 655.2h0M145.7 674.0h0M202.4 638.9h0M174.5 648.2h0M151.4 650.4h0M298.4 608.7h0M168.5 667.2h0M208.9 639.7h0M150.4 672.3h0M196.0 641.6h0M155.4 652.1h0M164.7 679.7h0M194.1 666.5h0M169.5 665.0h0M159.6 667.5h0M187.4 653.2h0M174.5 656.1h0M192.5 663.0h0M158.0 675.6h0M215.0 666.9h0M190.1 634.3h0M160.6 659.1h0M167.8 660.8h0M186.0 660.6h0M162.0 688.6h0M150.6 672.6h0M147.6 661.1h0M165.0 653.1h0M150.6 665.1h0M246.1 647.7h0M155.5 671.2h0M197.2 642.4h0M176.5 659.1h0M165.4 664.6h0M153.6 667.3h0M219.6 650.5h0M212.1 649.2h0M155.9 674.3h0M156.1 661.0h0M198.4 666.2h0M179.7 680.6h0M150.3 648.4h0M208.6 638.0h0M196.6 677.7h0M229.7 624.5h0M192.3 645.8h0M181.0 657.3h0M157.7 670.9h0M149.7 657.6h0M161.0 659.0h0M152.8 654.4h0M152.6 675.0h0M149.3 670.6h0M177.4 654.9h0M147.5 672.1h0M166.3 656.9h0M144.2 676.9h0M146.6 672.7h0M145.9 667.5h0M171.1 651.1h0M166.7 663.0h0M154.1 667.1h0M235.4 633.8h0M155.0 661.4h0M190.0 655.6h0M176.1 648.9h0M181.4 650.9h0M159.0 660.7h0M175.3 653.9h0M193.5 649.9h0M219.9 640.6h0M179.9 659.1h0M148.8 676.7h0M168.3 645.1h0M177.9 651.4h0M164.0 682.6h0M178.4 631.5h0M157.4 671.7h0M153.0 675.8h0M158.3 680.1h0M154.7 646.0h0M152.1 686.0h0M204.9 640.1h0M162.5 656.1h0M171.5 670.2h0M147.3 670.1h0M164.0 664.2h0M187.8 654.9h0M162.1 668.7h0M174.0 674.6h0M152.5 676.8h0M147.9 680.6h0M169.6 679.9h0M165.4 686.5h0M202.3 651.3h0M166.2 664.2h0M149.3 664.8h0M151.6 659.9h0M226.0 640.2h0M164.7 652.4h0M189.5 661.8h0M174.8 645.3h0M165.6 663.3h0M213.8 622.0h0M269.3 637.4h0M148.3 673.0h0M156.3 668.4h0M163.3 657.1h0M192.3 653.7h0M225.5 634.6h0M184.1 645.0h0M173.4 662.8h0M159.4 660.9h0M193.6 656.5h0M229.2 643.2h0M155.5 661.4h0M147.9 658.7h0M163.0 655.1h0M175.5 655.8h0M164.7 639.9h0M166.6 643.7h0M162.0 650.6h0M159.7 675.1h0M162.1 664.8h0M198.6 638.5h0M164.2 668.4h0M238.7 616.6h0M153.8 674.2h0M148.6 659.4h0M149.2 672.4h0M170.8 651.5h0M152.8 682.1h0M194.0 630.6h0M154.3 658.4h0M155.1 669.7h0M170.4 669.4h0M165.5 664.3h0M191.1 659.6h0M181.5 657.9h0M199.7 632.6h0M200.9 676.9h0M151.7 669.5h0M182.1 662.8h0M162.1 642.3h0M162.7 657.4h0M147.3 665.1h0M153.3 683.2h0M148.9 670.2h0M224.9 636.6h0M174.6 639.8h0M148.0 666.4h0M194.6 653.6h0M154.4 662.9h0M271.2 572.7h0M149.6 682.8h0M163.7 686.2h0M197.2 635.2h0M156.8 662.2h0M201.2 678.1h0M152.2 666.8h0M174.3 673.7h0M151.8 685.5h0M163.0 641.2h0M171.0 663.1h0M178.1 657.1h0M164.1 654.3h0M155.9 681.3h0M152.7 657.4h0M175.7 659.3h0M153.6 658.1h0M203.3 639.7h0M193.9 658.4h0M182.5 666.0h0M197.8 659.8h0M174.0 657.7h0M193.5 645.0h0M158.8 644.1h0M189.1 640.4h0M156.8 652.1h0M153.8 668.7h0M176.7 640.0h0M170.8 642.7h0M155.0 680.0h0M152.7 666.7h0M162.7 652.7h0M155.2 669.6h0M168.6 677.7h0M175.9 669.4h0M174.1 678.7h0M170.2 678.6h0M183.3 644.0h0M169.7 655.9h0M164.1 645.6h0M207.2 660.3h0M166.6 658.9h0M183.3 643.9h0M174.3 652.6h0M203.9 655.1h0M171.5 647.7h0M176.7 662.4h0M152.0 670.7h0M156.6 652.0h0M209.1 648.1h0M174.7 647.5h0M156.1 647.0h0M160.7 637.5h0M163.2 690.6h0M149.4 668.3h0M165.7 672.9h0M173.4 658.6h0M153.9 661.2h0M176.8 638.3h0M154.8 653.7h0M193.5 675.5h0M169.6 654.5h0M178.5 660.2h0M192.7 645.3h0M149.7 663.4h0M158.0 665.7h0M198.4 661.2h0M161.1 656.6h0M199.5 619.4h0M148.9 665.8h0M150.2 671.4h0M211.8 654.0h0M158.7 649.6h0M240.0 598.7h0M171.9 657.1h0M170.6 685.4h0M165.6 648.0h0M160.3 672.9h0M159.5 679.4h0M170.8 679.8h0M152.4 664.3h0M215.7 645.7h0M182.0 634.4h0M152.4 686.0h0M151.7 673.6h0M221.5 612.1h0M151.7 669.2h0M180.4 657.7h0M154.1 679.4h0M148.3 670.6h0M159.5 662.2h0M152.6 654.5h0M157.0 658.5h0M147.4 674.6h0M199.9 630.2h0M156.5 677.1h0M153.3 653.0h0M171.4 690.3h0M174.5 637.9h0M154.6 673.9h0M163.2 678.5h0M159.4 677.7h0M150.1 664.9h0M183.6 650.5h0M168.7 665.4h0M155.7 659.1h0M153.8 651.7h0M163.1 662.1h0M160.7 654.3h0M157.8 652.8h0M147.7 665.1h0M172.6 664.9h0M193.0 639.8h0M148.6 676.0h0M181.6 641.9h0M193.6 660.3h0M149.1 660.1h0M210.3 662.9h0M158.6 666.7h0M178.9 619.8h0M176.9 656.2h0M149.3 659.5h0M149.9 677.3h0M161.7 652.8h0M147.4 663.4h0M168.5 670.3h0M160.9 686.5h0M194.4 652.5h0M171.8 641.2h0M169.9 680.5h0M219.9 641.1h0M212.7 631.1h0M159.6 667.0h0M238.2 632.6h0M179.1 655.1h0M163.5 657.9h0M147.2 653.7h0M147.9 673.4h0M164.6 660.3h0M165.9 666.3h0M163.8 666.0h0M161.6 673.9h0M153.9 650.0h0M177.5 648.8h0M154.0 664.9h0M157.0 667.7h0M147.3 670.6h0M173.0 671.1h0M199.8 652.4h0M146.7 654.0h0M169.4 649.6h0M150.8 670.3h0M171.4 669.0h0M155.9 652.8h0M163.8 654.5h0M184.5 660.3h0M179.1 658.2h0M180.9 662.4h0M159.6 673.7h0M162.2 654.3h0M182.0 651.6h0M208.1 632.9h0M144.9 663.4h0M154.7 663.9h0M198.9 647.8h0M174.7 656.6h0M148.1 644.9h0M189.9 632.8h0M192.1 638.7h0M199.0 636.0h0M181.2 649.6h0M157.9 684.8h0M188.1 671.0h0M150.2 660.8h0M171.4 666.6h0M179.3 655.6h0M166.3 651.3h0M160.3 658.5h0M167.3 675.1h0M164.0 647.0h0M160.1 663.1h0M153.6 682.1h0M178.0 675.7h0M191.2 664.2h0M147.4 655.2h0M172.9 655.3h0M175.8 656.7h0M161.8 658.0h0M196.2 636.1h0M185.6 657.8h0M217.3 652.2h0M145.9 656.7h0M274.9 624.8h0M147.3 666.3h0M173.9 644.1h0M169.5 690.4h0M205.7 648.7h0M153.3 671.4h0M150.4 650.0h0M146.5 656.9h0M158.1 675.1h0M158.8 676.6h0M201.3 633.5h0M160.0 671.4h0M204.2 655.9h0M151.8 658.3h0M164.9 660.2h0M161.4 667.6h0M211.9 678.2h0M175.9 657.8h0M199.9 666.0h0M167.9 649.2h0M153.4 643.5h0M201.1 656.7h0M150.0 657.4h0M151.7 666.1h0M189.4 649.8h0M200.5 641.4h0M156.1 676.5h0M160.3 672.9h0M163.7 684.7h0M145.9 677.3h0M148.2 673.1h0M176.2 670.8h0M157.9 678.7h0M162.0 690.5h0M156.5 676.4h0M157.2 664.8h0M240.7 640.2h0M153.2 669.0h0M156.9 653.1h0M164.0 671.9h0M153.0 674.8h0M321.2 598.3h0M153.4 671.5h0M156.4 656.2h0M223.9 665.0h0M203.1 670.5h0M160.5 646.9h0M161.5 649.9h0M167.6 653.4h0M181.0 653.9h0M163.7 657.7h0M150.1 664.6h0M165.3 648.8h0M163.5 656.4h0M155.7 678.6h0M155.6 673.3h0M151.0 676.2h0M180.9 649.2h0M164.8 666.1h0M173.5 664.5h0M184.6 652.1h0M213.3 660.5h0M146.2 660.8h0M175.5 660.6h0M178.4 627.8h0M148.4 672.2h0M152.3 663.3h0M159.6 669.7h0M158.0 669.5h0M155.0 674.8h0M199.1 656.0h0M230.4 637.5h0M158.0 659.6h0M197.4 660.6h0M159.8 667.7h0M165.9 651.8h0M187.6 626.4h0M159.4 662.9h0M159.9 673.3h0M159.6 653.5h0M172.1 650.7h0M146.7 666.2h0M205.0 650.6h0M167.2 652.1h0M147.6 673.7h0M202.5 644.3h0M178.0 633.1h0M180.0 662.0h0M195.9 647.1h0M190.2 680.1h0M172.0 650.3h0M177.7 631.2h0M157.1 669.1h0M186.1 678.4h0M172.5 661.8h0M149.6 663.2h0M166.2 646.5h0M159.3 654.3h0M167.9 633.1h0M186.8 665.6h0M154.3 664.2h0M154.8 666.0h0M162.5 651.7h0M160.3 662.2h0M164.1 675.7h0M155.0 688.0h0M153.3 657.4h0M188.5 628.2h0M171.4 640.2h0M173.6 672.2h0M156.0 667.8h0M160.6 641.4h0M171.7 654.4h0M191.1 667.0h0M152.4 664.3h0M150.1 663.9h0M148.5 655.3h0M179.2 667.4h0M162.7 659.5h0M157.6 657.6h0M198.2 642.2h0M196.2 656.9h0M213.0 654.4h0M190.3 634.8h0M170.3 643.9h0M176.3 647.0h0M174.1 647.1h0M148.7 681.9h0M154.2 649.7h0M171.6 667.0h0M147.0 673.2h0M157.5 673.8h0M164.8 684.4h0M159.2 654.4h0M158.6 661.8h0M168.2 672.1h0M172.2 653.7h0M171.0 644.0h0M151.4 671.7h0M152.5 648.7h0M153.3 658.2h0M154.4 656.2h0M162.8 666.2h0M147.2 664.9h0M157.3 684.6h0M156.7 657.8h0M151.4 654.8h0M152.3 681.0h0M188.1 650.1h0M159.9 656.2h0M162.6 655.0h0M228.0 647.9h0M188.4 678.2h0M179.3 659.5h0M178.5 674.5h0M168.9 674.2h0M161.5 665.1h0M160.0 670.1h0M154.2 675.3h0M169.8 669.3h0M158.1 662.9h0M154.9 652.0h0M145.0 661.6h0M153.1 654.4h0M159.0 666.8h0M161.6 680.2h0M225.9 643.7h0M202.8 667.8h0M179.1 656.7h0M155.4 657.2h0M158.1 655.9h0M170.6 644.7h0M182.7 660.0h0M155.1 645.2h0M152.8 673.5h0M216.0 655.6h0M168.5 644.5h0M274.2 622.2h0M160.4 654.8h0M147.9 670.0h0M180.8 670.1h0M172.0 663.9h0M170.3 666.7h0M158.7 678.3h0M153.8 666.7h0M149.9 664.4h0M177.8 645.6h0M149.4 667.2h0M154.9 662.2h0M160.0 665.0h0M210.6 638.8h0M149.9 674.2h0M200.4 653.7h0M178.5 655.4h0M185.3 654.6h0M150.7 664.2h0M184.0 647.9h0M188.0 658.3h0M191.7 654.4h0M178.4 668.0h0M155.9 678.2h0M154.2 656.0h0M176.4 674.0h0M146.3 674.6h0M252.1 666.9h0M156.2 669.0h0M172.4 652.1h0M159.9 654.2h0M200.2 657.7h0M168.8 652.1h0M156.2 659.6h0M166.7 640.8h0M163.7 664.9h0M160.0 662.6h0M170.6 673.1h0M147.2 669.0h0M190.1 642.5h0M203.8 643.8h0M177.5 646.7h0M151.3 657.0h0M154.8 652.3h0M147.8 671.6h0M190.9 639.7h0M168.4 661.9h0M174.3 643.7h0M191.6 654.6h0M174.1 643.8h0M169.0 655.8h0M163.4 654.5h0M172.3 661.9h0M148.6 663.5h0M148.3 652.7h0M191.3 650.4h0M203.3 655.3h0M146.8 655.8h0M156.9 673.9h0M151.7 664.5h0M151.1 650.9h0M187.9 660.5h0M179.6 658.0h0M148.5 670.9h0M149.8 671.4h0M169.6 670.8h0M164.9 649.8h0M165.4 661.0h0M210.0 663.5h0M176.8 653.2h0M172.1 682.8h0M165.6 655.8h0M171.6 668.3h0M158.9 671.2h0M222.4 648.6h0M177.7 671.9h0M154.1 665.9h0M152.4 668.3h0M166.6 669.4h0M196.4 637.0h0M170.9 670.7h0M154.6 662.9h0M206.1 656.5h0M163.3 663.8h0M185.6 675.3h0M190.7 632.3h0M183.6 652.9h0M166.2 666.4h0M154.6 665.4h0M146.7 678.1h0M172.1 669.9h0M164.8 660.3h0M239.5 634.1h0M161.4 675.9h0M154.4 655.3h0M175.4 657.7h0M167.0 660.9h0M251.9 621.9h0M171.9 663.5h0M222.9 634.9h0M163.4 676.1h0M168.7 675.3h0M159.3 675.8h0M167.0 665.0h0M147.6 658.2h0M153.4 687.6h0M160.8 653.3h0M168.5 654.7h0M151.9 658.0h0M149.7 670.4h0M215.9 624.4h0M173.9 661.3h0M178.3 656.8h0M155.9 675.3h0M178.2 644.3h0M180.5 676.7h0M171.6 673.8h0M158.8 674.6h0M150.3 672.6h0M223.5 656.0h0M208.6 641.3h0M155.7 664.9h0M212.6 664.9h0M164.3 649.5h0M163.8 676.8h0M162.9 646.4h0M164.7 656.9h0M163.6 661.0h0M185.2 654.7h0M165.9 658.5h0M158.5 675.0h0M160.1 671.6h0M198.6 646.9h0M154.0 665.8h0M220.0 637.5h0M158.6 672.7h0M160.9 653.1h0M172.3 665.4h0M226.6 643.7h0M163.2 650.8h0M168.6 656.5h0M148.9 661.7h0M188.9 650.0h0M163.3 646.9h0M165.6 683.7h0M169.8 654.8h0M153.5 663.3h0M157.7 659.1h0M184.0 636.9h0M164.5 657.5h0M165.0 652.8h0M170.5 662.6h0M164.7 671.1h0M157.9 660.3h0M167.9 653.0h0M185.3 644.8h0M166.7 646.4h0M178.4 650.0h0M145.8 672.3h0M148.9 668.8h0M169.8 671.0h0M168.9 655.8h0M163.8 663.7h0M164.4 670.2h0M208.3 664.6h0M155.3 675.9h0M187.4 654.9h0M148.8 666.8h0M161.0 674.6h0M198.8 647.4h0M191.9 653.7h0M156.1 682.8h0M187.2 667.4h0M157.2 650.9h0M206.9 634.3h0M170.8 657.8h0M173.1 657.8h0M188.9 662.0h0M147.7 663.9h0M225.6 637.2h0M152.1 662.6h0M164.2 644.8h0M188.0 632.7h0M165.2 683.4h0M168.9 654.0h0M153.7 675.3h0M160.1 663.5h0M177.8 647.2h0M158.8 663.2h0M170.1 658.1h0M160.1 647.3h0M154.9 676.9h0M158.8 656.8h0M181.7 655.9h0M168.9 649.3h0M162.0 653.8h0M168.0 668.3h0M152.6 664.3h0M197.6 644.2h0M224.1 655.0h0M174.5 663.4h0M161.9 677.3h0M276.7 628.6h0M154.0 662.5h0M159.3 663.9h0M154.8 661.1h0M194.4 648.4h0M178.3 670.9h0M163.2 652.7h0M161.6 664.5h0M176.8 654.4h0M146.7 667.1h0M205.4 647.2h0M183.2 651.8h0M151.0 663.6h0M163.7 671.0h0M236.7 623.8h0M211.0 664.0h0M153.2 679.6h0M172.9 664.7h0M178.0 647.2h0M165.3 666.6h0M161.4 658.1h0M174.9 638.5h0M151.8 671.4h0M167.2 659.6h0M152.6 663.6h0M148.2 660.5h0M153.3 650.6h0M185.4 639.9h0M159.3 651.8h0M163.8 660.4h0M160.4 659.9h0M148.7 668.4h0M167.4 664.0h0M186.6 654.3h0M222.1 614.5h0M151.1 671.8h0M171.9 633.6h0M154.6 676.0h0M191.7 636.8h0M164.7 665.6h0M172.2 688.0h0M151.8 667.7h0M174.8 692.3h0M155.1 659.4h0M192.6 661.7h0M156.7 643.9h0M180.4 645.0h0M173.0 644.1h0M157.1 675.1h0M221.1 645.2h0M239.9 637.5h0M192.5 633.8h0M230.6 667.5h0M157.8 652.1h0M208.0 662.0h0M161.8 651.1h0M186.2 662.1h0M153.1 659.8h0M164.6 662.1h0M152.1 667.8h0M148.9 667.4h0M147.8 662.9h0M182.6 661.0h0M159.6 646.2h0M199.3 677.8h0M153.3 665.1h0M182.6 659.3h0M163.0 658.7h0M193.1 647.2h0M174.0 656.5h0M156.6 648.8h0M209.4 653.4h0M150.6 661.6h0M158.0 657.0h0M190.4 648.3h0M167.0 657.0h0M160.9 660.7h0M155.3 671.8h0M191.1 660.8h0M170.5 660.8h0M154.9 652.3h0M178.7 656.3h0M173.1 663.1h0M161.3 681.2h0M151.4 670.2h0M156.8 676.7h0M160.6 674.5h0M189.5 667.6h0M261.0 622.5h0M163.5 675.4h0M159.7 681.4h0M178.3 664.4h0M168.1 668.6h0M173.2 650.2h0M167.5 661.9h0M171.0 667.1h0M168.9 678.3h0M147.3 661.7h0M156.8 634.7h0M151.3 664.5h0M154.9 664.8h0M175.0 660.1h0M148.7 650.1h0M152.3 657.3h0M153.8 656.9h0M150.3 670.6h0M146.9 679.3h0M176.1 670.9h0M149.4 677.3h0M146.9 669.8h0M172.6 671.5h0M149.8 646.1h0M155.2 661.1h0M151.0 664.2h0M172.5 646.5h0M190.7 625.4h0M151.0 655.3h0M154.2 662.5h0M157.5 671.6h0M145.3 675.6h0M167.5 667.2h0M188.8 625.6h0M156.2 643.0h0M200.4 645.3h0M165.3 656.5h0M169.5 658.9h0M163.6 660.2h0M167.5 656.8h0M152.9 651.3h0M160.0 664.1h0M152.2 672.9h0M146.9 671.5h0M168.7 668.5h0M164.6 677.6h0M188.2 661.4h0M173.8 660.8h0M193.1 659.9h0M161.2 659.0h0M149.3 652.0h0M159.5 654.8h0M178.8 631.9h0M151.2 654.6h0M148.3 667.7h0M170.8 669.1h0M185.7 642.3h0M154.3 678.9h0M159.3 649.3h0M172.7 641.8h0M151.6 676.3h0M181.9 669.9h0M149.6 674.0h0M158.3 656.7h0M174.5 628.8h0M177.7 651.0h0M184.1 641.7h0M162.2 669.1h0M164.9 674.6h0M210.3 642.5h0M176.0 638.1h0M168.9 667.3h0M177.6 646.1h0M153.0 673.7h0M156.2 677.1h0M163.9 657.0h0M158.5 668.1h0M157.0 668.2h0M160.8 665.5h0M157.1 658.6h0M149.2 651.2h0M156.9 670.9h0M152.9 663.0h0M146.9 672.2h0M212.0 656.6h0M148.0 660.8h0M165.7 664.4h0M170.0 646.5h0M159.6 664.6h0M154.5 654.1h0M173.3 675.0h0M179.7 647.7h0M149.1 666.4h0M179.8 642.5h0M149.1 673.5h0M146.8 673.9h0M201.9 680.3h0M180.0 647.3h0M160.2 656.4h0M206.8 639.2h0M230.1 629.4h0M146.4 677.3h0M147.2 673.7h0M157.5 658.7h0M163.0 674.2h0M162.8 660.8h0M161.3 664.5h0M147.8 666.6h0M151.0 661.2h0M160.7 665.0h0M158.0 647.9h0M188.0 659.0h0M164.2 666.6h0M192.7 661.7h0M158.7 653.2h0M152.6 652.4h0M189.9 635.7h0M152.9 682.5h0M165.9 667.2h0M239.4 637.4h0M192.0 639.8h0M161.3 665.7h0M187.2 672.6h0M158.9 652.9h0M155.5 669.2h0M163.1 677.8h0M173.1 662.7h0M155.7 654.3h0M148.8 674.6h0M172.3 646.1h0M162.2 665.2h0M171.9 658.1h0M168.6 669.6h0M158.9 660.6h0M177.9 664.7h0M172.0 656.7h0M151.3 672.1h0M147.5 671.3h0M157.2 654.5h0M163.2 654.9h0M195.2 642.5h0M149.3 660.8h0M151.9 671.2h0M169.1 658.1h0M156.5 678.4h0M157.0 681.7h0M153.1 667.5h0M186.4 668.9h0M152.7 668.3h0M152.8 684.8h0M173.4 649.1h0M157.1 647.1h0M199.9 650.2h0M146.7 669.1h0M187.6 640.5h0M158.6 667.8h0M174.8 653.2h0M178.2 669.3h0M169.6 654.2h0M155.0 678.9h0M195.8 672.3h0M159.6 659.2h0M150.0 666.1h0M155.1 664.5h0M156.2 679.8h0M261.7 591.6h0M202.6 645.1h0M189.9 666.8h0M164.1 671.6h0M177.6 650.5h0M183.1 660.9h0M203.2 632.5h0M152.3 670.5h0M162.5 668.3h0M160.8 671.0h0M167.0 653.0h0M183.0 644.4h0M172.6 660.3h0M170.0 643.2h0M221.2 650.3h0M170.5 659.2h0M167.5 666.0h0M156.7 644.7h0M164.4 659.6h0M192.7 643.8h0M143.2 658.2h0M162.2 672.0h0M169.3 633.6h0M184.7 668.0h0M184.0 646.6h0M174.5 638.4h0M159.7 640.9h0M177.1 662.7h0M177.7 666.6h0M162.2 670.2h0M174.5 681.2h0M166.1 682.0h0M174.3 638.2h0M179.7 664.5h0M157.4 655.9h0M159.0 686.3h0M214.5 642.4h0M206.0 655.8h0M213.9 631.1h0M155.2 670.8h0M164.8 656.2h0M189.3 622.6h0M150.6 650.0h0M192.0 639.7h0M165.4 652.5h0M179.3 659.0h0M177.2 673.9h0M185.9 641.5h0M158.8 670.1h0M167.3 673.1h0M154.7 649.8h0M148.1 670.0h0M148.2 662.9h0M147.1 659.9h0M163.3 678.5h0M177.4 635.1h0M182.2 659.3h0M176.7 667.1h0M191.2 636.5h0M156.5 648.2h0M172.8 686.8h0M159.3 663.1h0M147.4 674.7h0M149.6 646.0h0M169.3 646.3h0M159.6 654.7h0M198.5 674.4h0M167.7 684.4h0M175.6 643.5h0M151.5 651.7h0M185.2 651.5h0M159.5 668.4h0M269.6 614.8h0M151.5 674.9h0M195.6 664.4h0M190.7 636.2h0M156.1 660.2h0M201.2 636.9h0M150.8 661.2h0M181.6 644.0h0M161.4 660.3h0M150.2 669.7h0M199.2 630.9h0M250.8 631.9h0M148.0 677.8h0M153.1 655.1h0M164.7 654.5h0M158.5 654.0h0M145.3 672.3h0M172.7 655.3h0M178.4 675.4h0M159.2 664.2h0M156.8 663.9h0M189.2 642.4h0M154.8 670.5h0M148.1 665.3h0M164.6 672.8h0M205.0 671.2h0M151.8 685.8h0M164.4 657.9h0M155.0 681.0h0M175.5 658.4h0M164.7 660.3h0M164.9 658.7h0M186.7 666.4h0M167.8 665.9h0M157.4 662.0h0M148.3 673.3h0M187.0 654.2h0M202.7 675.8h0M178.8 656.9h0M157.5 654.0h0M182.7 631.6h0M162.6 672.5h0M160.6 671.9h0M173.6 662.7h0M192.5 662.6h0M304.3 626.7h0M168.9 651.7h0M149.3 667.2h0M188.8 644.0h0M144.6 657.5h0M174.0 658.6h0M145.5 665.1h0M182.7 649.1h0M185.3 653.0h0M157.5 656.8h0M162.7 660.5h0M167.1 680.4h0M203.2 618.7h0M174.4 668.2h0M166.6 657.9h0M164.4 656.5h0M226.3 647.2h0M251.0 630.5h0M149.5 675.1h0M154.1 664.5h0M176.7 655.8h0M180.4 667.7h0M173.7 652.0h0M149.2 666.9h0M169.7 653.7h0M160.5 651.1h0M169.1 655.0h0M171.1 665.0h0M192.7 648.9h0M153.7 663.4h0M181.3 636.4h0M170.3 680.4h0M150.4 663.8h0M152.9 665.8h0M153.5 676.2h0M194.1 637.4h0M155.0 661.9h0M151.0 684.3h0M156.5 663.8h0M155.5 636.6h0M190.5 646.2h0M161.0 666.5h0M172.7 639.8h0M196.3 656.5h0M150.8 666.6h0M176.2 655.7h0M231.7 622.2h0M166.6 665.9h0M150.0 668.2h0M182.9 636.4h0M147.9 680.1h0M176.1 665.5h0M161.3 671.2h0M177.8 661.9h0M208.5 634.0h0M203.2 635.3h0M225.8 621.4h0M176.7 648.0h0M155.0 679.4h0M152.6 672.6h0M157.5 671.5h0M169.1 670.0h0M301.4 610.3h0M156.2 643.9h0M216.2 635.8h0M157.6 668.2h0M197.8 635.3h0M156.7 677.2h0M172.0 665.3h0M189.6 660.8h0M182.1 662.4h0M163.6 664.8h0M166.9 644.9h0M169.2 664.3h0M213.8 645.3h0M168.3 678.1h0M180.5 669.6h0M164.8 649.9h0M146.3 663.5h0M163.9 671.6h0M165.7 661.3h0M146.5 659.6h0M173.6 678.8h0M153.5 663.3h0M158.1 651.9h0M154.3 648.3h0M194.9 633.3h0M168.1 668.2h0M155.2 672.7h0M160.0 662.4h0M158.1 680.9h0M252.0 643.4h0M159.8 658.6h0M192.1 669.0h0M162.8 644.5h0M147.0 662.1h0M209.4 623.4h0M176.1 662.0h0M167.1 672.3h0M159.2 660.8h0M215.9 672.0h0M210.4 648.7h0M151.8 656.8h0M180.2 658.7h0M203.3 654.9h0M154.6 663.2h0M175.4 646.4h0M155.3 681.8h0M175.7 626.5h0M183.0 654.0h0M164.8 659.4h0M148.3 656.5h0M172.1 649.7h0M154.6 673.6h0M152.6 677.4h0M195.1 656.6h0M156.5 664.4h0M149.3 659.1h0M168.6 658.9h0M149.4 653.3h0M158.2 658.6h0M154.9 668.2h0M165.2 662.7h0M185.7 662.7h0M267.6 639.8h0M158.4 671.6h0M190.1 668.0h0M182.8 663.4h0M153.2 670.1h0M191.9 635.3h0M210.3 644.8h0M156.6 643.8h0M154.4 641.9h0M162.5 661.0h0M225.8 663.4h0M161.1 658.2h0M154.8 664.1h0M252.6 630.7h0M185.2 650.8h0M206.9 655.1h0M156.8 664.6h0M186.1 644.4h0M328.9 567.4h0M255.0 631.7h0M155.4 666.6h0M155.4 649.4h0M149.2 675.1h0M148.4 680.0h0M172.2 656.0h0M145.6 675.2h0M218.0 651.7h0M162.7 684.2h0M178.5 659.3h0M161.7 651.8h0M160.3 646.7h0M152.3 661.3h0M158.6 667.1h0M176.2 652.8h0M208.2 648.9h0M153.1 662.9h0M152.5 680.0h0M150.9 656.0h0M189.8 652.6h0M156.6 676.6h0M153.8 660.7h0M242.9 606.2h0M166.5 657.4h0M233.1 626.8h0M168.9 657.2h0M197.0 639.5h0M187.7 643.4h0M161.6 660.8h0M155.8 656.0h0M149.3 667.1h0M176.8 665.5h0M151.8 681.9h0M171.1 650.6h0M155.5 673.7h0M204.3 659.4h0M146.2 664.3h0M161.0 647.1h0M163.4 650.6h0M181.8 648.8h0M157.3 650.2h0M175.0 682.6h0M158.4 670.2h0M153.2 651.7h0M156.6 666.9h0M152.3 657.2h0M181.3 658.9h0M166.1 674.4h0M197.7 642.2h0M155.7 673.0h0M163.4 668.5h0M165.3 651.1h0M166.3 663.8h0M163.6 679.9h0M183.3 644.8h0M160.0 648.7h0M210.1 670.3h0M171.7 650.6h0M176.0 667.7h0M165.5 672.1h0M166.5 634.9h0M149.0 662.7h0M160.2 655.1h0M157.2 670.4h0M166.0 675.8h0M156.1 663.6h0M185.4 660.9h0M185.4 658.1h0M155.1 657.4h0M152.0 670.6h0M154.9 674.1h0M208.8 611.0h0M148.4 672.1h0M160.5 656.2h0M167.1 666.7h0M147.7 648.7h0M158.5 675.3h0M167.0 653.5h0M153.6 666.7h0M153.3 665.2h0M159.8 674.9h0M147.0 664.9h0M209.1 651.6h0M179.5 646.2h0M153.7 673.0h0M149.7 679.2h0M158.8 666.2h0M147.3 655.4h0M147.0 668.8h0M147.9 676.0h0M194.7 659.2h0M164.6 670.1h0M175.4 635.8h0M163.1 654.2h0M146.5 664.5h0M181.3 668.4h0M217.5 651.5h0M190.8 640.5h0M153.9 679.9h0M206.3 635.4h0M191.2 656.8h0M145.6 666.2h0M190.6 642.5h0M198.7 652.0h0M151.4 676.9h0M176.0 632.9h0M158.7 645.1h0M148.4 670.5h0M184.9 661.2h0M189.5 635.9h0M153.0 679.7h0M200.0 639.4h0M169.0 651.1h0M149.8 662.2h0M146.9 665.1h0M157.7 667.4h0M181.7 630.5h0M149.8 663.3h0M177.0 649.9h0M163.6 674.1h0M170.3 653.2h0M148.9 656.6h0M213.5 645.3h0M148.0 677.9h0M146.3 660.3h0M171.4 661.5h0M209.7 650.7h0M154.4 679.2h0M196.2 645.4h0M147.4 674.4h0M175.0 641.2h0M201.0 644.9h0M187.6 660.4h0M193.9 651.2h0M226.7 648.1h0M146.8 672.4h0M179.2 646.0h0M147.2 668.1h0M156.1 665.6h0M206.0 636.7h0M148.9 652.0h0M159.7 664.1h0M155.5 669.2h0M179.9 669.4h0M212.2 639.0h0M198.8 643.3h0M152.4 667.4h0M159.9 675.7h0M149.4 673.9h0M179.8 641.3h0M156.0 683.9h0M156.0 652.4h0M166.6 654.6h0M191.2 662.7h0M170.9 652.1h0M156.1 641.0h0M151.2 652.0h0M175.8 649.2h0M170.0 673.5h0M169.0 637.1h0M244.6 627.8h0M153.1 658.3h0M183.0 651.5h0M172.6 659.9h0M227.3 644.6h0M188.8 652.4h0M158.3 677.9h0M152.6 666.8h0M176.7 666.6h0M183.4 641.4h0M161.4 650.1h0M165.7 645.7h0M184.2 629.4h0M151.5 660.5h0M190.1 621.3h0M157.4 647.2h0M159.1 669.2h0M153.7 662.1h0M209.8 667.6h0M156.5 685.1h0M150.2 662.6h0M154.1 661.4h0M186.9 664.4h0M165.3 675.5h0M183.7 666.3h0M175.6 652.8h0M159.2 660.0h0M155.6 663.8h0M148.8 676.1h0M156.8 654.1h0M170.8 642.9h0M163.9 677.2h0M156.6 660.1h0M164.2 658.9h0M194.9 656.1h0M149.0 666.9h0M176.3 664.8h0M170.0 667.0h0M149.5 669.4h0M197.1 657.2h0M164.2 669.7h0M174.4 670.2h0M169.0 665.2h0M150.1 666.9h0M150.4 681.5h0M207.3 634.6h0M155.4 646.3h0M165.8 674.8h0M196.5 688.2h0M174.0 669.9h0M182.4 666.5h0M152.0 667.2h0M161.6 658.6h0M151.6 652.0h0M156.9 668.0h0M163.7 670.3h0M158.9 642.3h0M187.9 642.9h0M187.0 655.9h0M204.8 643.1h0M148.8 673.5h0M177.1 647.9h0M177.5 654.1h0M170.0 672.0h0M174.4 674.7h0M158.0 656.3h0M171.9 659.8h0M159.5 668.6h0M181.9 669.1h0M151.2 670.1h0M163.2 656.8h0M160.3 683.1h0M193.0 615.3h0M160.9 673.7h0M151.1 646.2h0M178.4 655.3h0M148.7 650.3h0M157.5 667.8h0M200.3 665.5h0M164.2 665.6h0M152.9 670.9h0M155.6 664.2h0M163.0 650.2h0M163.8 674.4h0M153.5 659.3h0M222.7 623.6h0M147.4 665.9h0M156.4 672.0h0M177.2 640.5h0M170.5 645.0h0M158.7 652.9h0M193.5 646.9h0M170.7 639.5h0M195.9 668.9h0M183.7 645.1h0M173.1 639.7h0M176.8 641.1h0M181.6 674.5h0M161.7 654.5h0M201.6 619.0h0M171.6 665.5h0M155.1 684.8h0M162.2 674.1h0M259.9 612.9h0M169.6 643.9h0M212.6 663.6h0M152.2 655.6h0M157.6 672.2h0M159.8 677.8h0M204.3 651.8h0M184.3 657.2h0M148.2 672.0h0M161.1 647.6h0M173.8 632.3h0M185.7 655.5h0M155.1 668.1h0M165.6 682.5h0M173.4 649.3h0M213.9 652.1h0M153.3 669.6h0M149.1 657.9h0M179.3 673.5h0M155.7 667.2h0M188.0 679.8h0M154.9 662.3h0M148.6 659.5h0M184.4 658.0h0M151.0 670.0h0M215.3 659.4h0M189.0 667.6h0M169.8 632.9h0M186.2 673.7h0M268.0 630.2h0M174.9 682.6h0M159.7 657.3h0M285.3 638.1h0M181.0 638.4h0M176.4 648.9h0M154.9 648.5h0M273.9 616.6h0M168.0 661.8h0M159.0 671.1h0M171.6 652.0h0M154.8 672.8h0M153.1 647.2h0M191.7 665.1h0M159.0 656.8h0M155.6 665.6h0M160.3 666.6h0M154.6 669.4h0M152.1 654.7h0M154.2 656.4h0M242.7 631.9h0M172.5 659.9h0M153.4 674.6h0M146.4 676.7h0M152.0 667.6h0M153.3 672.8h0M157.3 668.3h0M191.0 627.6h0M150.7 658.5h0M173.6 659.5h0M159.6 651.8h0M191.1 658.6h0M184.0 649.7h0M153.1 671.8h0M164.8 680.1h0M148.2 669.4h0M147.3 663.6h0M294.4 583.0h0M150.8 671.6h0M178.6 647.9h0M159.8 669.4h0M187.4 641.8h0M147.1 673.7h0M215.1 623.2h0M273.1 630.3h0M153.9 659.4h0M152.7 672.0h0M183.5 665.8h0M150.7 677.8h0M149.9 679.5h0M148.7 649.0h0M163.4 669.5h0M160.7 660.3h0M163.8 648.2h0M243.4 655.3h0M171.6 658.2h0M159.3 663.2h0M150.1 668.2h0M151.8 665.4h0M181.7 647.6h0M149.4 654.4h0M166.2 666.7h0M170.2 661.0h0M194.3 641.3h0M166.4 665.2h0M167.7 667.3h0M151.7 655.7h0M159.1 650.1h0M175.7 655.2h0M159.2 660.5h0M195.5 650.8h0M162.6 653.7h0M156.5 672.3h0M157.3 668.2h0M147.6 659.5h0M180.0 655.7h0M167.0 678.4h0M180.4 649.6h0M175.6 643.6h0M191.1 648.1h0M157.5 659.7h0M164.4 653.3h0M171.6 665.9h0M184.3 643.3h0M148.8 679.6h0M170.3 668.7h0M169.4 661.6h0M215.6 636.4h0M149.7 657.2h0M162.6 681.8h0M170.4 668.6h0M174.4 669.6h0M160.1 642.4h0M154.0 668.8h0M159.5 660.6h0M155.3 657.2h0M147.6 664.5h0M143.8 655.9h0M159.8 676.9h0M153.4 657.3h0M163.9 646.5h0M173.6 646.9h0M158.0 659.7h0M177.1 680.3h0M182.7 634.6h0M185.5 632.1h0M146.9 664.0h0M181.0 680.8h0M176.0 658.5h0M162.1 678.6h0M152.9 666.6h0M173.5 660.9h0M149.5 652.7h0M160.2 678.3h0M157.1 663.1h0M148.9 677.8h0M162.4 671.5h0M149.7 664.2h0M157.0 641.2h0M189.1 656.5h0M179.0 638.3h0M149.4 669.1h0M186.7 669.4h0M150.4 674.8h0M160.5 676.1h0M157.8 649.7h0M146.5 666.0h0M177.9 651.7h0M150.5 652.2h0M169.8 647.9h0M174.6 640.9h0M209.9 655.6h0M147.7 674.6h0M151.4 676.4h0M173.0 662.8h0M157.7 663.9h0M224.5 683.1h0M204.9 632.5h0M211.9 642.8h0M188.0 644.7h0M150.0 669.5h0M213.1 628.8h0M152.7 658.6h0M149.3 652.8h0M164.6 665.7h0M162.7 661.4h0M209.1 656.6h0M164.1 662.7h0M192.2 644.8h0M158.7 653.3h0M155.3 664.4h0M178.4 676.6h0M216.5 641.7h0M161.2 672.0h0M154.6 667.9h0M231.2 629.0h0M191.2 644.5h0M187.2 648.6h0M291.9 590.6h0M288.5 612.9h0M176.9 644.8h0M173.5 679.3h0M152.8 649.2h0M164.3 651.1h0M160.9 685.6h0M172.7 648.0h0M161.6 662.7h0M162.2 654.7h0M171.7 674.0h0M151.9 678.3h0M147.0 660.8h0M179.4 663.0h0M153.5 679.3h0M220.1 635.9h0M169.5 665.9h0M157.9 681.4h0M176.0 654.9h0M254.1 629.7h0M157.0 655.2h0M151.7 670.9h0M166.3 658.1h0M150.1 669.2h0M146.5 673.7h0M149.6 667.9h0M178.6 647.8h0M218.9 636.5h0M197.3 656.9h0M164.1 666.0h0M223.5 644.8h0M177.7 662.0h0M175.5 651.6h0M151.9 670.6h0M153.4 674.2h0M148.3 659.9h0M162.0 649.9h0M189.5 665.0h0M167.8 657.5h0M159.3 671.1h0M166.7 651.3h0M185.3 676.9h0M196.7 673.9h0M147.4 656.6h0M206.7 630.4h0M162.6 651.2h0M162.9 672.9h0M159.3 666.2h0M175.0 652.9h0M146.5 683.2h0M185.1 661.1h0M149.0 679.8h0M205.7 658.2h0M155.9 656.9h0M161.5 677.7h0M195.9 641.9h0M179.5 654.6h0M193.8 656.4h0M181.8 658.7h0M148.7 661.2h0M171.3 650.7h0M167.6 665.9h0M164.7 658.4h0M215.3 668.1h0M159.0 667.4h0M196.7 675.6h0M163.4 664.2h0M155.6 669.8h0M172.6 658.4h0M154.7 673.1h0M190.9 665.3h0M166.7 675.2h0M168.4 657.7h0M151.1 675.1h0M187.8 648.4h0M151.0 656.3h0M190.5 627.9h0M176.2 655.7h0M155.8 661.6h0M163.0 665.7h0M168.9 654.9h0M164.4 651.0h0M162.2 659.1h0M160.6 658.8h0M160.8 671.9h0M145.6 671.7h0M157.9 649.4h0M162.9 663.5h0M162.0 669.8h0M155.7 659.3h0M152.9 671.4h0M215.3 641.6h0M220.2 653.2h0M149.1 667.3h0M150.6 668.0h0M148.8 673.1h0M178.7 661.4h0M171.6 680.6h0M149.4 670.5h0M166.6 673.5h0M148.0 672.4h0M160.9 682.3h0M205.3 643.2h0M150.9 675.4h0M178.6 659.0h0M166.5 677.6h0M158.5 667.1h0M151.2 657.4h0M172.2 663.3h0M150.1 676.8h0M170.4 674.4h0M146.6 649.5h0M150.9 657.2h0M148.7 651.3h0M159.3 658.7h0M168.1 651.8h0M226.6 648.5h0M151.9 653.0h0M271.1 622.0h0M173.2 654.7h0M175.7 661.8h0M180.2 646.9h0M214.2 634.9h0M168.1 669.5h0M153.8 666.4h0M146.7 666.5h0M220.7 633.0h0M161.0 665.6h0M152.6 649.9h0M209.4 629.5h0M207.9 664.1h0M169.9 654.2h0M169.5 663.9h0M168.0 671.0h0M158.8 653.8h0M207.2 634.1h0M174.8 641.1h0M176.5 653.3h0M188.0 634.7h0M184.2 654.6h0M152.3 655.5h0M170.6 653.4h0M149.3 659.5h0M164.4 654.2h0M149.7 671.4h0M162.9 673.6h0M155.7 676.9h0M185.4 661.9h0M196.0 676.4h0M147.2 673.9h0M147.7 649.5h0M198.1 656.0h0M169.2 637.6h0M150.8 663.0h0M161.4 655.4h0M317.6 589.9h0M197.8 610.5h0M173.2 674.3h0M150.2 668.7h0M171.2 660.4h0M168.2 649.1h0M159.0 638.1h0M147.6 658.3h0M177.2 649.3h0M155.1 669.7h0M154.3 672.7h0M186.1 662.2h0M183.8 648.8h0M178.9 644.6h0M147.5 673.2h0M193.3 660.2h0M159.1 665.7h0M185.3 667.0h0M147.9 676.1h0M165.2 675.7h0M170.2 643.2h0M174.0 642.8h0M204.2 649.3h0M247.6 651.6h0M151.1 674.2h0M187.9 664.7h0M267.7 608.1h0M150.8 670.5h0M216.6 644.0h0M177.0 655.5h0M192.8 649.9h0M168.8 664.2h0M162.5 668.2h0M155.9 643.2h0M195.7 641.1h0M168.1 658.0h0M179.5 667.2h0M155.5 653.4h0M184.8 647.5h0M202.0 643.2h0M180.3 641.0h0M168.3 655.2h0M150.4 651.5h0M179.9 642.1h0M163.5 666.6h0M180.9 651.7h0M163.1 661.2h0M160.3 668.9h0M166.3 658.8h0M150.0 645.9h0M150.3 660.4h0M203.0 643.6h0M159.9 648.9h0M154.6 681.1h0M181.5 654.7h0M154.2 652.0h0M186.8 642.3h0M175.3 674.7h0M163.7 649.8h0M176.9 663.9h0M154.6 670.3h0M165.7 683.9h0M149.3 650.8h0M173.1 659.6h0M220.0 618.4h0M157.1 651.8h0M154.4 649.7h0M235.9 633.0h0M151.4 662.1h0M161.3 642.9h0M157.1 665.3h0M157.4 663.9h0M230.4 635.5h0M152.9 655.7h0M150.0 660.6h0M179.4 629.9h0M163.8 668.0h0M153.3 666.4h0M155.4 677.7h0M210.2 647.9h0M209.6 624.9h0M191.6 665.9h0M147.9 658.9h0M164.3 674.2h0M187.1 655.4h0M154.4 690.1h0M156.5 665.4h0M188.4 660.8h0M156.3 654.0h0M152.5 676.6h0M189.1 636.7h0M170.1 656.9h0M171.7 671.9h0M148.8 681.1h0M177.3 661.8h0M254.9 590.0h0M164.5 679.8h0M153.3 651.2h0M194.9 639.2h0M158.0 678.8h0M147.0 678.4h0M215.7 641.9h0M165.5 681.7h0M162.7 652.6h0M191.0 667.6h0M148.7 656.7h0M197.5 677.7h0M153.2 655.5h0M279.8 627.0h0M176.8 656.4h0M164.9 651.9h0M187.1 671.2h0M161.3 666.9h0M159.8 666.9h0M188.0 633.7h0M159.9 662.9h0M154.6 662.0h0M163.0 670.6h0M241.5 572.6h0M157.4 659.0h0M154.9 662.9h0M189.7 667.5h0M232.5 620.2h0M160.7 667.5h0M167.5 655.9h0M162.2 670.2h0M164.9 662.2h0M171.0 683.6h0M180.0 667.6h0M180.9 655.8h0M176.5 673.3h0M154.7 665.7h0M154.5 682.5h0M159.6 683.6h0M157.8 658.8h0M163.1 645.0h0M164.2 658.7h0M156.1 647.0h0M147.7 664.6h0M180.2 676.0h0M161.2 657.8h0M172.2 665.7h0M193.3 676.5h0M160.5 651.5h0M161.7 671.8h0M187.3 649.5h0M155.9 667.5h0M157.5 658.1h0M155.8 664.5h0M172.6 650.7h0M179.1 639.3h0M150.6 664.2h0M221.1 623.9h0M251.5 629.0h0M173.2 678.4h0M162.4 668.2h0M176.5 660.9h0M163.0 663.8h0M155.6 679.1h0M158.5 664.3h0M165.5 655.7h0M172.5 658.4h0M149.0 679.5h0M164.2 640.5h0M165.4 645.8h0M166.6 685.6h0M154.6 672.9h0M172.7 642.3h0M153.8 678.8h0M156.3 658.8h0M186.5 640.1h0M172.7 648.7h0M195.7 635.6h0M157.2 674.6h0M154.9 667.1h0M154.2 674.1h0M195.9 653.8h0M148.2 678.7h0M195.7 629.1h0M168.3 669.1h0M204.9 660.3h0M172.3 661.9h0M164.7 664.7h0M157.5 666.7h0M200.5 664.2h0M171.8 654.9h0M187.5 660.6h0M156.0 675.7h0M180.7 649.7h0M151.6 664.1h0M187.8 655.5h0M162.6 649.6h0M157.0 682.0h0M147.9 649.4h0M156.4 663.2h0M157.4 656.1h0M145.6 675.3h0M151.8 675.2h0M158.1 650.7h0M168.8 653.1h0M162.4 663.8h0M229.9 625.9h0M180.9 669.2h0M174.4 656.8h0M177.5 651.2h0M145.6 669.3h0M158.0 665.9h0M147.8 659.8h0M169.0 658.7h0M164.7 648.0h0M163.3 668.7h0M160.2 670.6h0M171.3 668.2h0M156.4 666.4h0M159.0 655.6h0M172.6 642.3h0M175.7 664.2h0M198.6 651.2h0M161.1 650.4h0M157.5 646.1h0M187.6 658.9h0M164.2 661.6h0M162.9 650.9h0M201.4 676.9h0M160.7 668.2h0M150.1 658.5h0M174.9 658.0h0M149.7 678.9h0M168.4 672.8h0M181.1 640.3h0M199.7 635.0h0M166.4 662.4h0M158.6 649.4h0M171.7 655.9h0M176.8 642.0h0M165.1 650.3h0M151.2 660.2h0M156.8 679.5h0M153.9 665.5h0M218.4 621.1h0M171.1 658.1h0M166.6 661.2h0M168.8 659.7h0M180.7 674.3h0M178.5 660.0h0M159.4 652.3h0M166.6 668.4h0M164.3 678.4h0M156.8 676.1h0M182.3 651.8h0M150.3 650.9h0M159.1 648.9h0M179.9 676.1h0M188.7 633.2h0M154.2 646.1h0M163.1 654.2h0M165.9 655.5h0M149.4 680.3h0M164.1 684.6h0M175.9 684.8h0M173.3 642.8h0M149.8 672.1h0M156.9 639.6h0M163.0 647.9h0M177.5 650.7h0M152.6 646.8h0M205.8 640.2h0M168.9 672.1h0M177.7 658.3h0M163.7 663.5h0M163.2 665.0h0M168.2 654.6h0M204.5 651.2h0M165.5 634.7h0M162.7 663.0h0M202.5 639.3h0M227.8 631.7h0M150.8 643.2h0M164.4 672.5h0M157.5 665.7h0M152.4 671.2h0M165.6 662.4h0M153.4 660.7h0M166.5 660.4h0M162.4 652.5h0M148.4 657.5h0M178.7 632.5h0M158.0 662.8h0M183.4 670.5h0M167.9 652.6h0M169.6 674.4h0M154.4 651.2h0M211.1 636.1h0M181.1 662.6h0M230.3 631.9h0M246.9 619.4h0M220.1 672.8h0M153.6 657.8h0M166.6 651.4h0M153.8 652.6h0M230.9 655.5h0M172.7 656.6h0M178.3 648.3h0M204.8 647.9h0M150.3 666.0h0M171.6 670.2h0M182.7 660.1h0M163.8 656.0h0M171.4 649.9h0M250.8 663.1h0M159.2 668.9h0M189.6 651.8h0M179.7 667.7h0M152.8 670.9h0M226.8 653.4h0M156.0 665.5h0M168.3 658.2h0M203.9 649.1h0M177.2 670.3h0M161.3 654.7h0M155.9 670.9h0M165.9 673.3h0M145.8 662.4h0M185.5 670.3h0M184.3 662.6h0M197.4 652.0h0M154.6 666.7h0M174.0 650.4h0M149.6 667.1h0M207.9 651.7h0M160.3 675.2h0M210.4 633.2h0M180.0 679.7h0M161.9 671.2h0M154.5 665.6h0M153.9 658.9h0M186.2 652.5h0M167.5 680.7h0M195.0 654.0h0M207.3 648.9h0M179.4 663.3h0M165.7 656.7h0M155.1 659.6h0M169.4 673.9h0M196.8 673.7h0M152.4 675.3h0M206.2 649.1h0M153.2 668.7h0M167.0 670.8h0M147.2 669.8h0M230.4 630.2h0M205.8 628.3h0M180.1 672.7h0M203.3 644.5h0M168.5 660.5h0M213.7 640.2h0M147.0 661.8h0M170.9 653.5h0M162.3 639.8h0M152.0 686.4h0M191.4 679.0h0M164.6 664.7h0M147.3 664.2h0M162.2 656.8h0M194.3 645.3h0M164.7 653.6h0M180.4 665.6h0M151.6 673.6h0M156.9 648.8h0M153.8 677.6h0M172.1 645.2h0M148.1 672.7h0M174.2 653.4h0M163.2 669.8h0M153.0 664.1h0M183.4 646.6h0M177.1 664.0h0M232.7 656.5h0M152.9 666.0h0M177.0 645.7h0M175.7 660.7h0M152.3 667.6h0M172.8 680.2h0M172.8 654.6h0M158.6 657.3h0M155.4 673.7h0M197.4 636.2h0M165.4 676.7h0M171.4 669.9h0M170.8 647.3h0M173.0 663.3h0M151.7 643.6h0M172.6 660.9h0M162.8 650.5h0M169.2 671.3h0M165.7 667.2h0M159.3 641.5h0M145.1 671.5h0M152.7 657.0h0M219.4 644.4h0M167.3 669.6h0M154.7 686.2h0M151.7 672.4h0M198.2 638.2h0M168.1 664.6h0M150.8 681.7h0M158.5 680.9h0M265.0 644.9h0M181.0 647.6h0M223.2 643.9h0M162.1 668.2h0M177.7 661.1h0M160.8 669.0h0M193.7 658.8h0M165.2 646.1h0M194.8 677.3h0M177.5 653.4h0M186.1 638.8h0M164.5 664.9h0M170.5 663.5h0M151.8 664.3h0M161.3 666.3h0M154.6 680.8h0M150.1 672.7h0M183.0 640.4h0M155.1 677.2h0M176.6 636.2h0M166.6 651.3h0M163.6 667.9h0M145.5 678.7h0M156.2 644.9h0M154.8 667.9h0M147.2 676.4h0M186.8 648.3h0M144.5 664.5h0M190.2 656.1h0M186.1 660.5h0M218.9 642.5h0M176.3 643.0h0M167.6 666.0h0M162.7 674.4h0M171.2 653.9h0M149.5 671.1h0M146.3 662.4h0M166.9 679.1h0M157.8 663.1h0M177.9 638.9h0M178.2 661.4h0M155.2 661.5h0M157.9 663.8h0M161.8 651.4h0M151.3 667.2h0M153.4 670.0h0M155.6 674.3h0M174.1 681.0h0M155.0 680.5h0M168.7 647.0h0M158.9 670.8h0M183.1 641.5h0M181.9 660.4h0M167.6 644.1h0M185.1 630.7h0M144.7 662.1h0M183.2 643.1h0M151.1 682.9h0M274.1 633.4h0M151.1 652.5h0M212.9 614.9h0M167.6 639.9h0M162.5 659.7h0M185.1 651.7h0M148.4 662.2h0M202.0 645.9h0M197.4 648.4h0M231.3 582.0h0M163.0 676.8h0M147.1 666.0h0M212.9 617.2h0M186.4 651.5h0M164.5 665.8h0M158.7 671.7h0M167.8 665.8h0M170.1 644.0h0M155.5 671.2h0M236.6 662.8h0M154.2 651.4h0M151.3 661.2h0M218.4 595.4h0M165.2 678.3h0M145.0 668.3h0M214.5 660.0h0M151.5 687.3h0M158.9 661.1h0M165.6 660.3h0M182.3 678.1h0M193.3 644.9h0M176.6 670.9h0M177.6 674.2h0M161.8 677.4h0M195.6 663.1h0M159.1 673.6h0M164.4 655.6h0M147.9 665.4h0M180.8 660.5h0M184.9 665.6h0M164.3 656.4h0M146.4 666.5h0M150.8 656.8h0M173.1 651.2h0M168.6 686.8h0M169.3 645.4h0M265.6 630.8h0M160.8 680.0h0M159.7 679.9h0M159.1 661.2h0M152.4 671.4h0M147.4 664.1h0M165.7 661.0h0M174.3 650.1h0M174.2 632.4h0M231.3 591.6h0M169.8 637.3h0M152.2 661.4h0M175.7 632.8h0M165.4 669.1h0M168.5 644.0h0M165.3 673.6h0M195.7 646.5h0M165.8 668.1h0M194.3 678.2h0M216.0 655.8h0M173.9 656.9h0M149.0 665.9h0M150.8 669.5h0M146.0 668.9h0M148.7 664.7h0M151.6 656.7h0M153.6 667.7h0M158.7 649.6h0M152.0 667.5h0M164.6 668.1h0M151.8 659.5h0M156.9 670.2h0M280.7 612.5h0M204.7 644.1h0M163.5 661.9h0M188.2 643.1h0M185.9 656.6h0M178.5 643.2h0M157.9 665.3h0M208.4 656.1h0M160.9 653.4h0M159.8 659.4h0M160.5 663.1h0M150.2 674.7h0M208.2 672.6h0M165.7 663.9h0M159.4 649.2h0M162.8 655.9h0M189.4 659.0h0M298.1 654.2h0M182.2 667.0h0M180.7 675.7h0M147.2 675.8h0M146.1 662.6h0M163.7 650.1h0M154.8 667.2h0M192.4 657.6h0M153.8 651.8h0M159.4 658.9h0M275.7 610.0h0M153.3 671.8h0M169.2 662.5h0M167.9 642.3h0M145.4 674.6h0M146.9 671.2h0M236.7 675.5h0M156.5 656.0h0M180.2 649.1h0M206.2 619.0h0M168.3 660.0h0M149.2 669.1h0M162.8 647.5h0M167.6 659.7h0M176.3 652.5h0M233.8 648.2h0M162.8 664.6h0M210.6 641.3h0M164.3 634.6h0M156.7 658.6h0M162.3 675.5h0M152.2 663.9h0M148.0 675.3h0M256.2 609.9h0M159.0 658.6h0M205.5 646.8h0M171.9 645.5h0M172.4 648.3h0M152.1 652.4h0M156.6 671.1h0M148.0 663.7h0M149.0 652.8h0M171.1 677.3h0M188.6 663.7h0M159.9 644.3h0M216.9 637.5h0M172.0 659.8h0M158.1 652.4h0M186.1 645.8h0M167.2 666.2h0M177.3 648.5h0M180.5 681.5h0M168.1 678.0h0M176.7 644.4h0M168.4 666.9h0M151.8 659.1h0M156.3 677.1h0M174.0 664.6h0M160.7 662.1h0M151.2 668.7h0M157.5 669.3h0M265.2 622.0h0M158.1 643.3h0M162.7 656.5h0M152.6 674.6h0M165.7 653.0h0M166.2 674.7h0M160.0 647.0h0M180.8 671.1h0M157.9 673.0h0M148.6 668.2h0M150.6 667.9h0M196.0 632.5h0M150.8 665.3h0M161.6 663.7h0M203.2 659.8h0M167.3 661.1h0M167.4 670.5h0M170.5 677.9h0M158.4 648.5h0M346.3 559h0M353.5 574.3h0M358.4 574.3h0M356.1 580.2h0M360.4 587.4h0M352.9 594.9h0M356.8 593.6h0M368.5 588.4h0M381.3 566.2h0M381.3 569.8h0M381.3 580.2h0M386.5 575.3h0M378.3 593.6h0M386.5 602.1h0M405.8 549.8h0M397.9 561.6h0M398.9 573h0M411 561.3h0M421.4 569.1h0M415.9 603.4h0M433.8 550.5h0M439.4 534.5h0M440 538.4h0M450.2 543.3h0M460.6 526.3h0M343.7 602.1h0M340.1 606.7h0M336.5 612.5h0M314.3 538h0M275.8 567.8h0" stroke="#000" stroke-width="2.75" stroke-linecap="round" fill="none"/>
<path d="M88.0 702.0L470.5 395.4" stroke="#1a1ac4" stroke-width="1.8"/>
<path d="M138.3 669.8 L143.7 668.8 L149.2 667.6 L154.6 665.6 L160.1 663.6 L165.5 661.6 L171.0 659.7 L176.4 657.6 L181.8 655.3 L187.3 653.0 L192.7 650.8 L198.2 648.8 L203.6 646.8 L209.1 644.8 L214.5 642.8 L220.0 640.8 L225.4 638.6 L230.9 636.4 L236.3 634.1 L241.8 631.9 L247.2 629.7 L252.7 627.5 L258.1 625.2 L263.5 623.0 L269.0 620.8 L274.4 618.6 L279.9 616.3 L285.3 614.1 L290.8 611.9 L296.2 609.7 L301.7 607.4 L307.1 605.2 L312.6 603.0 L318.0 600.8 L323.5 598.6 L328.9 596.3 L334.4 594.1 L339.8 591.9 L345.2 589.5 L350.7 587.2 L356.1 584.9 L361.6 582.5 L367.0 580.2 L372.5 577.8 L377.9 575.5 L383.4 573.2 L388.8 570.8 L394.3 568.5 L399.7 566.1 L405.2 563.8 L410.6 561.5 L416.0 559.1 L421.5 556.8 L426.9 554.4 L432.4 552.1 L437.8 549.8 L443.3 547.4 L448.7 545.1 L454.2 542.7 L459.6 540.4" stroke="#c41f1f" stroke-width="1.7" fill="none"/>
<rect x="69.3" y="380.7" width="420.0" height="336.59999999999997" fill="none" stroke="#7c7c7c" stroke-width="1.4"/>
<path d="M64.3 702.0H69.3M88.0 717.3V722" stroke="#222" stroke-width="1.5"/>
<text x="54.0" y="705.8" font-size="18" font-weight="normal" font-style="normal" text-anchor="end" fill="#111" stroke="#111" stroke-width="0.7" >0</text>
<text x="87.2" y="746.0" font-size="18" font-weight="normal" font-style="normal" text-anchor="middle" fill="#111" stroke="#111" stroke-width="0.7" >0</text>
<path d="M64.3 614.4H69.3M197.3 717.3V722" stroke="#222" stroke-width="1.5"/>
<text x="54.0" y="618.1999999999999" font-size="18" font-weight="normal" font-style="normal" text-anchor="end" fill="#111" stroke="#111" stroke-width="0.7" >0.2</text>
<text x="196.5" y="746.0" font-size="18" font-weight="normal" font-style="normal" text-anchor="middle" fill="#111" stroke="#111" stroke-width="0.7" >0.2</text>
<path d="M64.3 526.8H69.3M306.6 717.3V722" stroke="#222" stroke-width="1.5"/>
<text x="54.0" y="530.5999999999999" font-size="18" font-weight="normal" font-style="normal" text-anchor="end" fill="#111" stroke="#111" stroke-width="0.7" >0.4</text>
<text x="305.8" y="746.0" font-size="18" font-weight="normal" font-style="normal" text-anchor="middle" fill="#111" stroke="#111" stroke-width="0.7" >0.4</text>
<path d="M64.3 439.2H69.3M415.9 717.3V722" stroke="#222" stroke-width="1.5"/>
<text x="54.0" y="443.0" font-size="18" font-weight="normal" font-style="normal" text-anchor="end" fill="#111" stroke="#111" stroke-width="0.7" >0.6</text>
<text x="415.09999999999997" y="746.0" font-size="18" font-weight="normal" font-style="normal" text-anchor="middle" fill="#111" stroke="#111" stroke-width="0.7" >0.6</text>
<text x="136.0" y="783.6" font-size="18" fill="#111" stroke="#111" stroke-width="0.5"><tspan fill="#da2a16" stroke="#da2a16">&#8211;JQ1</tspan> GATA1 occupancy (RPKM)</text>
<text transform="translate(13.9,683.8) rotate(-90)" x="0" y="0" font-size="18" fill="#111" stroke="#111" stroke-width="0.5" xml:space="preserve"><tspan fill="#da2a16" stroke="#da2a16">+ JQ1</tspan> GATA1 occupancy  (RPKM)</text>
<text x="-0.3" y="840.4" font-size="23.5" font-weight="bold" font-style="normal" text-anchor="start" fill="#111" stroke="#111" stroke-width="0.8" >C</text>
<rect x="67.5" y="830.6" width="287.5" height="413.9999999999999" fill="#fff"/>
<path d="M67.5 1226.3H355" stroke="#e8e8e8" stroke-width="1.2"/>
<path d="M67.5 1188.5H355" stroke="#f2f2f2" stroke-width="1.2"/>
<path d="M67.5 1150.7H355" stroke="#e8e8e8" stroke-width="1.2"/>
<path d="M67.5 1112.9H355" stroke="#f2f2f2" stroke-width="1.2"/>
<path d="M67.5 1075.1H355" stroke="#e8e8e8" stroke-width="1.2"/>
<path d="M67.5 1037.3H355" stroke="#f2f2f2" stroke-width="1.2"/>
<path d="M67.5 999.5H355" stroke="#e8e8e8" stroke-width="1.2"/>
<path d="M67.5 961.7H355" stroke="#f2f2f2" stroke-width="1.2"/>
<path d="M67.5 923.9H355" stroke="#e8e8e8" stroke-width="1.2"/>
<path d="M67.5 886.1H355" stroke="#f2f2f2" stroke-width="1.2"/>
<path d="M67.5 848.3H355" stroke="#e8e8e8" stroke-width="1.2"/>
<path d="M145.9 830.6V1244.6" stroke="#e8e8e8" stroke-width="1.2"/>
<path d="M276.6 830.6V1244.6" stroke="#e8e8e8" stroke-width="1.2"/>
<path d="M113.2 966.3V995.4M113.2 1016.2V1043" stroke="#2b2b2b" stroke-width="1.8"/>
<rect x="97.1" y="995.4" width="32.10000000000001" height="20.800000000000068" fill="#e8726a" stroke="#2b2b2b" stroke-width="1.8"/>
<path d="M97.1 1006H129.20000000000002" stroke="#2b2b33" stroke-width="3"/>
<path d="M113.2 872h0M113.2 1089.6h0M113.2 1094.5h0M113.2 1100.6h0M113.2 1112.9h0M113.2 1116.5h0M113.2 1139.3h0M113.2 1148.4h0M113.2 1183.9h0M113.2 925.7h0M113.2 928.7h0M113.2 931.3h0M113.2 934.2h0M113.2 935.4h0M113.2 938.0h0M113.2 941.6h0M113.2 943.7h0M113.2 945.0h0M113.2 948.5h0M113.2 951.2h0M113.2 952.7h0M113.2 955.5h0M113.2 959.1h0M113.2 960.6h0M113.2 962.9h0M113.2 1046.4h0M113.2 1049.2h0M113.2 1050.8h0M113.2 1052.3h0M113.2 1055.8h0M113.2 1057.6h0M113.2 1059.8h0M113.2 1062.5h0M113.2 1064.6h0M113.2 1065.6h0M113.2 1067.3h0M113.2 1069.5h0M113.2 1072.5h0M113.2 1075.1h0M113.2 1077.2h0M113.2 1078.7h0M113.2 1078.8h0" stroke="#000" stroke-width="7.3" stroke-linecap="round" fill="none"/>
<path d="M146.0 976V1000.8M146.0 1018V1042" stroke="#2b2b2b" stroke-width="1.8"/>
<rect x="130.4" y="1000.8" width="31.099999999999984" height="17.200000000000045" fill="#5bb84a" stroke="#2b2b2b" stroke-width="1.8"/>
<path d="M130.4 1007.7H161.5" stroke="#2b2b33" stroke-width="3"/>
<path d="M146.0 872h0M146.0 917.4h0M146.0 1109.2h0M146.0 1112.9h0M146.0 1116.5h0M146.0 1143.5h0M146.0 1148.4h0M146.0 1164.3h0M146.0 1183.9h0M146.0 930.5h0M146.0 932.0h0M146.0 934.9h0M146.0 937.2h0M146.0 939.6h0M146.0 941.6h0M146.0 943.1h0M146.0 944.6h0M146.0 947.2h0M146.0 949.0h0M146.0 950.0h0M146.0 951.5h0M146.0 954.9h0M146.0 957.7h0M146.0 960.2h0M146.0 962.3h0M146.0 965.4h0M146.0 967.1h0M146.0 969.7h0M146.0 970.8h0M146.0 972.7h0M146.0 1045.4h0M146.0 1048.9h0M146.0 1051.8h0M146.0 1053.0h0M146.0 1055.5h0M146.0 1057.3h0M146.0 1060.7h0M146.0 1061.8h0M146.0 1062.8h0M146.0 1064.1h0M146.0 1065.9h0M146.0 1069.2h0M146.0 1071.7h0M146.0 1074.4h0M146.0 1075.5h0M146.0 1077.0h0M146.0 1079.0h0M146.0 1081.6h0M146.0 1084.6h0M146.0 1087.1h0M146.0 1088.8h0M146.0 1090.3h0M146.0 1092.3h0M146.0 1094.0h0M146.0 1094.8h0" stroke="#000" stroke-width="7.3" stroke-linecap="round" fill="none"/>
<path d="M178.6 975V1004M178.6 1023.1V1050.4" stroke="#2b2b2b" stroke-width="1.8"/>
<rect x="162.7" y="1004" width="32.39999999999999" height="19.100000000000023" fill="#6d93f2" stroke="#2b2b2b" stroke-width="1.8"/>
<path d="M162.7 1010.9H195.1" stroke="#2b2b33" stroke-width="3"/>
<path d="M178.6 1093.3h0M178.6 1101.8h0M178.6 1109.2h0M178.6 1122.2h0M178.6 1143.5h0M178.6 1150.1h0M178.6 959.9h0M178.6 963.2h0M178.6 966.3h0M178.6 967.6h0M178.6 970.7h0M178.6 971.5h0M178.6 1053.8h0M178.6 1055.2h0M178.6 1058.0h0M178.6 1059.8h0M178.6 1063.0h0M178.6 1065.8h0M178.6 1068.4h0M178.6 1071.0h0M178.6 1074.4h0M178.6 1076.4h0" stroke="#000" stroke-width="7.3" stroke-linecap="round" fill="none"/>
<path d="M243.9 960.8V997.1M243.9 1024.5V1060.8" stroke="#2b2b2b" stroke-width="1.8"/>
<rect x="227.4" y="997.1" width="32.60000000000001" height="27.399999999999977" fill="#e8726a" stroke="#2b2b2b" stroke-width="1.8"/>
<path d="M227.4 1010.5H260.0" stroke="#2b2b33" stroke-width="3"/>
<path d="M243.9 930.2h0M243.9 953h0M243.9 1103.7h0M243.9 1128.7h0M243.9 1173.5h0M243.9 1069.9h0M243.9 1071.0h0M243.9 1074.5h0M243.9 1076.7h0M243.9 1078.4h0M243.9 1081.7h0M243.9 1085.1h0M243.9 1088.1h0M243.9 1091.0h0M243.9 1092.0h0M243.9 1093.7h0M243.9 1095.4h0" stroke="#000" stroke-width="7.3" stroke-linecap="round" fill="none"/>
<path d="M276.7 964.5V1005.6M276.7 1038V1085.3" stroke="#2b2b2b" stroke-width="1.8"/>
<rect x="261.20000000000005" y="1005.6" width="31.599999999999955" height="32.39999999999998" fill="#5bb84a" stroke="#2b2b2b" stroke-width="1.8"/>
<path d="M261.20000000000005 1020.3H292.79999999999995" stroke="#2b2b33" stroke-width="3"/>
<path d="M276.7 921.6h0M276.7 1109.3h0M276.7 1132.6h0M276.7 1141.6h0M276.7 1146.5h0M276.7 1152.2h0M276.7 1163h0M276.7 1173.5h0M276.7 1181.6h0M276.7 1091.2h0M276.7 1094.2h0" stroke="#000" stroke-width="7.3" stroke-linecap="round" fill="none"/>
<path d="M309.8 969.9V1014.2M309.8 1064V1138" stroke="#2b2b2b" stroke-width="1.8"/>
<rect x="294.0" y="1014.2" width="32.10000000000001" height="49.799999999999955" fill="#6d93f2" stroke="#2b2b2b" stroke-width="1.8"/>
<path d="M294.0 1026.2H326.09999999999997" stroke="#2b2b33" stroke-width="3"/>
<path d="M309.8 1141.6h0M309.8 1156.3h0M309.8 1158h0M309.8 1174.7h0M309.8 1181.3h0" stroke="#000" stroke-width="7.3" stroke-linecap="round" fill="none"/>
<path d="M67.5 999.3H355" stroke="#c2401c" stroke-width="1.2" stroke-dasharray="9 0.6"/>
<rect x="67.5" y="830.6" width="287.5" height="413.9999999999999" fill="none" stroke="#7c7c7c" stroke-width="1.4"/>
<path d="M59.6 848.3H67.5" stroke="#111" stroke-width="2"/>
<text x="56.8" y="853.5" font-size="19" font-weight="normal" font-style="normal" text-anchor="end" fill="#111" stroke="#111" stroke-width="0.65" >4</text>
<path d="M59.6 923.9H67.5" stroke="#111" stroke-width="2"/>
<text x="56.8" y="929.1" font-size="19" font-weight="normal" font-style="normal" text-anchor="end" fill="#111" stroke="#111" stroke-width="0.65" >2</text>
<path d="M59.6 999.5H67.5" stroke="#111" stroke-width="2"/>
<text x="56.8" y="1004.7" font-size="19" font-weight="normal" font-style="normal" text-anchor="end" fill="#111" stroke="#111" stroke-width="0.65" >0</text>
<path d="M59.6 1075.1H67.5" stroke="#111" stroke-width="2"/>
<text x="56.8" y="1080.3" font-size="19" font-weight="normal" font-style="normal" text-anchor="end" fill="#111" stroke="#111" stroke-width="0.65" >-2</text>
<path d="M59.6 1150.7H67.5" stroke="#111" stroke-width="2"/>
<text x="56.8" y="1155.9" font-size="19" font-weight="normal" font-style="normal" text-anchor="end" fill="#111" stroke="#111" stroke-width="0.65" >-4</text>
<path d="M59.6 1226.3H67.5" stroke="#111" stroke-width="2"/>
<text x="56.8" y="1231.5" font-size="19" font-weight="normal" font-style="normal" text-anchor="end" fill="#111" stroke="#111" stroke-width="0.65" >-6</text>
<path d="M145.9 1244.6V1251.5" stroke="#111" stroke-width="2"/>
<path d="M276.6 1244.6V1251.5" stroke="#111" stroke-width="2"/>
<path d="M107.1 1200V1207.7H137.7V1200" stroke="#111" stroke-width="1.6" fill="none"/>
<path d="M148 1220V1228.6H178V1220" stroke="#111" stroke-width="1.6" fill="none"/>
<path d="M242.9 1199.4V1207.1H273.4V1199.4" stroke="#111" stroke-width="1.6" fill="none"/>
<path d="M279.4 1220.6V1228.6H310V1220.6" stroke="#111" stroke-width="1.6" fill="none"/>
<text x="117.1" y="1224.6" font-size="15" font-weight="bold" font-style="normal" text-anchor="middle" fill="#111" stroke="#111" stroke-width="0.45" >*</text>
<text x="130" y="1224.6" font-size="15" font-weight="bold" font-style="normal" text-anchor="middle" fill="#111" stroke="#111" stroke-width="0.45" >*</text>
<text x="161.4" y="1244.6" font-size="15" font-weight="bold" font-style="normal" text-anchor="middle" fill="#111" stroke="#111" stroke-width="0.45" >*</text>
<text x="252.9" y="1224.6" font-size="15" font-weight="bold" font-style="normal" text-anchor="middle" fill="#111" stroke="#111" stroke-width="0.45" >*</text>
<text x="266.3" y="1224.6" font-size="15" font-weight="bold" font-style="normal" text-anchor="middle" fill="#111" stroke="#111" stroke-width="0.45" >*</text>
<text x="296.6" y="1244.6" font-size="15" font-weight="bold" font-style="normal" text-anchor="middle" fill="#111" stroke="#111" stroke-width="0.45" >*</text>
<text x="2.0" y="1276.1" font-size="18" font-weight="normal" font-style="normal" text-anchor="start" fill="#111" stroke="#111" stroke-width="0.45" >GATA1-</text>
<text x="143.7" y="1275.8" font-size="18" font-weight="normal" font-style="normal" text-anchor="middle" fill="#111" stroke="#111" stroke-width="0.45" >repressed</text>
<text x="275.7" y="1275.8" font-size="18" font-weight="normal" font-style="normal" text-anchor="middle" fill="#111" stroke="#111" stroke-width="0.45" >activated</text>
<text transform="translate(14.6,1116.8) rotate(-90)" x="0" y="0" font-size="18" fill="#111" stroke="#111" stroke-width="0.5"><tspan fill="#da2a16" stroke="#da2a16">+ JQ1</tspan> log<tspan font-size="12.5" dy="4">2</tspan><tspan dy="-4"> mRNA change</tspan></text>
<text x="379.0" y="993.3" font-size="17.9" font-weight="normal" font-style="normal" text-anchor="start" fill="#111" stroke="#111" stroke-width="0.45" >% GATA1 lost</text>
<rect x="378.6" y="997.3" width="38.5" height="99.2" fill="#fff" stroke="#cfcfcf" stroke-width="1.6"/>
<path d="M378.6 1030.2H417.1M378.6 1063.5H417.1" stroke="#cfcfcf" stroke-width="1.6"/>
<path d="M398.2 999.8V1028" stroke="#222" stroke-width="1.8"/>
<rect x="383.6" y="1005.3" width="29" height="17.5" fill="#e8726a" stroke="#222" stroke-width="1.8"/>
<path d="M383.6 1013.9H412.6" stroke="#222" stroke-width="2"/>
<path d="M398.2 1032.6V1060.8" stroke="#222" stroke-width="1.8"/>
<rect x="383.6" y="1038.1" width="29" height="17.40000000000009" fill="#5bb84a" stroke="#222" stroke-width="1.8"/>
<path d="M383.6 1046.7H412.6" stroke="#222" stroke-width="2"/>
<path d="M398.2 1066V1094" stroke="#222" stroke-width="1.8"/>
<rect x="383.6" y="1071.2" width="29" height="17.399999999999864" fill="#6d93f2" stroke="#222" stroke-width="1.8"/>
<path d="M383.6 1079.6H412.6" stroke="#222" stroke-width="2"/>
<text x="432.2" y="1020.3" font-size="15.2" font-weight="normal" font-style="normal" text-anchor="start" fill="#111" stroke="#111" stroke-width="0.55" textLength="45.6" lengthAdjust="spacingAndGlyphs">0-25%</text>
<text x="432.2" y="1051.6" font-size="15.2" font-weight="normal" font-style="normal" text-anchor="start" fill="#111" stroke="#111" stroke-width="0.55" textLength="55" lengthAdjust="spacingAndGlyphs">25-50%</text>
<text x="432.4" y="1085.0" font-size="15.2" font-weight="normal" font-style="normal" text-anchor="start" fill="#111" stroke="#111" stroke-width="0.55" textLength="39.6" lengthAdjust="spacingAndGlyphs">&gt;50%</text>
<text x="381.2" y="1194.0" font-size="15.5" font-weight="bold" fill="#111" stroke="#111" stroke-width="0.2" textLength="6.6" lengthAdjust="spacingAndGlyphs">*</text>
<text x="393.8" y="1196.3" font-size="15" font-weight="bold" fill="#111" stroke="#111" stroke-width="0.2" textLength="8.2" lengthAdjust="spacingAndGlyphs">p</text>
<text x="406.8" y="1196.3" font-size="15" font-weight="bold" fill="#111" stroke="#111" stroke-width="0.2" textLength="8.4" lengthAdjust="spacingAndGlyphs">&lt;</text>
<text x="420.2" y="1196.3" font-size="14.5" font-weight="bold" fill="#111" stroke="#111" stroke-width="0.2" textLength="22.8" lengthAdjust="spacingAndGlyphs">.01</text>
<text x="381.2" y="1213.5" font-size="15.5" font-weight="bold" fill="#111" stroke="#111" stroke-width="0.2" textLength="17.2" lengthAdjust="spacingAndGlyphs">**</text>
<text x="398.7" y="1215.9" font-size="15" font-weight="bold" fill="#111" stroke="#111" stroke-width="0.2" textLength="8.2" lengthAdjust="spacingAndGlyphs">p</text>
<text x="411.7" y="1215.9" font-size="15" font-weight="bold" fill="#111" stroke="#111" stroke-width="0.2" textLength="8.4" lengthAdjust="spacingAndGlyphs">&lt;</text>
<text x="422.6" y="1215.9" font-size="14.5" font-weight="bold" fill="#111" stroke="#111" stroke-width="0.2" textLength="20.4" lengthAdjust="spacingAndGlyphs">10</text>
<text x="442.8" y="1209.6" font-size="10" font-weight="bold" fill="#111" stroke="#111" stroke-width="0.2" textLength="10.0" lengthAdjust="spacingAndGlyphs">-5</text>
</svg>
</body></html>
